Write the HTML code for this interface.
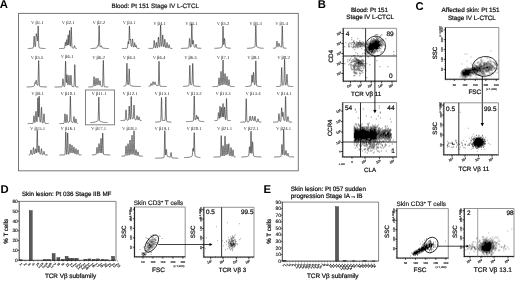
<!DOCTYPE html><html><head><meta charset="utf-8"><style>
html,body{margin:0;padding:0;background:#fff;width:520px;height:282px;overflow:hidden}
svg{display:block;filter:grayscale(1)}
text{text-rendering:geometricPrecision}
</style></head><body><svg xmlns="http://www.w3.org/2000/svg" width="520" height="282" viewBox="0 0 520 282">
<rect width="520" height="282" fill="#fff"/>
<text x="-0.2" y="8.3" font-size="11.3" font-family='"Liberation Sans", sans-serif' font-weight="bold" text-anchor="start" fill="#000">A</text>
<text x="317.8" y="8.3" font-size="11.3" font-family='"Liberation Sans", sans-serif' font-weight="bold" text-anchor="start" fill="#000">B</text>
<text x="415.6" y="9.6" font-size="11.3" font-family='"Liberation Sans", sans-serif' font-weight="bold" text-anchor="start" fill="#000">C</text>
<text x="0.4" y="192.8" font-size="11.3" font-family='"Liberation Sans", sans-serif' font-weight="bold" text-anchor="start" fill="#000">D</text>
<text x="263.6" y="192.5" font-size="11.3" font-family='"Liberation Sans", sans-serif' font-weight="bold" text-anchor="start" fill="#000">E</text>
<text x="111.5" y="8.2" font-size="6.3" font-family='"Liberation Sans", sans-serif' font-weight="normal" text-anchor="start" fill="#222" stroke="#222" stroke-width="0.22">Blood: Pt 151 Stage IV L-CTCL</text>
<rect x="18.5" y="13.4" width="279.8" height="157.4" stroke="#777" stroke-width="1" fill="none"/>
<text x="37.3" y="24.2" font-size="4.7" font-family='"Liberation Serif", serif' font-weight="normal" text-anchor="middle" fill="#1a1a1a">V β1.1</text>
<polyline points="27.8,48.5 27.9,48.5 28.1,48.5 28.2,48.5 28.4,48.5 28.5,48.5 28.7,48.5 28.8,48.5 29.0,48.5 29.1,48.5 29.3,48.5 29.4,48.5 29.6,48.4 29.7,48.4 29.9,48.4 30.0,48.4 30.2,48.4 30.3,48.4 30.5,48.4 30.6,48.4 30.8,48.4 30.9,48.4 31.1,48.3 31.2,48.3 31.4,48.3 31.5,48.3 31.7,48.3 31.8,48.3 32.0,48.2 32.1,48.2 32.3,48.2 32.4,48.2 32.6,48.1 32.7,48.1 32.9,48.0 33.0,47.9 33.2,47.7 33.3,47.2 33.5,46.1 33.6,44.2 33.8,41.5 33.9,38.6 34.1,36.4 34.2,36.1 34.4,37.5 34.5,40.2 34.7,42.9 34.8,45.0 35.0,46.2 35.1,46.7 35.3,46.7 35.4,46.2 35.6,45.1 35.7,43.1 35.9,40.2 36.0,37.0 36.2,34.6 36.3,33.6 36.5,34.1 36.6,35.1 36.8,35.9 36.9,36.4 37.1,37.0 37.2,38.3 37.4,40.0 37.5,40.9 37.7,39.5 37.8,35.2 38.0,29.5 38.1,25.9 38.3,26.9 38.4,32.2 38.6,38.6 38.7,43.6 38.9,46.2 39.0,47.3 39.2,47.7 39.3,47.8 39.5,47.9 39.6,47.9 39.8,48.0 39.9,48.0 40.1,48.1 40.2,48.1 40.4,48.1 40.5,48.2 40.7,48.2 40.8,48.2 41.0,48.2 41.1,48.3 41.3,48.3 41.4,48.3 41.6,48.3 41.7,48.3 41.9,48.3 42.0,48.4 42.2,48.4 42.3,48.4 42.5,48.4 42.6,48.4 42.8,48.4 42.9,48.4 43.1,48.4 43.2,48.4 43.4,48.4 43.5,48.5 43.7,48.5 43.8,48.5 44.0,48.5 44.1,48.5 44.3,48.5 44.4,48.5 44.6,48.5 44.7,48.5 44.9,48.5 45.0,48.5 45.2,48.5 45.3,48.5 45.5,48.5" fill="none" stroke="#222" stroke-width="0.6" stroke-linejoin="round"/>
<text x="68.2" y="24.2" font-size="4.7" font-family='"Liberation Serif", serif' font-weight="normal" text-anchor="middle" fill="#1a1a1a">V β2.1</text>
<polyline points="59.0,48.6 59.1,48.6 59.3,48.6 59.4,48.6 59.6,48.6 59.7,48.5 59.9,48.5 60.0,48.5 60.2,48.5 60.3,48.5 60.5,48.5 60.6,48.5 60.8,48.5 60.9,48.5 61.1,48.5 61.2,48.5 61.4,48.5 61.5,48.5 61.7,48.5 61.8,48.5 62.0,48.5 62.1,48.5 62.3,48.5 62.4,48.4 62.6,48.4 62.7,48.4 62.9,48.4 63.0,48.4 63.2,48.4 63.3,48.4 63.5,48.4 63.6,48.4 63.8,48.4 63.9,48.3 64.1,48.3 64.2,48.3 64.4,48.2 64.5,47.9 64.7,47.4 64.8,46.4 65.0,45.0 65.1,43.5 65.3,42.5 65.4,42.3 65.6,43.0 65.7,44.3 65.9,45.4 66.0,45.9 66.2,45.4 66.3,44.0 66.5,42.0 66.6,40.3 66.8,39.6 66.9,40.2 67.1,41.8 67.2,43.7 67.4,45.0 67.5,45.2 67.7,43.8 67.8,40.9 68.0,37.2 68.1,34.9 68.3,35.4 68.4,38.2 68.6,41.8 68.7,44.3 68.9,44.9 69.0,43.5 69.2,39.9 69.3,35.1 69.5,31.1 69.6,30.5 69.8,33.6 69.9,38.5 70.1,42.8 70.2,45.3 70.4,46.3 70.5,46.1 70.7,44.4 70.8,40.7 71.0,35.1 71.1,29.6 71.3,27.3 71.4,29.8 71.6,35.4 71.7,41.1 71.9,45.0 72.0,46.9 72.2,47.6 72.3,47.8 72.5,47.9 72.6,48.0 72.8,48.0 72.9,48.1 73.1,48.1 73.2,48.1 73.4,48.2 73.5,48.2 73.7,48.1 73.8,47.9 74.0,47.6 74.1,47.0 74.3,46.4 74.4,45.8 74.6,45.6 74.7,45.9 74.9,46.4 75.0,47.1 75.2,47.7 75.3,48.1 75.5,48.3 75.6,48.4 75.8,48.4 75.9,48.4 76.1,48.4 76.2,48.4 76.4,48.5 76.5,48.5 76.7,48.5" fill="none" stroke="#222" stroke-width="0.6" stroke-linejoin="round"/>
<text x="98.8" y="24.2" font-size="4.7" font-family='"Liberation Serif", serif' font-weight="normal" text-anchor="middle" fill="#1a1a1a">V β2.2</text>
<polyline points="90.6,48.5 90.8,48.5 90.9,48.5 91.1,48.5 91.2,48.5 91.4,48.5 91.5,48.5 91.7,48.5 91.8,48.5 92.0,48.5 92.1,48.5 92.3,48.5 92.4,48.4 92.6,48.4 92.7,48.4 92.9,48.4 93.0,48.4 93.2,48.4 93.3,48.4 93.5,48.4 93.6,48.4 93.8,48.4 93.9,48.3 94.1,48.3 94.2,48.3 94.4,48.3 94.5,48.3 94.7,48.3 94.8,48.2 95.0,48.2 95.1,48.2 95.3,48.2 95.4,48.1 95.6,48.1 95.7,48.1 95.9,48.0 96.0,48.0 96.2,47.9 96.3,47.9 96.5,47.8 96.6,47.8 96.8,47.7 96.9,47.5 97.1,47.3 97.2,46.9 97.4,46.4 97.5,45.9 97.7,45.6 97.8,45.6 98.0,45.8 98.1,46.1 98.3,46.1 98.4,45.3 98.6,42.8 98.7,38.0 98.9,31.6 99.0,26.4 99.2,25.5 99.3,29.5 99.5,35.9 99.6,41.4 99.8,44.8 99.9,46.2 100.1,46.7 100.2,46.9 100.4,46.9 100.5,46.9 100.7,46.8 100.8,46.5 101.0,46.2 101.1,45.9 101.3,45.7 101.4,45.8 101.6,46.2 101.7,46.7 101.9,47.1 102.0,47.5 102.2,47.7 102.3,47.8 102.5,47.9 102.6,48.0 102.8,48.0 102.9,48.0 103.1,48.1 103.2,48.1 103.4,48.1 103.5,48.2 103.7,48.2 103.8,48.2 104.0,48.3 104.1,48.3 104.3,48.3 104.4,48.3 104.6,48.3 104.7,48.3 104.9,48.3 105.0,48.4 105.2,48.4 105.3,48.4 105.5,48.4 105.6,48.4 105.8,48.4 105.9,48.4 106.1,48.4 106.2,48.4 106.4,48.4 106.5,48.5 106.7,48.5 106.8,48.5 107.0,48.5 107.1,48.5 107.3,48.5 107.4,48.5 107.6,48.5 107.7,48.5 107.9,48.5 108.0,48.5 108.2,48.5 108.3,48.5 108.5,48.5 108.6,48.5 108.8,48.5 108.9,48.5" fill="none" stroke="#222" stroke-width="0.6" stroke-linejoin="round"/>
<text x="129.2" y="24.2" font-size="4.7" font-family='"Liberation Serif", serif' font-weight="normal" text-anchor="middle" fill="#1a1a1a">V β3.1</text>
<polyline points="121.8,48.6 122.0,48.6 122.1,48.6 122.3,48.5 122.4,48.5 122.6,48.5 122.7,48.5 122.9,48.5 123.0,48.5 123.2,48.5 123.3,48.5 123.5,48.5 123.6,48.5 123.8,48.5 123.9,48.5 124.1,48.5 124.2,48.5 124.4,48.5 124.5,48.5 124.7,48.5 124.8,48.5 125.0,48.4 125.1,48.4 125.3,48.4 125.4,48.4 125.6,48.4 125.7,48.4 125.9,48.4 126.0,48.4 126.2,48.4 126.3,48.4 126.5,48.3 126.6,48.3 126.8,48.3 126.9,48.3 127.1,48.2 127.2,48.1 127.4,47.8 127.5,47.2 127.7,46.1 127.8,44.6 128.0,42.9 128.1,41.7 128.3,41.5 128.4,42.3 128.6,43.5 128.7,44.0 128.9,42.6 129.0,38.4 129.2,32.3 129.3,27.1 129.5,26.1 129.6,29.6 129.8,35.0 129.9,38.9 130.1,40.2 130.2,39.7 130.4,39.0 130.5,39.3 130.7,40.7 130.8,42.6 131.0,44.4 131.1,45.7 131.3,46.4 131.4,46.6 131.6,46.5 131.7,46.1 131.9,45.2 132.0,43.7 132.2,41.8 132.3,39.9 132.5,38.9 132.6,39.1 132.8,40.6 132.9,42.6 133.1,44.6 133.2,45.9 133.4,46.7 133.5,47.1 133.7,47.1 133.8,47.0 134.0,46.5 134.1,45.6 134.3,44.4 134.4,43.2 134.6,42.6 134.7,42.8 134.9,43.8 135.0,45.1 135.2,46.2 135.3,46.8 135.5,46.8 135.6,46.3 135.8,45.7 135.9,45.2 136.1,45.1 136.2,45.6 136.4,46.3 136.5,47.1 136.7,47.7 136.8,48.0 137.0,48.2 137.1,48.3 137.3,48.3 137.4,48.4 137.6,48.4 137.7,48.4 137.9,48.4 138.0,48.4 138.2,48.4 138.3,48.4 138.5,48.4 138.6,48.4 138.8,48.4 138.9,48.5 139.1,48.5 139.2,48.5 139.4,48.5 139.5,48.5" fill="none" stroke="#222" stroke-width="0.6" stroke-linejoin="round"/>
<text x="159.5" y="24.5" font-size="4.7" font-family='"Liberation Serif", serif' font-weight="normal" text-anchor="middle" fill="#1a1a1a">V β4.1</text>
<polyline points="148.5,48.4 148.7,48.4 148.8,48.4 149.0,48.4 149.1,48.4 149.3,48.4 149.4,48.4 149.6,48.4 149.7,48.4 149.9,48.4 150.0,48.4 150.2,48.4 150.3,48.4 150.5,48.4 150.6,48.4 150.8,48.4 150.9,48.4 151.1,48.4 151.2,48.4 151.4,48.4 151.5,48.4 151.7,48.4 151.8,48.4 152.0,48.4 152.1,48.3 152.3,48.3 152.4,48.3 152.6,48.3 152.7,48.3 152.9,48.3 153.0,48.3 153.2,48.2 153.3,48.0 153.5,47.4 153.6,46.3 153.8,44.7 153.9,42.7 154.1,41.0 154.2,40.4 154.4,41.0 154.5,42.7 154.7,44.6 154.8,46.3 155.0,47.3 155.1,47.9 155.3,48.0 155.4,47.9 155.6,47.5 155.7,46.8 155.9,45.6 156.0,44.1 156.2,42.9 156.3,42.4 156.5,42.9 156.6,44.1 156.8,45.5 156.9,46.6 157.1,47.4 157.2,47.7 157.4,47.8 157.5,47.5 157.7,46.7 157.8,45.2 158.0,43.0 158.1,40.3 158.3,38.0 158.4,37.1 158.6,37.9 158.7,40.1 158.9,42.7 159.0,44.9 159.2,46.2 159.3,46.9 159.5,47.2 159.6,47.1 159.8,46.8 159.9,45.7 160.1,42.9 160.2,37.9 160.4,31.3 160.5,25.9 160.7,25.0 160.8,29.0 161.0,35.5 161.1,41.1 161.3,44.5 161.4,46.0 161.6,46.4 161.7,46.3 161.9,45.9 162.0,44.8 162.2,42.9 162.3,40.2 162.5,37.2 162.6,35.1 162.8,34.9 162.9,36.5 163.1,39.4 163.2,42.4 163.4,44.7 163.5,46.1 163.7,46.8 163.8,47.0 164.0,46.8 164.1,46.2 164.3,44.8 164.4,42.9 164.6,40.9 164.7,39.4 164.9,39.2 165.0,40.4 165.2,42.5 165.3,44.6 165.5,46.2 165.6,47.2 165.8,47.7 165.9,47.9 166.1,47.8 166.2,47.6 166.4,47.0 166.5,45.9 166.7,44.6 166.8,43.2 167.0,42.5 167.1,42.7 167.3,43.7 167.4,45.1 167.6,46.4 167.7,47.3 167.9,47.8 168.0,48.1 168.2,48.1 168.3,47.9 168.5,47.5 168.6,46.9 168.8,46.0 168.9,45.2 169.1,44.7 169.2,44.8 169.4,45.5 169.5,46.3 169.7,47.2 169.8,47.8 170.0,48.1 170.1,48.2 170.3,48.3 170.4,48.3 170.6,48.3 170.7,48.3 170.9,48.3 171.0,48.3 171.2,48.3 171.3,48.4 171.5,48.4 171.6,48.4 171.8,48.4 171.9,48.4 172.1,48.4 172.2,48.4 172.4,48.4 172.5,48.4" fill="none" stroke="#222" stroke-width="0.6" stroke-linejoin="round"/>
<text x="191.5" y="24.5" font-size="4.7" font-family='"Liberation Serif", serif' font-weight="normal" text-anchor="middle" fill="#1a1a1a">V β5.1</text>
<polyline points="181.0,48.4 181.2,48.4 181.3,48.4 181.5,48.4 181.6,48.4 181.8,48.4 181.9,48.4 182.1,48.4 182.2,48.4 182.4,48.4 182.5,48.4 182.7,48.4 182.8,48.4 183.0,48.4 183.1,48.3 183.3,48.3 183.4,48.3 183.6,48.3 183.7,48.3 183.9,48.3 184.0,48.3 184.2,48.3 184.3,48.3 184.5,48.3 184.6,48.3 184.8,48.3 184.9,48.3 185.1,48.3 185.2,48.3 185.4,48.3 185.5,48.3 185.7,48.3 185.8,48.2 186.0,48.2 186.1,48.2 186.3,48.2 186.4,48.2 186.6,48.2 186.7,48.2 186.9,48.2 187.0,48.2 187.2,48.2 187.3,48.1 187.5,48.1 187.6,48.1 187.8,48.1 187.9,48.1 188.1,48.1 188.2,48.0 188.4,48.0 188.5,47.9 188.7,47.7 188.8,47.1 189.0,46.0 189.1,44.3 189.3,41.9 189.4,39.7 189.6,38.4 189.7,38.6 189.9,40.2 190.0,42.5 190.2,44.5 190.3,46.0 190.5,46.8 190.6,47.1 190.8,47.1 190.9,46.9 191.1,46.1 191.2,43.9 191.4,39.5 191.5,33.0 191.7,26.7 191.8,23.9 192.0,26.6 192.1,32.8 192.3,39.0 192.4,43.0 192.6,44.3 192.7,43.9 192.9,42.6 193.0,41.1 193.2,40.3 193.3,40.5 193.5,41.7 193.6,43.3 193.8,44.8 193.9,45.9 194.1,46.6 194.2,46.9 194.4,47.1 194.5,47.2 194.7,47.2 194.8,47.3 195.0,47.3 195.1,47.3 195.3,47.1 195.4,46.7 195.6,46.0 195.7,45.1 195.9,44.4 196.0,44.2 196.2,44.5 196.3,45.3 196.5,46.3 196.6,47.0 196.8,47.6 196.9,47.8 197.1,48.0 197.2,48.0 197.4,48.1 197.5,48.1 197.7,48.1 197.8,48.1 198.0,48.1 198.1,48.1 198.3,48.2 198.4,48.2 198.6,48.2 198.7,48.2 198.9,48.2 199.0,48.2 199.2,48.2 199.3,48.2 199.5,48.2 199.6,48.2 199.8,48.3 199.9,48.3 200.1,48.3 200.2,48.3 200.4,48.3 200.5,48.3 200.7,48.3 200.8,48.3 201.0,48.3 201.1,48.3 201.3,48.3" fill="none" stroke="#222" stroke-width="0.6" stroke-linejoin="round"/>
<text x="223" y="24.5" font-size="4.7" font-family='"Liberation Serif", serif' font-weight="normal" text-anchor="middle" fill="#1a1a1a">V β5.2</text>
<polyline points="214.4,48.3 214.6,48.3 214.7,48.3 214.9,48.3 215.0,48.3 215.2,48.3 215.3,48.3 215.5,48.3 215.6,48.3 215.8,48.3 215.9,48.3 216.1,48.3 216.2,48.3 216.4,48.3 216.5,48.3 216.7,48.3 216.8,48.2 217.0,48.2 217.1,48.2 217.3,48.2 217.4,48.2 217.6,48.2 217.7,48.2 217.9,48.2 218.0,48.2 218.2,48.2 218.3,48.1 218.5,48.1 218.6,48.1 218.8,48.1 218.9,48.1 219.1,48.1 219.2,48.0 219.4,48.0 219.5,48.0 219.7,48.0 219.8,47.9 220.0,47.9 220.1,47.9 220.3,47.8 220.4,47.8 220.6,47.7 220.7,47.7 220.9,47.6 221.0,47.6 221.2,47.5 221.3,47.5 221.5,47.4 221.6,47.3 221.8,47.2 221.9,47.1 222.1,47.0 222.2,46.4 222.4,45.0 222.5,41.7 222.7,36.3 222.8,30.1 223.0,26.2 223.1,27.0 223.3,31.9 223.4,38.0 223.6,42.5 223.7,44.5 223.9,44.6 224.0,43.3 224.2,41.4 224.3,39.5 224.5,38.4 224.6,38.7 224.8,40.2 224.9,42.3 225.1,44.3 225.2,45.7 225.4,46.5 225.5,46.9 225.7,47.1 225.8,47.3 226.0,47.3 226.1,47.4 226.3,47.5 226.4,47.5 226.6,47.6 226.7,47.7 226.9,47.7 227.0,47.8 227.2,47.8 227.3,47.8 227.5,47.9 227.6,47.9 227.8,48.0 227.9,48.0 228.1,48.0 228.2,48.0 228.4,48.1 228.5,48.1 228.7,48.1 228.8,48.1 229.0,48.1 229.1,48.1 229.3,48.2 229.4,48.2 229.6,48.2 229.7,48.2 229.9,48.2 230.0,48.2 230.2,48.2 230.3,48.2 230.5,48.2 230.6,48.2 230.8,48.3" fill="none" stroke="#222" stroke-width="0.6" stroke-linejoin="round"/>
<text x="255.5" y="24.5" font-size="4.7" font-family='"Liberation Serif", serif' font-weight="normal" text-anchor="middle" fill="#1a1a1a">V β5.3</text>
<polyline points="247.0,48.3 247.2,48.3 247.3,48.3 247.5,48.3 247.6,48.3 247.8,48.3 247.9,48.3 248.1,48.3 248.2,48.3 248.4,48.3 248.5,48.3 248.7,48.3 248.8,48.3 249.0,48.2 249.1,48.2 249.3,48.2 249.4,48.2 249.6,48.2 249.7,48.2 249.9,48.2 250.0,48.2 250.2,48.2 250.3,48.2 250.5,48.1 250.6,48.1 250.8,48.1 250.9,48.1 251.1,48.1 251.2,48.1 251.4,48.0 251.5,48.0 251.7,48.0 251.8,48.0 252.0,47.9 252.1,47.9 252.3,47.8 252.4,47.8 252.6,47.8 252.7,47.7 252.9,47.7 253.0,47.6 253.2,47.5 253.3,47.5 253.5,47.4 253.6,47.3 253.8,47.3 253.9,47.2 254.1,47.1 254.2,47.1 254.4,47.0 254.5,46.9 254.7,46.8 254.8,46.7 255.0,46.4 255.1,45.3 255.3,42.6 255.4,37.7 255.6,31.3 255.7,26.1 255.9,25.2 256.0,29.2 256.2,35.6 256.3,41.2 256.5,44.6 256.6,46.1 256.8,46.6 256.9,46.8 257.1,46.9 257.2,47.0 257.4,47.0 257.5,47.1 257.7,47.2 257.8,47.2 258.0,47.3 258.1,47.4 258.3,47.5 258.4,47.5 258.6,47.6 258.7,47.6 258.9,47.7 259.0,47.7 259.2,47.8 259.3,47.8 259.5,47.9 259.6,47.9 259.8,47.9 259.9,48.0 260.1,48.0 260.2,48.0 260.4,48.0 260.5,48.1 260.7,48.1 260.8,48.1 261.0,48.1 261.1,48.1 261.3,48.1 261.4,48.2 261.6,48.2 261.7,48.2 261.9,48.2 262.0,48.2 262.2,48.2 262.3,48.2 262.5,48.2 262.6,48.2 262.8,48.2 262.9,48.3 263.1,48.3 263.2,48.3 263.4,48.3 263.5,48.3" fill="none" stroke="#222" stroke-width="0.6" stroke-linejoin="round"/>
<text x="281.5" y="24.5" font-size="4.7" font-family='"Liberation Serif", serif' font-weight="normal" text-anchor="middle" fill="#1a1a1a">V β5.4</text>
<polyline points="273.0,48.2 273.1,48.2 273.3,48.2 273.4,48.2 273.6,48.2 273.7,48.2 273.9,48.2 274.0,48.1 274.2,48.1 274.3,48.1 274.5,48.1 274.6,48.1 274.8,48.1 274.9,48.0 275.1,48.0 275.2,48.0 275.4,48.0 275.5,47.9 275.7,47.9 275.8,47.8 276.0,47.7 276.1,47.4 276.3,46.8 276.4,45.7 276.6,44.2 276.7,42.5 276.9,41.3 277.0,41.1 277.2,41.9 277.3,43.3 277.5,44.8 277.6,45.9 277.8,46.5 277.9,46.8 278.1,46.7 278.2,46.5 278.4,46.0 278.5,45.2 278.7,44.3 278.8,43.6 279.0,43.2 279.1,43.5 279.3,44.2 279.4,45.0 279.6,45.8 279.7,46.2 279.9,46.5 280.0,46.6 280.2,46.7 280.3,46.8 280.5,46.8 280.6,46.9 280.8,46.9 280.9,47.0 281.1,47.1 281.2,47.1 281.4,47.0 281.5,46.3 281.7,44.4 281.8,40.4 282.0,34.3 282.1,28.4 282.3,25.9 282.4,28.5 282.6,34.6 282.7,40.7 282.9,44.9 283.0,46.9 283.2,47.7 283.3,47.9 283.5,48.0 283.6,48.0 283.8,48.0 283.9,48.0 284.1,48.1 284.2,48.1 284.4,48.1 284.5,48.1 284.7,48.1 284.8,48.1 285.0,48.2 285.1,48.2 285.3,48.2 285.4,48.2 285.6,48.2 285.7,48.2 285.9,48.2 286.0,48.2 286.2,48.2 286.3,48.2 286.5,48.3" fill="none" stroke="#222" stroke-width="0.6" stroke-linejoin="round"/>
<text x="37" y="59.2" font-size="4.7" font-family='"Liberation Serif", serif' font-weight="normal" text-anchor="middle" fill="#1a1a1a">V β5.5</text>
<polyline points="26.7,87.0 26.8,87.0 27.0,86.9 27.1,86.9 27.3,86.9 27.4,86.9 27.6,86.9 27.7,86.9 27.9,86.9 28.0,86.9 28.2,86.9 28.3,86.9 28.5,86.9 28.6,86.9 28.8,86.9 28.9,86.9 29.1,86.9 29.2,86.9 29.4,86.9 29.5,86.9 29.7,86.8 29.8,86.8 30.0,86.8 30.1,86.8 30.3,86.8 30.4,86.8 30.6,86.8 30.7,86.8 30.9,86.8 31.0,86.8 31.2,86.7 31.3,86.7 31.5,86.7 31.6,86.7 31.8,86.7 31.9,86.7 32.1,86.6 32.2,86.6 32.4,86.6 32.5,86.6 32.7,86.5 32.8,86.5 33.0,86.5 33.1,86.4 33.3,86.4 33.4,86.3 33.6,86.3 33.7,86.2 33.9,86.1 34.0,86.0 34.2,85.8 34.3,85.4 34.5,84.8 34.6,84.0 34.8,83.2 34.9,82.7 35.1,82.7 35.2,83.0 35.4,83.4 35.5,83.5 35.7,83.0 35.8,82.0 36.0,80.9 36.1,80.3 36.3,80.4 36.4,81.3 36.6,82.5 36.7,83.6 36.9,84.5 37.0,84.9 37.2,85.2 37.3,85.3 37.5,85.3 37.6,85.3 37.8,85.2 37.9,84.4 38.1,82.2 38.2,77.4 38.4,70.3 38.5,63.4 38.7,60.5 38.8,63.5 39.0,70.6 39.1,77.8 39.3,82.7 39.4,85.1 39.6,86.0 39.7,86.3 39.9,86.4 40.0,86.4 40.2,86.5 40.3,86.5 40.5,86.5 40.6,86.6 40.8,86.6 40.9,86.6 41.1,86.6 41.2,86.7 41.4,86.7 41.5,86.7 41.7,86.7 41.8,86.7 42.0,86.7 42.1,86.8 42.3,86.8 42.4,86.8 42.6,86.8 42.7,86.8 42.9,86.8 43.0,86.8 43.2,86.8 43.3,86.8 43.5,86.8 43.6,86.9 43.8,86.9 43.9,86.9 44.1,86.9 44.2,86.9 44.4,86.9 44.5,86.9 44.7,86.9 44.8,86.9 45.0,86.9 45.1,86.9 45.3,86.9 45.4,86.9 45.6,86.9 45.7,86.9 45.9,86.9 46.0,86.9 46.2,86.9 46.3,87.0 46.5,87.0 46.6,87.0 46.8,87.0 46.9,87.0" fill="none" stroke="#222" stroke-width="0.6" stroke-linejoin="round"/>
<text x="67" y="58.3" font-size="4.7" font-family='"Liberation Serif", serif' font-weight="normal" text-anchor="middle" fill="#1a1a1a">V β6.1</text>
<polyline points="54.6,87.0 54.8,87.0 54.9,87.0 55.0,87.0 55.2,87.0 55.3,87.0 55.5,87.0 55.6,87.0 55.8,87.0 55.9,87.0 56.1,87.0 56.2,87.0 56.4,87.0 56.5,87.0 56.7,87.0 56.8,87.0 57.0,87.0 57.1,87.0 57.3,87.0 57.4,87.0 57.6,87.0 57.7,87.0 57.9,87.0 58.0,87.0 58.2,87.0 58.3,87.0 58.5,87.0 58.6,87.0 58.8,86.9 58.9,86.9 59.1,86.9 59.2,86.9 59.4,86.9 59.5,86.9 59.7,86.9 59.8,86.9 60.0,86.9 60.1,86.9 60.3,86.9 60.4,86.9 60.6,86.9 60.7,86.9 60.9,86.9 61.0,86.9 61.2,86.9 61.3,86.9 61.5,86.8 61.6,86.8 61.8,86.8 61.9,86.7 62.1,86.5 62.2,85.9 62.4,84.8 62.5,83.1 62.7,81.1 62.8,79.4 63.0,78.7 63.1,79.4 63.3,81.1 63.4,83.0 63.6,84.7 63.7,85.7 63.9,86.3 64.0,86.5 64.2,86.6 64.3,86.6 64.5,86.5 64.6,86.3 64.8,85.7 64.9,84.0 65.1,80.0 65.2,73.5 65.4,65.9 65.5,61.2 65.7,62.1 65.8,68.1 66.0,75.4 66.1,80.6 66.3,82.6 66.4,81.9 66.6,79.7 66.7,77.0 66.9,75.0 67.0,74.6 67.2,76.0 67.3,78.6 67.5,81.2 67.6,83.2 67.8,84.3 67.9,84.8 68.1,84.7 68.2,84.0 68.4,82.7 68.5,80.6 68.7,78.2 68.8,76.1 69.0,75.3 69.1,76.1 69.3,78.3 69.4,80.8 69.6,83.0 69.7,84.4 69.9,85.1 70.0,85.2 70.2,84.8 70.3,83.7 70.5,81.7 70.6,79.1 70.8,76.6 70.9,75.2 71.1,75.6 71.2,77.6 71.4,80.3 71.5,82.9 71.7,84.7 71.8,85.7 72.0,86.2 72.1,86.4 72.3,86.5 72.4,86.6 72.6,86.6 72.7,86.6 72.9,86.6 73.0,86.7 73.2,86.7 73.3,86.7 73.5,86.7 73.6,86.7 73.8,86.7 73.9,86.3 74.1,85.3 74.2,82.6 74.4,77.5 74.5,70.9 74.7,65.5 74.8,64.6 75.0,68.8 75.1,75.4 75.3,81.2 75.4,84.7 75.6,86.2 75.7,86.7 75.9,86.8 76.0,86.9 76.2,86.9 76.3,86.9 76.5,86.9 76.6,86.9 76.8,86.9 76.9,86.9 77.1,86.9 77.2,86.9 77.4,86.9 77.5,86.9 77.7,86.9 77.8,86.9 78.0,86.9 78.1,87.0 78.3,87.0 78.4,87.0 78.6,87.0" fill="none" stroke="#222" stroke-width="0.6" stroke-linejoin="round"/>
<text x="98.5" y="59.2" font-size="4.7" font-family='"Liberation Serif", serif' font-weight="normal" text-anchor="middle" fill="#1a1a1a">V β6.2</text>
<polyline points="88.3,87.0 88.5,87.0 88.6,87.0 88.8,86.9 88.9,86.9 89.1,86.9 89.2,86.9 89.4,86.9 89.5,86.9 89.7,86.9 89.8,86.9 90.0,86.9 90.1,86.9 90.3,86.9 90.4,86.9 90.6,86.9 90.7,86.9 90.9,86.9 91.0,86.9 91.2,86.9 91.3,86.8 91.5,86.8 91.6,86.8 91.8,86.8 91.9,86.8 92.1,86.8 92.2,86.8 92.4,86.8 92.5,86.8 92.7,86.8 92.8,86.7 93.0,86.6 93.1,86.3 93.3,85.6 93.4,84.2 93.6,82.1 93.7,79.6 93.9,77.5 94.0,76.6 94.2,77.4 94.3,79.5 94.5,81.9 94.6,84.0 94.8,85.3 94.9,85.9 95.1,86.0 95.2,85.6 95.4,84.7 95.5,83.1 95.7,81.1 95.8,79.2 96.0,78.1 96.1,78.2 96.3,79.6 96.4,81.5 96.6,83.2 96.7,84.4 96.9,85.0 97.0,85.2 97.2,85.0 97.3,84.3 97.5,83.2 97.6,81.5 97.8,79.8 97.9,78.5 98.1,78.3 98.2,79.2 98.4,80.8 98.5,82.5 98.7,83.9 98.8,84.6 99.0,85.0 99.1,85.1 99.3,84.8 99.4,84.2 99.6,83.2 99.7,82.0 99.9,81.1 100.0,80.7 100.2,81.2 100.3,82.3 100.5,83.6 100.6,84.8 100.8,85.5 100.9,85.9 101.1,86.1 101.2,86.2 101.4,86.3 101.5,86.4 101.7,86.4 101.8,86.4 102.0,86.5 102.1,86.5 102.3,86.5 102.4,86.3 102.6,85.5 102.7,83.1 102.9,78.1 103.0,70.7 103.2,63.5 103.3,60.4 103.5,63.5 103.6,70.8 103.8,78.2 103.9,83.2 104.1,85.6 104.2,86.5 104.4,86.7 104.5,86.8 104.7,86.8 104.8,86.8 105.0,86.8 105.1,86.8 105.3,86.8 105.4,86.9 105.6,86.9 105.7,86.9 105.9,86.9 106.0,86.9 106.2,86.9 106.3,86.9 106.5,86.9 106.6,86.9 106.8,86.9 106.9,86.9 107.1,86.9 107.2,86.9 107.4,86.9 107.5,86.9 107.7,86.9 107.8,86.9 108.0,87.0 108.1,87.0 108.3,87.0 108.4,87.0" fill="none" stroke="#222" stroke-width="0.6" stroke-linejoin="round"/>
<text x="129" y="59.2" font-size="4.7" font-family='"Liberation Serif", serif' font-weight="normal" text-anchor="middle" fill="#1a1a1a">V β6.3</text>
<polyline points="123.5,86.1 123.7,86.1 123.8,86.1 124.0,86.1 124.1,86.0 124.3,86.0 124.4,86.0 124.6,85.9 124.7,85.9 124.9,85.8 125.0,85.8 125.2,85.7 125.3,85.7 125.5,85.6 125.6,85.6 125.8,85.5 125.9,85.3 126.1,84.9 126.2,83.8 126.4,81.1 126.5,76.1 126.7,69.5 126.8,64.2 127.0,63.2 127.1,67.3 127.3,73.7 127.4,79.3 127.6,82.6 127.7,84.1 127.9,84.6 128.0,84.7 128.2,84.7 128.3,84.5 128.5,84.0 128.6,82.6 128.8,79.5 128.9,75.0 129.1,70.6 129.2,68.8 129.4,70.7 129.5,75.3 129.7,79.9 129.8,83.0 130.0,84.6 130.1,85.2 130.3,85.4 130.4,85.5 130.6,85.6 130.7,85.6 130.9,85.7 131.0,85.8 131.2,85.8 131.3,85.9 131.5,85.9 131.6,85.9 131.8,86.0 131.9,86.0 132.1,86.1 132.2,86.1 132.4,86.1 132.5,86.1 132.7,86.2 132.8,86.2 133.0,86.2 133.1,86.2 133.3,86.2 133.4,86.2 133.6,86.3 133.7,86.3 133.9,86.3 134.0,86.3 134.2,86.3 134.3,86.3 134.5,86.3 134.6,86.3 134.8,86.3 134.9,86.3 135.1,86.4 135.2,86.4 135.4,86.4 135.5,86.4 135.7,86.4 135.8,86.4 136.0,86.4 136.1,86.4 136.3,86.4 136.4,86.4 136.6,86.4 136.7,86.4 136.9,86.4 137.0,86.4 137.2,86.4 137.3,86.4 137.5,86.4 137.6,86.4 137.8,86.5 137.9,86.5 138.1,86.5 138.2,86.5 138.4,86.5 138.5,86.5 138.7,86.5 138.8,86.5 139.0,86.5 139.1,86.5 139.3,86.5 139.4,86.5 139.6,86.5 139.7,86.5 139.9,86.5 140.0,86.5 140.2,86.5 140.3,86.5 140.5,86.5 140.6,86.5 140.8,86.5" fill="none" stroke="#222" stroke-width="0.6" stroke-linejoin="round"/>
<text x="159" y="59.2" font-size="4.7" font-family='"Liberation Serif", serif' font-weight="normal" text-anchor="middle" fill="#1a1a1a">V β6.4</text>
<polyline points="148.5,86.3 148.7,86.3 148.8,86.3 149.0,86.3 149.1,86.2 149.3,86.2 149.4,86.2 149.6,86.2 149.7,86.2 149.9,86.1 150.0,86.1 150.2,86.0 150.3,85.7 150.5,85.3 150.6,84.7 150.8,84.0 150.9,83.6 151.1,83.4 151.2,83.7 151.4,84.3 151.5,84.8 151.7,85.2 151.8,85.4 152.0,85.5 152.1,85.4 152.3,85.1 152.4,84.5 152.6,83.7 152.7,82.8 152.9,82.0 153.0,81.6 153.2,81.8 153.3,82.5 153.5,83.3 153.6,84.0 153.8,84.4 153.9,84.6 154.1,84.6 154.2,84.5 154.4,84.1 154.5,83.6 154.7,82.8 154.8,82.1 155.0,81.8 155.1,81.9 155.3,82.5 155.4,83.2 155.6,84.0 155.7,84.5 155.9,84.9 156.0,85.0 156.2,85.2 156.3,85.2 156.5,85.3 156.6,85.4 156.8,85.5 156.9,85.5 157.1,85.6 157.2,85.7 157.4,85.7 157.5,85.8 157.7,85.8 157.8,85.9 158.0,85.9 158.1,85.7 158.3,84.9 158.4,82.7 158.6,78.0 158.7,71.0 158.9,64.1 159.0,61.2 159.2,64.2 159.3,71.1 159.5,78.1 159.6,82.8 159.8,85.1 159.9,86.0 160.1,86.2 160.2,86.3 160.4,86.3 160.5,86.3 160.7,86.3 160.8,86.3 161.0,86.3 161.1,86.3 161.3,86.3 161.4,86.3 161.6,86.4 161.7,86.4 161.9,86.4 162.0,86.4 162.2,86.4 162.3,86.4 162.5,86.4 162.6,86.4 162.8,86.4 162.9,86.4 163.1,86.4 163.2,86.4 163.4,86.4 163.5,86.4 163.7,86.4 163.8,86.4 164.0,86.4 164.1,86.4 164.3,86.5 164.4,86.5 164.6,86.5 164.7,86.5 164.9,86.5 165.0,86.5 165.2,86.5 165.3,86.5 165.5,86.5 165.6,86.5 165.8,86.5 165.9,86.5 166.1,86.5 166.2,86.5 166.4,86.5 166.5,86.5 166.7,86.5" fill="none" stroke="#222" stroke-width="0.6" stroke-linejoin="round"/>
<text x="190.5" y="59.2" font-size="4.7" font-family='"Liberation Serif", serif' font-weight="normal" text-anchor="middle" fill="#1a1a1a">V β6.5</text>
<polyline points="183.0,86.4 183.2,86.4 183.3,86.4 183.5,86.4 183.6,86.4 183.8,86.4 183.9,86.4 184.1,86.4 184.2,86.4 184.4,86.3 184.5,86.3 184.7,86.3 184.8,86.3 185.0,86.3 185.1,86.3 185.3,86.3 185.4,86.3 185.6,86.3 185.7,86.3 185.9,86.2 186.0,86.2 186.2,86.2 186.3,86.2 186.5,86.2 186.6,86.2 186.8,86.1 186.9,86.1 187.1,86.1 187.2,86.1 187.4,86.0 187.5,86.0 187.7,86.0 187.8,85.9 188.0,85.9 188.1,85.8 188.3,85.8 188.4,85.7 188.6,85.7 188.7,85.6 188.9,85.4 189.0,84.9 189.2,83.5 189.3,80.3 189.5,75.1 189.6,69.1 189.8,65.3 189.9,66.0 190.1,70.8 190.2,76.7 190.4,81.1 190.5,83.5 190.7,84.4 190.8,84.7 191.0,84.7 191.1,84.7 191.3,84.7 191.4,84.7 191.6,84.7 191.7,84.7 191.9,84.4 192.0,83.4 192.2,80.8 192.3,75.9 192.5,69.4 192.6,64.2 192.8,63.4 192.9,67.6 193.1,74.1 193.2,79.8 193.4,83.3 193.5,84.8 193.7,85.4 193.8,85.6 194.0,85.7 194.1,85.7 194.3,85.8 194.4,85.8 194.6,85.9 194.7,85.9 194.9,86.0 195.0,86.0 195.2,86.0 195.3,86.1 195.5,86.1 195.6,86.1 195.8,86.1 195.9,86.2 196.1,86.2 196.2,86.2 196.4,86.2 196.5,86.2 196.7,86.2 196.8,86.3 197.0,86.3 197.1,86.3 197.3,86.3 197.4,86.3 197.6,86.3 197.7,86.3 197.9,86.3 198.0,86.3 198.2,86.3 198.3,86.4 198.5,86.4 198.6,86.4 198.8,86.4 198.9,86.4 199.1,86.4 199.2,86.4 199.4,86.4 199.5,86.4 199.7,86.4 199.8,86.4 200.0,86.4 200.1,86.4 200.3,86.4 200.4,86.4" fill="none" stroke="#222" stroke-width="0.6" stroke-linejoin="round"/>
<text x="223" y="59.2" font-size="4.7" font-family='"Liberation Serif", serif' font-weight="normal" text-anchor="middle" fill="#1a1a1a">V β7.1</text>
<polyline points="212.5,86.6 212.7,86.6 212.8,86.6 213.0,86.6 213.1,86.6 213.3,86.6 213.4,86.6 213.6,86.6 213.7,86.6 213.9,86.6 214.0,86.6 214.2,86.6 214.3,86.6 214.5,86.5 214.6,86.5 214.8,86.5 214.9,86.5 215.1,86.5 215.2,86.5 215.4,86.5 215.5,86.5 215.7,86.5 215.8,86.5 216.0,86.5 216.1,86.5 216.3,86.5 216.4,86.5 216.6,86.5 216.7,86.5 216.9,86.5 217.0,86.5 217.2,86.4 217.3,86.4 217.5,86.4 217.6,86.4 217.8,86.4 217.9,86.3 218.1,86.1 218.2,85.6 218.4,84.7 218.5,83.1 218.7,81.0 218.8,79.0 219.0,77.8 219.1,78.0 219.3,79.5 219.4,81.6 219.6,83.6 219.7,84.9 219.9,85.6 220.0,85.7 220.2,85.2 220.3,83.9 220.5,81.5 220.6,78.1 220.8,74.5 220.9,71.9 221.1,71.4 221.2,73.3 221.4,76.6 221.5,80.1 221.7,82.7 221.8,84.3 222.0,85.0 222.1,85.0 222.3,84.2 222.4,81.9 222.6,77.1 222.7,70.0 222.9,63.0 223.0,60.0 223.2,62.9 223.3,69.7 223.5,76.7 223.6,81.4 223.8,83.7 223.9,84.4 224.1,84.4 224.2,83.8 224.4,82.6 224.5,80.4 224.7,77.7 224.8,75.0 225.0,73.5 225.1,73.9 225.3,76.0 225.4,78.9 225.6,81.6 225.7,83.5 225.9,84.6 226.0,85.0 226.2,84.9 226.3,84.1 226.5,82.7 226.6,80.5 226.8,78.2 226.9,76.6 227.1,76.4 227.2,77.7 227.4,80.0 227.5,82.4 227.7,84.2 227.8,85.3 228.0,85.8 228.1,85.8 228.3,85.4 228.4,84.6 228.6,83.2 228.7,81.6 228.9,80.2 229.0,79.7 229.2,80.3 229.3,81.7 229.5,83.3 229.6,84.7 229.8,85.6 229.9,86.1 230.1,86.3 230.2,86.4 230.4,86.4 230.5,86.4 230.7,86.4 230.8,86.4 231.0,86.4 231.1,86.5 231.3,86.5 231.4,86.5 231.6,86.5 231.7,86.5 231.9,86.5 232.0,86.5 232.2,86.5 232.3,86.5 232.5,86.5 232.6,86.5 232.8,86.5 232.9,86.5 233.1,86.5 233.2,86.5 233.4,86.5 233.5,86.5 233.7,86.5 233.8,86.6 234.0,86.6 234.1,86.6 234.3,86.6 234.4,86.6 234.6,86.6" fill="none" stroke="#222" stroke-width="0.6" stroke-linejoin="round"/>
<text x="253.5" y="59.2" font-size="4.7" font-family='"Liberation Serif", serif' font-weight="normal" text-anchor="middle" fill="#1a1a1a">V β8.1</text>
<polyline points="245.2,86.5 245.3,86.5 245.5,86.5 245.7,86.5 245.8,86.5 246.0,86.5 246.1,86.5 246.3,86.5 246.4,86.5 246.6,86.5 246.7,86.5 246.9,86.4 247.0,86.4 247.2,86.4 247.3,86.4 247.5,86.4 247.6,86.4 247.8,86.4 247.9,86.4 248.1,86.4 248.2,86.4 248.4,86.3 248.5,86.3 248.7,86.3 248.8,86.3 249.0,86.3 249.1,86.3 249.3,86.2 249.4,86.2 249.6,86.2 249.7,86.2 249.9,86.1 250.0,86.1 250.2,86.1 250.3,86.0 250.5,86.0 250.6,85.9 250.8,85.9 250.9,85.7 251.1,85.4 251.2,84.8 251.4,83.6 251.5,81.5 251.7,78.9 251.8,76.3 252.0,74.9 252.1,75.1 252.3,76.9 252.4,79.3 252.6,81.4 252.7,82.4 252.9,81.8 253.0,79.9 253.2,77.0 253.3,74.0 253.5,72.3 253.6,72.7 253.8,74.9 253.9,78.0 254.1,80.9 254.2,82.9 254.4,84.1 254.5,84.6 254.7,84.9 254.8,84.9 255.0,84.6 255.1,83.5 255.3,80.5 255.4,75.0 255.6,67.7 255.7,61.8 255.9,60.8 256.0,65.5 256.2,73.0 256.3,79.5 256.5,83.4 256.6,85.1 256.8,85.7 256.9,85.9 257.1,86.0 257.2,86.0 257.4,86.1 257.5,86.1 257.7,86.1 257.8,86.2 258.0,86.2 258.1,86.2 258.3,86.2 258.4,86.3 258.6,86.3 258.7,86.3 258.9,86.3 259.0,86.3 259.2,86.3 259.3,86.4 259.5,86.4 259.6,86.4 259.8,86.4 259.9,86.4 260.1,86.4 260.2,86.4 260.4,86.4 260.5,86.4 260.7,86.4 260.8,86.5 261.0,86.5 261.1,86.5 261.3,86.5 261.4,86.5" fill="none" stroke="#222" stroke-width="0.6" stroke-linejoin="round"/>
<text x="283.5" y="59.2" font-size="4.7" font-family='"Liberation Serif", serif' font-weight="normal" text-anchor="middle" fill="#1a1a1a">V β8.2</text>
<polyline points="276.0,86.5 276.1,86.5 276.3,86.5 276.4,86.5 276.6,86.5 276.7,86.5 276.9,86.5 277.0,86.5 277.2,86.5 277.3,86.5 277.5,86.4 277.6,86.4 277.8,86.4 277.9,86.4 278.1,86.4 278.2,86.4 278.4,86.4 278.5,86.4 278.7,86.4 278.8,86.4 279.0,86.3 279.1,86.3 279.3,86.3 279.4,86.3 279.6,86.3 279.7,86.3 279.9,86.2 280.0,86.2 280.2,86.2 280.3,86.2 280.5,86.1 280.6,86.1 280.8,85.9 280.9,85.2 281.1,83.5 281.2,80.0 281.4,74.8 281.5,69.7 281.7,67.5 281.8,69.6 282.0,74.5 282.1,79.6 282.3,83.0 282.4,84.6 282.6,85.2 282.7,85.3 282.9,85.2 283.0,85.2 283.2,85.1 283.3,85.0 283.5,84.9 283.6,84.8 283.8,84.1 283.9,82.4 284.1,78.4 284.2,71.7 284.4,64.1 284.5,59.3 284.7,60.3 284.8,66.5 285.0,74.2 285.1,80.1 285.3,83.2 285.4,84.5 285.6,85.0 285.7,85.1 285.9,85.1 286.0,84.9 286.2,84.4 286.3,83.1 286.5,81.1 286.6,78.3 286.8,75.7 286.9,74.2 287.1,74.6 287.2,76.7 287.4,79.6 287.5,82.3 287.7,84.2 287.8,85.3 288.0,85.8 288.1,86.0 288.3,86.1 288.4,86.2 288.6,86.2 288.7,86.2 288.9,86.2 289.0,86.3 289.2,86.3 289.3,86.3 289.5,86.3 289.6,86.3 289.8,86.3 289.9,86.4 290.1,86.4 290.2,86.4 290.4,86.4 290.5,86.4 290.7,86.4 290.8,86.4 291.0,86.4 291.1,86.4 291.3,86.4 291.4,86.5 291.6,86.5 291.7,86.5 291.9,86.5 292.0,86.5 292.2,86.5 292.3,86.5 292.5,86.5 292.6,86.5 292.8,86.5 292.9,86.5 293.1,86.5 293.2,86.5" fill="none" stroke="#222" stroke-width="0.6" stroke-linejoin="round"/>
<text x="37.5" y="94.7" font-size="4.7" font-family='"Liberation Serif", serif' font-weight="normal" text-anchor="middle" fill="#1a1a1a">V β9.1</text>
<polyline points="27.7,123.6 27.8,123.6 28.0,123.6 28.1,123.6 28.3,123.6 28.4,123.6 28.6,123.6 28.7,123.6 28.9,123.6 29.0,123.6 29.2,123.5 29.3,123.5 29.5,123.5 29.6,123.5 29.8,123.5 29.9,123.5 30.1,123.5 30.2,123.5 30.4,123.5 30.5,123.5 30.7,123.5 30.8,123.5 31.0,123.5 31.1,123.5 31.3,123.5 31.4,123.5 31.6,123.5 31.7,123.5 31.9,123.4 32.0,123.4 32.2,123.4 32.3,123.4 32.5,123.4 32.6,123.4 32.8,123.4 32.9,123.3 33.1,123.0 33.2,122.5 33.4,121.4 33.5,119.8 33.7,117.9 33.8,116.3 34.0,115.7 34.1,116.3 34.3,117.9 34.4,119.7 34.6,121.3 34.7,122.3 34.9,122.7 35.0,122.6 35.2,122.0 35.3,120.7 35.5,118.5 35.6,115.7 35.8,112.9 35.9,111.3 36.1,111.6 36.2,113.6 36.4,116.4 36.5,118.9 36.7,120.7 36.8,121.6 37.0,121.8 37.1,121.1 37.3,118.9 37.4,114.3 37.6,107.4 37.7,100.7 37.9,97.8 38.0,100.6 38.2,107.1 38.3,113.5 38.5,116.8 38.6,115.9 38.8,110.8 38.9,103.4 39.1,97.2 39.2,96.2 39.4,101.1 39.5,108.8 39.7,115.5 39.8,119.5 40.0,121.3 40.1,122.0 40.3,122.1 40.4,122.1 40.6,121.7 40.7,120.7 40.9,118.6 41.0,115.4 41.2,111.6 41.3,108.4 41.5,107.2 41.6,108.5 41.8,111.9 41.9,115.8 42.1,119.1 42.2,121.2 42.4,122.4 42.5,122.9 42.7,123.1 42.8,123.1 43.0,123.0 43.1,122.6 43.3,121.8 43.4,120.3 43.6,118.1 43.7,115.8 43.9,114.1 44.0,113.8 44.2,115.1 44.3,117.4 44.5,119.7 44.6,121.5 44.8,122.6 44.9,123.1 45.1,123.3 45.2,123.4 45.4,123.4 45.5,123.4 45.7,123.4 45.8,123.5 46.0,123.5 46.1,123.5 46.3,123.5 46.4,123.5 46.6,123.5 46.7,123.5 46.9,123.5 47.0,123.5 47.2,123.5 47.3,123.5 47.5,123.5 47.6,123.5 47.8,123.5 47.9,123.5 48.1,123.5 48.2,123.5 48.4,123.5 48.5,123.6 48.7,123.6" fill="none" stroke="#222" stroke-width="0.6" stroke-linejoin="round"/>
<text x="68" y="94.7" font-size="4.7" font-family='"Liberation Serif", serif' font-weight="normal" text-anchor="middle" fill="#1a1a1a">V β10.1</text>
<polyline points="59.4,123.6 59.5,123.6 59.7,123.6 59.8,123.6 60.0,123.6 60.1,123.6 60.3,123.6 60.4,123.6 60.6,123.6 60.7,123.6 60.9,123.5 61.0,123.5 61.2,123.5 61.3,123.5 61.5,123.5 61.6,123.5 61.8,123.5 61.9,123.5 62.1,123.5 62.2,123.5 62.4,123.5 62.5,123.5 62.7,123.5 62.8,123.5 63.0,123.5 63.1,123.5 63.3,123.5 63.4,123.5 63.6,123.4 63.7,123.4 63.9,123.3 64.0,123.1 64.2,122.6 64.3,121.5 64.5,119.7 64.6,117.4 64.8,115.1 64.9,113.8 65.1,114.1 65.2,115.8 65.4,118.1 65.5,120.3 65.7,121.8 65.8,122.6 66.0,122.9 66.1,122.6 66.3,121.9 66.4,120.5 66.6,118.5 66.7,116.3 66.9,114.8 67.0,114.5 67.2,115.6 67.3,117.6 67.5,119.6 67.6,121.1 67.8,122.0 67.9,122.4 68.1,122.5 68.2,122.5 68.4,122.5 68.5,122.4 68.7,122.3 68.8,122.3 69.0,122.2 69.1,122.1 69.3,122.0 69.4,121.8 69.6,121.2 69.7,119.4 69.9,115.4 70.0,108.7 70.2,101.0 70.3,96.2 70.5,97.2 70.6,103.4 70.8,111.1 70.9,117.0 71.1,120.2 71.2,121.5 71.4,121.9 71.5,122.0 71.7,122.1 71.8,122.1 72.0,122.2 72.1,122.3 72.3,122.4 72.4,122.4 72.6,122.5 72.7,122.6 72.9,122.6 73.0,122.5 73.2,122.2 73.3,121.5 73.5,120.4 73.6,118.8 73.8,117.3 73.9,116.5 74.1,116.7 74.2,117.9 74.4,119.6 74.5,121.1 74.7,122.2 74.8,122.8 75.0,123.0 75.1,122.9 75.3,122.6 75.4,121.9 75.6,120.8 75.7,119.7 75.9,118.9 76.0,118.8 76.2,119.4 76.3,120.5 76.5,121.6 76.6,122.5 76.8,123.0 76.9,123.3 77.1,123.4 77.2,123.4 77.4,123.4 77.5,123.5 77.7,123.5" fill="none" stroke="#222" stroke-width="0.6" stroke-linejoin="round"/>
<text x="99" y="94.7" font-size="4.7" font-family='"Liberation Serif", serif' font-weight="normal" text-anchor="middle" fill="#1a1a1a">V β11.1</text>
<polyline points="90.2,122.5 90.4,122.5 90.5,122.5 90.7,122.5 90.8,122.5 91.0,122.5 91.1,122.5 91.3,122.5 91.4,122.5 91.6,122.5 91.7,122.5 91.9,122.4 92.0,122.4 92.2,122.4 92.3,122.4 92.5,122.4 92.6,122.4 92.8,122.4 92.9,122.4 93.1,122.4 93.2,122.4 93.4,122.3 93.5,122.3 93.7,122.3 93.8,122.3 94.0,122.3 94.1,122.3 94.3,122.2 94.4,122.2 94.6,122.2 94.7,122.2 94.9,122.1 95.0,122.1 95.2,122.1 95.3,122.0 95.5,122.0 95.6,121.9 95.8,121.9 95.9,121.8 96.1,121.8 96.2,121.7 96.4,121.7 96.5,121.6 96.7,121.5 96.8,121.4 97.0,121.4 97.1,121.3 97.3,121.2 97.4,121.2 97.6,121.1 97.7,121.0 97.9,120.8 98.0,120.2 98.2,118.6 98.3,114.9 98.5,108.7 98.6,101.6 98.8,97.1 98.9,98.1 99.1,103.9 99.2,111.0 99.4,116.4 99.5,119.3 99.7,120.5 99.8,120.9 100.0,121.0 100.1,121.1 100.3,121.2 100.4,121.3 100.6,121.3 100.7,121.4 100.9,121.5 101.0,121.5 101.2,121.6 101.3,121.7 101.5,121.7 101.6,121.8 101.8,121.9 101.9,121.9 102.1,122.0 102.2,122.0 102.4,122.0 102.5,122.1 102.7,122.1 102.8,122.2 103.0,122.2 103.1,122.2 103.3,122.2 103.4,122.3 103.6,122.3 103.7,122.3 103.9,122.3 104.0,122.3 104.2,122.3 104.3,122.4 104.5,122.4 104.6,122.4 104.8,122.4 104.9,122.4 105.1,122.4 105.2,122.4 105.4,122.4 105.5,122.4 105.7,122.4 105.8,122.5 106.0,122.5 106.1,122.5 106.3,122.5 106.4,122.5 106.6,122.5 106.7,122.5 106.9,122.5 107.0,122.5 107.2,122.5 107.3,122.5 107.5,122.5" fill="none" stroke="#222" stroke-width="0.6" stroke-linejoin="round"/>
<text x="130" y="94.7" font-size="4.7" font-family='"Liberation Serif", serif' font-weight="normal" text-anchor="middle" fill="#1a1a1a">V β12.1</text>
<polyline points="120.6,120.5 120.8,120.5 120.9,120.5 121.1,120.5 121.2,120.5 121.4,120.5 121.5,120.5 121.7,120.5 121.8,120.5 122.0,120.5 122.1,120.5 122.3,120.5 122.4,120.5 122.6,120.5 122.7,120.5 122.9,120.5 123.0,120.5 123.2,120.4 123.3,120.4 123.5,120.4 123.6,120.4 123.8,120.4 123.9,120.4 124.1,120.4 124.2,120.4 124.4,120.4 124.5,120.4 124.7,120.4 124.8,120.4 125.0,120.2 125.1,119.9 125.3,119.2 125.4,117.7 125.6,115.6 125.7,112.9 125.9,110.7 126.0,109.8 126.2,110.7 126.3,112.9 126.5,115.5 126.6,117.7 126.8,119.1 126.9,119.8 127.1,120.1 127.2,120.2 127.4,120.2 127.5,120.2 127.7,120.2 127.8,120.2 128.0,120.2 128.1,120.1 128.3,120.0 128.4,119.7 128.6,118.7 128.7,116.5 128.9,112.8 129.0,108.6 129.2,106.0 129.3,106.5 129.5,109.8 129.6,114.0 129.8,117.1 129.9,118.8 130.1,119.4 130.2,119.4 130.4,119.1 130.5,117.9 130.7,115.1 130.8,109.9 131.0,103.1 131.1,97.5 131.3,96.5 131.4,100.7 131.6,107.4 131.7,113.2 131.9,116.7 132.0,118.2 132.2,118.6 132.3,118.7 132.5,118.7 132.6,118.7 132.8,118.7 132.9,118.7 133.1,118.6 133.2,118.3 133.4,117.4 133.5,115.3 133.7,111.7 133.8,107.6 134.0,105.0 134.1,105.6 134.3,109.1 134.4,113.3 134.6,116.6 134.7,118.4 134.9,119.1 135.0,119.4 135.2,119.5 135.3,119.6 135.5,119.7 135.6,119.7 135.8,119.8 135.9,119.8 136.1,119.7 136.2,119.5 136.4,119.1 136.5,118.3 136.7,117.2 136.8,116.2 137.0,115.6 137.1,115.8 137.3,116.6 137.4,117.7 137.6,118.8 137.7,119.5 137.9,119.9 138.0,120.1 138.2,120.0 138.3,119.7 138.5,119.2 138.6,118.4 138.8,117.5 138.9,116.9 139.1,116.8 139.2,117.3 139.4,118.1 139.5,119.0 139.7,119.7 139.8,120.1 140.0,120.3 140.1,120.3 140.3,120.4 140.4,120.4 140.6,120.4 140.7,120.4 140.9,120.4 141.0,120.4 141.2,120.4 141.3,120.4 141.5,120.4 141.6,120.4" fill="none" stroke="#222" stroke-width="0.6" stroke-linejoin="round"/>
<text x="162" y="94.7" font-size="4.7" font-family='"Liberation Serif", serif' font-weight="normal" text-anchor="middle" fill="#1a1a1a">V β13.1</text>
<polyline points="155.2,122.1 155.3,122.1 155.5,122.1 155.7,122.1 155.8,122.1 156.0,122.1 156.1,122.1 156.3,122.1 156.4,122.1 156.6,122.1 156.7,122.0 156.9,122.0 157.0,122.0 157.2,122.0 157.3,122.0 157.5,122.0 157.6,122.0 157.8,122.0 157.9,122.0 158.1,122.0 158.2,121.9 158.4,121.9 158.5,121.9 158.7,121.9 158.8,121.9 159.0,121.9 159.1,121.8 159.3,121.8 159.4,121.8 159.6,121.8 159.7,121.7 159.9,121.7 160.0,121.7 160.2,121.6 160.3,121.6 160.5,121.5 160.6,121.2 160.8,120.4 160.9,118.2 161.1,113.7 161.2,106.9 161.4,100.4 161.5,97.5 161.7,100.2 161.8,106.7 162.0,113.2 162.1,117.6 162.3,119.7 162.4,120.4 162.6,120.6 162.7,120.6 162.9,120.5 163.0,120.5 163.2,120.5 163.3,120.4 163.5,120.4 163.6,120.4 163.8,120.4 163.9,120.4 164.1,120.4 164.2,120.5 164.4,120.5 164.5,120.5 164.7,120.6 164.8,120.6 165.0,120.3 165.1,119.2 165.3,116.3 165.4,110.8 165.6,103.6 165.7,97.8 165.9,96.9 166.0,101.5 166.2,108.8 166.3,115.2 166.5,119.0 166.6,120.8 166.8,121.3 166.9,121.5 167.1,121.6 167.2,121.6 167.4,121.7 167.5,121.7 167.7,121.8 167.8,121.8 168.0,121.8 168.1,121.8 168.3,121.9 168.4,121.9 168.6,121.9 168.7,121.9 168.9,121.9 169.0,121.9 169.2,122.0 169.3,122.0 169.5,122.0 169.6,122.0 169.8,122.0 169.9,122.0 170.1,122.0 170.2,122.0 170.4,122.0 170.5,122.0 170.7,122.1 170.8,122.1 171.0,122.1 171.1,122.1 171.3,122.1 171.4,122.1" fill="none" stroke="#222" stroke-width="0.6" stroke-linejoin="round"/>
<text x="194" y="94.7" font-size="4.7" font-family='"Liberation Serif", serif' font-weight="normal" text-anchor="middle" fill="#1a1a1a">V β13.2</text>
<polyline points="186.0,121.7 186.2,121.7 186.3,121.7 186.5,121.7 186.6,121.6 186.8,121.6 186.9,121.6 187.1,121.6 187.2,121.6 187.4,121.6 187.5,121.6 187.7,121.6 187.8,121.6 188.0,121.6 188.1,121.6 188.3,121.6 188.4,121.6 188.6,121.6 188.7,121.6 188.9,121.6 189.0,121.6 189.2,121.6 189.3,121.5 189.5,121.5 189.6,121.5 189.8,121.5 189.9,121.5 190.1,121.5 190.2,121.5 190.4,121.5 190.5,121.5 190.7,121.5 190.8,121.4 191.0,121.4 191.1,121.4 191.3,121.4 191.4,121.4 191.6,121.4 191.7,121.3 191.9,121.3 192.0,121.3 192.2,121.3 192.3,121.2 192.5,121.2 192.6,121.2 192.8,121.1 192.9,121.1 193.1,121.0 193.2,120.9 193.4,120.5 193.5,119.2 193.7,116.2 193.8,110.5 194.0,103.0 194.1,97.0 194.3,95.9 194.4,100.4 194.6,107.7 194.7,114.1 194.9,117.9 195.0,119.5 195.2,120.0 195.3,120.0 195.5,120.0 195.6,119.8 195.8,119.4 195.9,118.8 196.1,117.8 196.2,116.6 196.4,115.6 196.5,115.2 196.7,115.6 196.8,116.6 197.0,117.8 197.1,118.7 197.3,119.1 197.4,119.0 197.6,118.5 197.7,117.7 197.9,117.0 198.0,116.7 198.2,117.1 198.3,118.0 198.5,119.0 198.6,119.8 198.8,120.4 198.9,120.7 199.1,120.9 199.2,120.9 199.4,121.0 199.5,121.1 199.7,121.1 199.8,121.2 200.0,121.2 200.1,121.2 200.3,121.3 200.4,121.3 200.6,121.3 200.7,121.3 200.9,121.4 201.0,121.4 201.2,121.4 201.3,121.4 201.5,121.4 201.6,121.4 201.8,121.5 201.9,121.5 202.1,121.5 202.2,121.5 202.4,121.5 202.5,121.5 202.7,121.5 202.8,121.5 203.0,121.5 203.1,121.5 203.3,121.6 203.4,121.6 203.6,121.6 203.7,121.6 203.9,121.6 204.0,121.6 204.2,121.6" fill="none" stroke="#222" stroke-width="0.6" stroke-linejoin="round"/>
<text x="223" y="94.7" font-size="4.7" font-family='"Liberation Serif", serif' font-weight="normal" text-anchor="middle" fill="#1a1a1a">V β13.3</text>
<polyline points="214.4,120.6 214.6,120.6 214.7,120.6 214.9,120.6 215.0,120.6 215.2,120.6 215.3,120.6 215.5,120.5 215.6,120.5 215.8,120.5 215.9,120.5 216.1,120.5 216.2,120.5 216.4,120.5 216.5,120.5 216.7,120.5 216.8,120.5 217.0,120.4 217.1,120.4 217.3,120.4 217.4,120.3 217.6,120.1 217.7,119.7 217.9,118.8 218.0,117.4 218.2,115.5 218.3,113.7 218.5,112.6 218.6,112.8 218.8,114.1 218.9,115.9 219.1,117.6 219.2,118.5 219.4,118.2 219.5,116.3 219.7,112.9 219.8,108.8 220.0,106.2 220.1,106.7 220.3,109.9 220.4,113.8 220.6,116.5 220.7,117.5 220.9,116.8 221.0,114.7 221.2,111.9 221.3,109.1 221.5,107.5 221.6,107.8 221.8,109.8 221.9,112.6 222.1,115.2 222.2,116.7 222.4,116.7 222.5,114.7 222.7,110.9 222.8,106.4 223.0,103.5 223.1,104.2 223.3,107.9 223.4,112.5 223.6,115.9 223.7,117.1 223.9,116.5 224.0,114.5 224.2,111.5 224.3,108.6 224.5,107.0 224.6,107.5 224.8,109.8 224.9,113.0 225.1,115.9 225.2,118.0 225.4,119.2 225.5,119.7 225.7,119.6 225.8,118.7 226.0,116.0 226.1,111.1 226.3,104.6 226.4,99.4 226.6,98.5 226.7,102.6 226.9,109.2 227.0,114.9 227.2,118.3 227.3,119.8 227.5,120.3 227.6,120.4 227.8,120.4 227.9,120.5 228.1,120.5 228.2,120.5 228.4,120.5 228.5,120.5 228.7,120.5 228.8,120.5 229.0,120.5 229.1,120.5 229.3,120.5 229.4,120.6 229.6,120.6 229.7,120.6 229.9,120.6 230.0,120.6 230.2,120.6 230.3,120.6 230.5,120.6 230.6,120.6 230.8,120.6" fill="none" stroke="#222" stroke-width="0.6" stroke-linejoin="round"/>
<text x="253" y="94.7" font-size="4.7" font-family='"Liberation Serif", serif' font-weight="normal" text-anchor="middle" fill="#1a1a1a">V β13.4</text>
<polyline points="240.4,122.2 240.6,122.2 240.7,122.2 240.9,122.2 241.0,122.2 241.2,122.2 241.3,122.2 241.5,122.2 241.6,122.2 241.8,122.2 241.9,122.2 242.1,122.2 242.2,122.2 242.4,122.2 242.5,122.2 242.7,122.2 242.8,122.1 243.0,122.1 243.1,122.1 243.3,122.1 243.4,122.1 243.6,122.1 243.7,122.1 243.9,122.1 244.0,122.1 244.2,122.1 244.3,122.1 244.5,122.1 244.6,122.1 244.8,122.1 244.9,122.1 245.1,122.0 245.2,122.0 245.4,121.6 245.5,120.5 245.7,117.6 245.8,112.3 246.0,105.3 246.1,99.7 246.3,98.7 246.4,103.1 246.6,110.0 246.7,116.1 246.9,119.7 247.0,121.3 247.2,121.8 247.3,121.9 247.5,121.9 247.6,121.9 247.8,121.9 247.9,121.8 248.1,121.8 248.2,121.8 248.4,121.8 248.5,121.7 248.7,121.7 248.8,121.6 249.0,121.5 249.1,121.3 249.3,120.9 249.4,120.2 249.6,119.0 249.7,117.7 249.9,116.5 250.0,116.0 250.2,116.4 250.3,117.4 250.5,118.6 250.6,119.6 250.8,120.3 250.9,120.6 251.1,120.6 251.2,120.6 251.4,120.6 251.5,120.5 251.7,120.2 251.8,119.8 252.0,119.1 252.1,118.1 252.3,117.1 252.4,116.4 252.6,116.2 252.7,116.8 252.9,117.8 253.0,118.9 253.2,119.7 253.3,120.2 253.5,120.5 253.6,120.7 253.8,120.7 253.9,120.8 254.1,120.7 254.2,120.5 254.4,120.0 254.5,119.1 254.7,117.9 254.8,116.8 255.0,116.2 255.1,116.4 255.3,117.4 255.4,118.7 255.6,119.9 255.7,120.8 255.9,121.3 256.0,121.6 256.2,121.7 256.3,121.7 256.5,121.8 256.6,121.8 256.8,121.8 256.9,121.8 257.1,121.8 257.2,121.6 257.4,121.3 257.5,120.7 257.7,119.9 257.8,119.2 258.0,118.8 258.1,118.9 258.3,119.5 258.4,120.3 258.6,121.0 258.7,121.5 258.9,121.8 259.0,122.0 259.2,122.0 259.3,122.0 259.5,122.1 259.6,122.1 259.8,122.1 259.9,122.1 260.1,122.1 260.2,122.1 260.4,122.1 260.5,122.1 260.7,122.1 260.8,122.1 261.0,122.1 261.1,122.1 261.3,122.1 261.4,122.1" fill="none" stroke="#222" stroke-width="0.6" stroke-linejoin="round"/>
<text x="284" y="94.7" font-size="4.7" font-family='"Liberation Serif", serif' font-weight="normal" text-anchor="middle" fill="#1a1a1a">V β14.1</text>
<polyline points="273.0,122.2 273.1,122.2 273.3,122.2 273.4,122.2 273.6,122.2 273.7,122.2 273.9,122.1 274.0,122.1 274.2,122.1 274.3,122.1 274.5,122.1 274.6,122.1 274.8,122.1 274.9,122.1 275.1,122.1 275.2,122.1 275.4,122.1 275.5,122.1 275.7,122.1 275.8,122.1 276.0,122.1 276.1,122.1 276.3,122.1 276.4,122.1 276.6,122.0 276.7,122.0 276.9,122.0 277.0,122.0 277.2,122.0 277.3,122.0 277.5,122.0 277.6,122.0 277.8,121.9 277.9,121.8 278.1,121.6 278.2,121.0 278.4,119.9 278.5,118.1 278.7,116.1 278.8,114.3 279.0,113.6 279.1,114.3 279.3,116.0 279.4,118.0 279.6,119.7 279.7,120.8 279.9,121.3 280.0,121.5 280.2,121.5 280.3,121.5 280.5,121.4 280.6,121.2 280.8,120.8 280.9,119.8 281.1,117.9 281.2,115.1 281.4,111.7 281.5,108.9 281.7,107.7 281.8,108.7 282.0,111.3 282.1,114.2 282.3,116.1 282.4,116.5 282.6,115.5 282.7,113.9 282.9,112.5 283.0,112.3 283.2,113.4 283.3,115.3 283.5,117.3 283.6,118.8 283.8,119.7 283.9,120.2 284.1,120.4 284.2,120.5 284.4,120.6 284.5,120.6 284.7,120.4 284.8,119.7 285.0,117.5 285.1,112.9 285.3,106.0 285.4,99.3 285.6,96.5 285.7,99.5 285.9,106.3 286.0,113.3 286.2,118.0 286.3,120.4 286.5,121.2 286.6,121.5 286.8,121.6 286.9,121.6 287.1,121.4 287.2,121.1 287.4,120.4 287.5,119.4 287.7,118.1 287.8,117.1 288.0,116.6 288.1,117.1 288.3,118.2 288.4,119.5 288.6,120.6 288.7,121.3 288.9,121.7 289.0,121.9 289.2,122.0 289.3,122.0 289.5,122.0 289.6,122.0 289.8,122.0 289.9,122.0 290.1,122.0 290.2,122.0 290.4,122.0 290.5,122.1 290.7,122.1 290.8,122.1 291.0,122.1 291.1,122.1 291.3,122.1 291.4,122.1 291.6,122.1 291.7,122.1 291.9,122.1 292.0,122.1 292.2,122.1" fill="none" stroke="#222" stroke-width="0.6" stroke-linejoin="round"/>
<text x="37.5" y="129.7" font-size="4.7" font-family='"Liberation Serif", serif' font-weight="normal" text-anchor="middle" fill="#1a1a1a">V β15.1</text>
<polyline points="28.7,154.9 28.8,154.9 29.0,154.9 29.1,154.9 29.3,154.9 29.4,154.9 29.6,154.9 29.7,154.9 29.9,154.8 30.0,154.7 30.2,154.4 30.3,153.9 30.5,152.9 30.6,151.7 30.8,150.5 30.9,149.9 31.1,150.0 31.2,150.9 31.4,152.1 31.5,153.2 31.7,154.0 31.8,154.4 32.0,154.6 32.1,154.7 32.3,154.7 32.4,154.6 32.6,154.4 32.7,153.9 32.9,152.9 33.0,151.4 33.2,149.6 33.3,148.1 33.5,147.5 33.6,148.1 33.8,149.5 33.9,151.2 34.1,152.6 34.2,153.5 34.4,153.9 34.5,154.0 34.7,153.7 34.8,153.1 35.0,152.1 35.1,150.8 35.3,149.6 35.4,148.9 35.6,148.9 35.7,149.7 35.9,150.9 36.0,152.0 36.2,152.7 36.3,153.0 36.5,152.6 36.6,151.0 36.8,147.4 36.9,141.4 37.1,134.5 37.2,130.1 37.4,131.1 37.5,136.7 37.7,143.6 37.8,148.8 38.0,151.6 38.1,152.4 38.3,152.1 38.4,150.9 38.6,149.2 38.7,147.3 38.9,145.9 39.0,145.8 39.2,146.9 39.3,148.8 39.5,150.8 39.6,152.4 39.8,153.4 39.9,153.9 40.1,154.1 40.2,154.2 40.4,154.2 40.5,154.1 40.7,153.9 40.8,153.2 41.0,152.2 41.1,150.8 41.3,149.4 41.4,148.6 41.6,148.8 41.7,149.9 41.9,151.4 42.0,152.8 42.2,153.8 42.3,154.3 42.5,154.6 42.6,154.7 42.8,154.7 42.9,154.7 43.1,154.6 43.2,154.4 43.4,153.9 43.5,153.2 43.7,152.3 43.8,151.6 44.0,151.3 44.1,151.6 44.3,152.4 44.4,153.3 44.6,154.0 44.7,154.5 44.9,154.7 45.0,154.8 45.2,154.9 45.3,154.9 45.5,154.9 45.6,154.9 45.8,154.9 45.9,154.9 46.1,154.9 46.2,154.9 46.4,154.9 46.5,154.9 46.7,154.9 46.8,154.9 47.0,154.9 47.1,155.0 47.3,155.0 47.4,155.0 47.6,155.0 47.7,155.0 47.9,155.0" fill="none" stroke="#222" stroke-width="0.6" stroke-linejoin="round"/>
<text x="68" y="129.7" font-size="4.7" font-family='"Liberation Serif", serif' font-weight="normal" text-anchor="middle" fill="#1a1a1a">V β16.1</text>
<polyline points="59.4,155.0 59.5,155.0 59.7,155.0 59.8,155.0 60.0,155.0 60.1,155.0 60.3,155.0 60.4,155.0 60.6,155.0 60.7,155.0 60.9,155.0 61.0,155.0 61.2,155.0 61.3,155.0 61.5,155.0 61.6,155.0 61.8,155.0 61.9,155.0 62.1,155.0 62.2,155.0 62.4,154.9 62.5,154.9 62.7,154.9 62.8,154.9 63.0,154.9 63.1,154.9 63.3,154.9 63.4,154.9 63.6,154.9 63.7,154.9 63.9,154.9 64.0,154.9 64.2,154.9 64.3,154.9 64.5,154.9 64.6,154.8 64.8,154.8 64.9,154.4 65.1,153.3 65.2,150.5 65.4,145.2 65.5,138.3 65.7,132.7 65.8,131.7 66.0,136.0 66.1,142.9 66.3,148.9 66.4,152.5 66.6,154.0 66.7,154.4 66.9,154.0 67.0,152.6 67.2,149.2 67.3,143.5 67.5,137.0 67.6,132.9 67.8,133.8 67.9,139.0 68.1,145.5 68.2,150.4 68.4,153.0 68.5,154.0 68.7,154.3 68.8,154.2 69.0,154.0 69.1,153.6 69.3,152.6 69.4,151.0 69.6,148.6 69.7,146.1 69.9,144.2 70.0,143.9 70.2,145.1 70.3,147.4 70.5,149.8 70.6,151.5 70.8,152.6 70.9,153.0 71.1,152.9 71.2,152.4 71.4,151.3 71.5,149.6 71.7,147.6 71.8,145.9 72.0,145.2 72.1,145.9 72.3,147.6 72.4,149.6 72.6,151.3 72.7,152.4 72.9,153.0 73.0,153.1 73.2,152.9 73.3,152.2 73.5,151.0 73.6,149.3 73.8,147.8 73.9,146.9 74.1,147.2 74.2,148.5 74.4,150.3 74.5,151.9 74.7,153.1 74.8,153.8 75.0,154.0 75.1,153.9 75.3,153.5 75.4,152.6 75.6,151.2 75.7,149.8 75.9,148.8 76.0,148.6 76.2,149.5 76.3,150.9 76.5,152.4 76.6,153.5 76.8,154.2 76.9,154.4 77.1,154.4 77.2,154.1 77.4,153.5 77.5,152.5 77.7,151.2 77.8,150.2 78.0,149.8 78.1,150.2 78.3,151.3 78.4,152.5 78.6,153.6 78.7,154.3 78.9,154.6 79.0,154.8 79.2,154.8 79.3,154.9 79.5,154.9 79.6,154.9 79.8,154.9 79.9,154.9 80.1,154.9 80.2,154.9 80.4,154.9 80.5,154.9 80.7,154.9 80.8,154.9 81.0,154.9 81.1,154.9 81.3,154.9 81.4,154.9" fill="none" stroke="#222" stroke-width="0.6" stroke-linejoin="round"/>
<text x="98.5" y="129.7" font-size="4.7" font-family='"Liberation Serif", serif' font-weight="normal" text-anchor="middle" fill="#1a1a1a">V β17.1</text>
<polyline points="92.0,154.9 92.2,154.9 92.3,154.9 92.5,154.9 92.6,154.9 92.8,154.9 92.9,154.9 93.1,154.8 93.2,154.8 93.4,154.8 93.5,154.8 93.7,154.8 93.8,154.8 94.0,154.8 94.1,154.8 94.3,154.8 94.4,154.8 94.6,154.7 94.7,154.7 94.9,154.7 95.0,154.7 95.2,154.7 95.3,154.7 95.5,154.6 95.6,154.6 95.8,154.6 95.9,154.5 96.1,154.3 96.2,153.9 96.4,153.1 96.5,151.7 96.7,150.0 96.8,148.3 97.0,147.3 97.1,147.5 97.3,148.6 97.4,150.3 97.6,151.8 97.7,152.9 97.9,153.4 98.0,153.5 98.2,153.1 98.3,152.1 98.5,150.5 98.6,148.1 98.8,145.6 98.9,143.8 99.1,143.5 99.2,144.7 99.4,147.0 99.5,149.4 99.7,151.3 99.8,152.4 100.0,152.9 100.1,152.9 100.3,152.5 100.4,151.2 100.6,148.4 100.7,144.2 100.9,140.1 101.0,138.4 101.2,140.2 101.3,144.5 101.5,148.7 101.6,151.6 101.8,153.0 101.9,153.1 102.1,151.8 102.2,148.6 102.4,143.2 102.5,136.9 102.7,133.0 102.8,133.9 103.0,139.1 103.1,145.5 103.3,150.4 103.4,153.0 103.6,154.1 103.7,154.4 103.9,154.5 104.0,154.6 104.2,154.6 104.3,154.6 104.5,154.6 104.6,154.7 104.8,154.7 104.9,154.7 105.1,154.7 105.2,154.7 105.4,154.7 105.5,154.8 105.7,154.8 105.8,154.8 106.0,154.8 106.1,154.8 106.3,154.8 106.4,154.8 106.6,154.8 106.7,154.8 106.9,154.8 107.0,154.9 107.2,154.9 107.3,154.9 107.5,154.9 107.6,154.9 107.8,154.9 107.9,154.9 108.1,154.9 108.2,154.9 108.4,154.9 108.5,154.9 108.7,154.9 108.8,154.9 109.0,154.9 109.1,154.9 109.3,154.9 109.4,154.9 109.6,154.9 109.7,155.0 109.9,155.0 110.0,155.0 110.2,155.0 110.3,155.0" fill="none" stroke="#222" stroke-width="0.6" stroke-linejoin="round"/>
<text x="129.5" y="129.7" font-size="4.7" font-family='"Liberation Serif", serif' font-weight="normal" text-anchor="middle" fill="#1a1a1a">V β18.1</text>
<polyline points="121.5,156.2 121.7,156.2 121.8,156.2 122.0,156.2 122.1,156.2 122.3,156.2 122.4,156.1 122.6,156.1 122.7,156.1 122.9,156.1 123.0,156.1 123.2,156.1 123.3,156.1 123.5,156.1 123.6,156.1 123.8,156.1 123.9,156.1 124.1,156.1 124.2,156.1 124.4,156.1 124.5,156.1 124.7,156.1 124.8,156.0 125.0,155.9 125.1,155.6 125.3,154.9 125.4,153.5 125.6,151.3 125.7,148.8 125.9,146.6 126.0,145.8 126.2,146.6 126.3,148.8 126.5,151.3 126.6,153.4 126.8,154.7 126.9,155.4 127.1,155.4 127.2,154.8 127.4,153.5 127.5,151.2 127.7,148.2 127.8,145.3 128.0,143.7 128.1,144.0 128.3,146.1 128.4,149.1 128.6,151.8 128.7,153.7 128.9,154.8 129.0,155.2 129.2,155.1 129.3,154.3 129.5,152.5 129.6,149.0 129.8,144.4 129.9,140.7 130.1,140.0 130.2,142.8 130.4,147.2 130.5,151.0 130.7,153.3 130.8,154.2 131.0,154.5 131.1,154.3 131.3,153.7 131.4,151.9 131.6,148.2 131.7,142.8 131.9,137.5 132.0,135.2 132.2,137.5 132.3,142.8 132.5,148.2 132.6,151.9 132.8,153.7 132.9,154.3 133.1,154.4 133.2,154.0 133.4,152.4 133.5,148.7 133.7,142.4 133.8,135.3 134.0,130.8 134.1,131.8 134.3,137.8 134.4,145.1 134.6,150.7 134.7,153.7 134.9,154.9 135.0,155.2 135.2,155.1 135.3,154.6 135.5,153.7 135.6,152.3 135.8,150.8 135.9,149.8 136.1,149.6 136.2,150.5 136.4,152.0 136.5,153.5 136.7,154.6 136.8,155.3 137.0,155.6 137.1,155.7 137.3,155.4 137.4,154.9 137.6,154.0 137.7,153.0 137.9,152.1 138.0,151.8 138.2,152.1 138.3,153.0 138.5,154.1 138.6,155.0 138.8,155.6 138.9,155.9 139.1,156.0 139.2,156.0 139.4,156.1 139.5,156.1 139.7,156.1 139.8,156.1 140.0,156.1 140.1,156.1 140.3,156.1 140.4,156.1 140.6,156.1 140.7,156.1 140.9,156.1 141.0,156.1 141.2,156.1 141.3,156.1 141.5,156.1 141.6,156.1 141.8,156.2 141.9,156.2 142.1,156.2 142.2,156.2 142.4,156.2 142.5,156.2 142.7,156.2" fill="none" stroke="#222" stroke-width="0.6" stroke-linejoin="round"/>
<text x="162" y="129.7" font-size="4.7" font-family='"Liberation Serif", serif' font-weight="normal" text-anchor="middle" fill="#1a1a1a">V β19.1</text>
<polyline points="155.2,158.2 155.3,158.2 155.5,158.2 155.7,158.2 155.8,158.2 156.0,158.2 156.1,158.2 156.3,158.2 156.4,158.2 156.6,158.2 156.7,158.2 156.9,158.2 157.0,158.2 157.2,158.2 157.3,158.2 157.5,158.2 157.6,158.2 157.8,158.1 157.9,158.1 158.1,158.1 158.2,158.1 158.4,158.1 158.5,158.1 158.7,158.1 158.8,158.1 159.0,158.1 159.1,158.1 159.3,158.1 159.4,158.1 159.6,158.1 159.7,158.1 159.9,158.1 160.0,158.1 160.2,158.1 160.3,158.1 160.5,158.0 160.6,158.0 160.8,158.0 160.9,158.0 161.1,158.0 161.2,158.0 161.4,158.0 161.5,158.0 161.7,158.0 161.8,158.0 162.0,157.9 162.1,157.9 162.3,157.9 162.4,157.9 162.6,157.9 162.7,157.9 162.9,157.8 163.0,157.8 163.2,157.8 163.3,157.8 163.5,157.7 163.6,157.7 163.8,157.6 163.9,157.3 164.1,156.4 164.2,153.9 164.4,148.8 164.5,141.3 164.7,133.9 164.8,130.7 165.0,133.8 165.1,141.0 165.3,148.4 165.4,153.1 165.6,155.0 165.7,154.8 165.9,153.5 166.0,151.7 166.2,150.1 166.3,149.4 166.5,150.0 166.6,151.4 166.8,153.2 166.9,154.7 167.1,155.6 167.2,156.1 167.4,156.3 167.5,156.4 167.7,156.4 167.8,156.4 168.0,156.5 168.1,156.5 168.3,156.6 168.4,156.6 168.6,156.7 168.7,156.7 168.9,156.8 169.0,156.9 169.2,156.9 169.3,157.0 169.5,157.1 169.6,157.2 169.8,157.2 169.9,157.2 170.1,157.2 170.2,157.0 170.4,156.5 170.5,155.5 170.7,154.3 170.8,153.2 171.0,152.5 171.1,152.7 171.3,153.6 171.4,155.0 171.6,156.2 171.7,157.0 171.9,157.5 172.0,157.7 172.2,157.8 172.3,157.9 172.5,157.9 172.6,157.9 172.8,157.9 172.9,158.0 173.1,158.0 173.2,158.0 173.4,158.0 173.5,158.0 173.7,158.0 173.8,158.0 174.0,158.0 174.1,158.0 174.3,158.0 174.4,158.1 174.6,158.1 174.7,158.1 174.9,158.1 175.0,158.1 175.2,158.1 175.3,158.1 175.5,158.1 175.6,158.1 175.8,158.1 175.9,158.1 176.1,158.1 176.2,158.1 176.4,158.1 176.5,158.1 176.7,158.1 176.8,158.1 177.0,158.1 177.1,158.2 177.3,158.2 177.4,158.2 177.6,158.2 177.7,158.2 177.9,158.2 178.0,158.2 178.2,158.2 178.3,158.2" fill="none" stroke="#222" stroke-width="0.6" stroke-linejoin="round"/>
<text x="194" y="129.7" font-size="4.7" font-family='"Liberation Serif", serif' font-weight="normal" text-anchor="middle" fill="#1a1a1a">V β20.1</text>
<polyline points="184.0,157.5 184.2,157.5 184.3,157.5 184.5,157.5 184.6,157.5 184.8,157.5 184.9,157.5 185.1,157.5 185.2,157.5 185.4,157.5 185.5,157.5 185.7,157.5 185.8,157.5 186.0,157.5 186.1,157.5 186.3,157.5 186.4,157.5 186.6,157.5 186.7,157.4 186.9,157.4 187.0,157.4 187.2,157.4 187.3,157.4 187.5,157.4 187.6,157.4 187.8,157.4 187.9,157.4 188.1,157.4 188.2,157.3 188.4,157.3 188.5,157.3 188.7,157.3 188.8,157.3 189.0,157.3 189.1,157.2 189.3,157.2 189.4,157.2 189.6,157.2 189.7,157.1 189.9,157.1 190.0,157.1 190.2,157.0 190.3,157.0 190.5,156.9 190.6,156.9 190.8,156.8 190.9,156.8 191.1,156.7 191.2,156.6 191.4,156.6 191.5,156.5 191.7,156.4 191.8,156.3 192.0,156.2 192.1,155.9 192.3,155.3 192.4,154.2 192.6,152.5 192.7,150.6 192.9,148.9 193.0,148.3 193.2,148.8 193.3,150.2 193.5,151.3 193.6,150.8 193.8,147.4 193.9,141.5 194.1,135.3 194.2,132.7 194.4,135.5 194.5,142.0 194.7,148.5 194.8,153.0 195.0,155.1 195.1,156.0 195.3,156.2 195.4,156.3 195.6,156.4 195.7,156.5 195.9,156.6 196.0,156.6 196.2,156.7 196.3,156.8 196.5,156.8 196.6,156.9 196.8,156.9 196.9,157.0 197.1,157.0 197.2,157.1 197.4,157.1 197.5,157.1 197.7,157.2 197.8,157.2 198.0,157.2 198.1,157.2 198.3,157.3 198.4,157.3 198.6,157.3 198.7,157.3 198.9,157.3 199.0,157.3 199.2,157.4 199.3,157.4 199.5,157.4 199.6,157.4 199.8,157.4 199.9,157.4 200.1,157.4 200.2,157.4 200.4,157.4" fill="none" stroke="#222" stroke-width="0.6" stroke-linejoin="round"/>
<text x="224.5" y="129.7" font-size="4.7" font-family='"Liberation Serif", serif' font-weight="normal" text-anchor="middle" fill="#1a1a1a">V β21.1</text>
<polyline points="213.5,157.0 213.7,157.0 213.8,157.0 214.0,157.0 214.1,157.0 214.3,157.0 214.4,157.0 214.6,157.0 214.7,157.0 214.9,157.0 215.0,157.0 215.2,157.0 215.3,157.0 215.5,157.0 215.6,157.0 215.8,157.0 215.9,157.0 216.1,157.0 216.2,157.0 216.4,157.0 216.5,157.0 216.7,157.0 216.8,157.0 217.0,157.0 217.1,157.0 217.3,157.0 217.4,156.9 217.6,156.9 217.7,156.9 217.9,156.9 218.0,156.9 218.2,156.9 218.3,156.9 218.5,156.9 218.6,156.9 218.8,156.9 218.9,156.9 219.1,156.9 219.2,156.9 219.4,156.9 219.5,156.9 219.7,156.9 219.8,156.9 220.0,156.8 220.1,156.8 220.3,156.7 220.4,156.2 220.6,154.8 220.7,151.4 220.9,145.9 221.0,139.6 221.2,135.6 221.3,136.4 221.5,141.6 221.6,147.9 221.8,152.7 221.9,155.2 222.1,156.0 222.2,155.7 222.4,154.5 222.5,152.4 222.7,149.8 222.8,147.2 223.0,145.7 223.1,145.9 223.3,147.9 223.4,150.5 223.6,153.0 223.7,154.7 223.9,155.6 224.0,156.0 224.2,155.8 224.3,154.8 224.5,152.4 224.6,147.8 224.8,141.8 224.9,137.0 225.1,136.1 225.2,139.7 225.4,145.6 225.5,150.6 225.7,153.6 225.8,154.9 226.0,155.1 226.1,154.9 226.3,154.1 226.4,152.5 226.6,150.2 226.7,147.4 226.9,145.1 227.0,144.2 227.2,145.1 227.3,147.4 227.5,150.2 227.6,152.5 227.8,153.9 227.9,154.4 228.1,153.9 228.2,152.4 228.4,150.0 228.5,147.1 228.7,144.7 228.8,143.7 229.0,144.8 229.1,147.4 229.3,150.5 229.4,153.0 229.6,154.7 229.7,155.6 229.9,156.0 230.0,156.0 230.2,155.8 230.3,155.0 230.5,153.6 230.6,151.6 230.8,149.4 230.9,147.9 231.1,147.6 231.2,148.9 231.4,151.0 231.5,153.2 231.7,154.9 231.8,155.9 232.0,156.3 232.1,156.3 232.3,155.9 232.4,155.0 232.6,153.5 232.7,151.8 232.9,150.4 233.0,149.8 233.2,150.4 233.3,151.9 233.5,153.6 233.6,155.1 233.8,156.0 233.9,156.5 234.1,156.8 234.2,156.8 234.4,156.9 234.5,156.9 234.7,156.9 234.8,156.9 235.0,156.9 235.1,156.9 235.3,156.9 235.4,156.9 235.6,156.9" fill="none" stroke="#222" stroke-width="0.6" stroke-linejoin="round"/>
<text x="251" y="129.7" font-size="4.7" font-family='"Liberation Serif", serif' font-weight="normal" text-anchor="middle" fill="#1a1a1a">V β22.1</text>
<polyline points="241.3,157.0 241.5,156.9 241.6,156.9 241.8,156.9 241.9,156.9 242.1,156.9 242.2,156.9 242.4,156.9 242.5,156.9 242.7,156.9 242.8,156.9 243.0,156.9 243.1,156.9 243.3,156.9 243.4,156.9 243.6,156.9 243.7,156.9 243.9,156.9 244.0,156.9 244.2,156.8 244.3,156.8 244.5,156.8 244.6,156.8 244.8,156.8 244.9,156.8 245.1,156.8 245.2,156.8 245.4,156.8 245.5,156.8 245.7,156.7 245.8,156.7 246.0,156.7 246.1,156.7 246.3,156.7 246.4,156.7 246.6,156.6 246.7,156.6 246.9,156.6 247.0,156.6 247.2,156.5 247.3,156.5 247.5,156.5 247.6,156.4 247.8,156.4 247.9,156.3 248.1,156.3 248.2,156.2 248.4,156.1 248.5,155.9 248.7,155.5 248.8,154.6 249.0,153.1 249.1,151.0 249.3,148.7 249.4,147.0 249.6,146.7 249.7,147.8 249.9,149.8 250.0,151.9 250.2,153.2 250.3,152.9 250.5,150.4 250.6,145.1 250.8,138.0 250.9,132.1 251.1,131.1 251.2,135.7 251.4,142.8 251.5,149.0 251.7,152.5 251.8,153.4 252.0,152.5 252.1,150.1 252.3,146.8 252.4,143.5 252.6,141.8 252.7,142.2 252.9,144.8 253.0,148.3 253.2,151.5 253.3,153.9 253.5,155.2 253.6,155.8 253.8,156.1 253.9,156.2 254.1,156.3 254.2,156.3 254.4,156.4 254.5,156.4 254.7,156.5 254.8,156.5 255.0,156.5 255.1,156.6 255.3,156.6 255.4,156.6 255.6,156.6 255.7,156.7 255.9,156.7 256.0,156.7 256.2,156.7 256.3,156.7 256.5,156.7 256.6,156.8 256.8,156.8 256.9,156.8 257.1,156.8 257.2,156.8 257.4,156.8 257.5,156.8 257.7,156.8 257.8,156.8 258.0,156.8 258.1,156.9 258.3,156.9 258.4,156.9 258.6,156.9 258.7,156.9 258.9,156.9 259.0,156.9 259.2,156.9 259.3,156.9 259.5,156.9 259.6,156.9 259.8,156.9 259.9,156.9 260.1,156.9 260.2,156.9 260.4,156.9 260.5,156.9 260.7,156.9 260.8,157.0 261.0,157.0 261.1,157.0 261.3,157.0 261.4,157.0" fill="none" stroke="#222" stroke-width="0.6" stroke-linejoin="round"/>
<text x="283.5" y="129.7" font-size="4.7" font-family='"Liberation Serif", serif' font-weight="normal" text-anchor="middle" fill="#1a1a1a">V β24.1</text>
<polyline points="274.0,157.0 274.1,157.0 274.3,157.0 274.4,157.0 274.6,157.0 274.7,157.0 274.9,157.0 275.0,157.0 275.2,157.0 275.3,156.9 275.5,156.9 275.6,156.9 275.8,156.9 275.9,156.9 276.1,156.9 276.2,156.9 276.4,156.9 276.5,156.9 276.7,156.9 276.8,156.9 277.0,156.9 277.1,156.9 277.3,156.9 277.4,156.9 277.6,156.9 277.7,156.9 277.9,156.9 278.0,156.8 278.2,156.8 278.3,156.8 278.5,156.8 278.6,156.8 278.8,156.8 278.9,156.8 279.1,156.8 279.2,156.8 279.4,156.8 279.5,156.7 279.7,156.7 279.8,156.7 280.0,156.7 280.1,156.7 280.3,156.7 280.4,156.6 280.6,156.6 280.7,156.6 280.9,156.4 281.0,156.2 281.2,155.5 281.3,154.1 281.5,151.8 281.6,148.9 281.8,146.0 281.9,144.4 282.1,144.7 282.2,146.7 282.4,149.6 282.5,152.3 282.7,154.0 282.8,154.7 283.0,153.8 283.1,150.8 283.3,144.8 283.4,137.0 283.6,130.7 283.7,129.5 283.9,134.3 284.0,142.0 284.2,148.7 284.3,152.8 284.5,154.5 284.6,155.0 284.8,155.2 284.9,155.1 285.1,155.0 285.2,154.7 285.4,154.0 285.5,153.0 285.7,151.8 285.8,150.8 286.0,150.4 286.1,150.9 286.3,152.0 286.4,153.3 286.6,154.4 286.7,155.2 286.9,155.6 287.0,155.7 287.2,155.7 287.3,155.5 287.5,155.0 287.6,154.3 287.8,153.7 287.9,153.3 288.1,153.4 288.2,154.0 288.4,154.8 288.5,155.5 288.7,156.1 288.8,156.4 289.0,156.5 289.1,156.6 289.3,156.6 289.4,156.6 289.6,156.7 289.7,156.7 289.9,156.7 290.0,156.7 290.2,156.7 290.3,156.7 290.5,156.8 290.6,156.8 290.8,156.8 290.9,156.8 291.1,156.8 291.2,156.8 291.4,156.8 291.5,156.8 291.7,156.8 291.8,156.8 292.0,156.9 292.1,156.9 292.3,156.9 292.4,156.9 292.6,156.9 292.7,156.9 292.9,156.9 293.0,156.9 293.2,156.9 293.3,156.9 293.5,156.9 293.6,156.9 293.8,156.9 293.9,156.9 294.1,156.9" fill="none" stroke="#222" stroke-width="0.6" stroke-linejoin="round"/>
<rect x="85.5" y="90" width="29" height="34.8" stroke="#777" stroke-width="0.9" fill="none"/>
<text x="351" y="11.6" font-size="6.15" font-family='"Liberation Sans", sans-serif' font-weight="normal" text-anchor="start" fill="#111" stroke="#111" stroke-width="0.22">Blood: Pt 151</text>
<text x="346.3" y="18.8" font-size="6.25" font-family='"Liberation Sans", sans-serif' font-weight="normal" text-anchor="start" fill="#111" stroke="#111" stroke-width="0.22">Stage IV L-CTCL</text>
<path d="M362.3 28.3h1v1h-1zM375.3 34.3h3v1h-3zM381.3 34.3h1v1h-1zM374.3 35.3h1v1h-1zM380.3 35.3h1v1h-1zM375.3 36.3h1v1h-1zM379.3 36.3h1v1h-1zM351.3 37.3h1v1h-1zM375.3 37.3h1v1h-1zM377.3 37.3h1v1h-1zM379.3 37.3h1v1h-1zM357.3 38.3h1v1h-1zM371.3 38.3h1v1h-1zM377.3 38.3h1v1h-1zM385.3 38.3h1v1h-1zM351.3 39.3h1v1h-1zM379.3 39.3h3v1h-3zM353.3 40.3h1v1h-1zM359.3 40.3h1v1h-1zM365.3 40.3h1v1h-1zM371.3 40.3h1v1h-1zM381.3 40.3h2v1h-2zM356.3 41.3h1v1h-1zM359.3 41.3h1v1h-1zM362.3 41.3h1v1h-1zM368.3 41.3h1v1h-1zM380.3 41.3h1v1h-1zM382.3 41.3h1v1h-1zM345.3 42.3h1v1h-1zM349.3 42.3h1v1h-1zM351.3 42.3h2v1h-2zM365.3 42.3h1v1h-1zM367.3 42.3h1v1h-1zM380.3 42.3h2v1h-2zM348.3 43.3h1v1h-1zM350.3 43.3h1v1h-1zM356.3 43.3h1v1h-1zM359.3 43.3h1v1h-1zM363.3 43.3h1v1h-1zM367.3 43.3h1v1h-1zM382.3 43.3h2v1h-2zM351.3 44.3h1v1h-1zM357.3 44.3h1v1h-1zM363.3 44.3h4v1h-4zM368.3 44.3h1v1h-1zM383.3 44.3h1v1h-1zM348.3 45.3h1v1h-1zM353.3 45.3h1v1h-1zM355.3 45.3h1v1h-1zM361.3 45.3h4v1h-4zM367.3 45.3h1v1h-1zM381.3 45.3h2v1h-2zM384.3 45.3h1v1h-1zM344.3 46.3h1v1h-1zM349.3 46.3h1v1h-1zM351.3 46.3h1v1h-1zM354.3 46.3h5v1h-5zM362.3 46.3h1v1h-1zM365.3 46.3h1v1h-1zM379.3 46.3h1v1h-1zM381.3 46.3h1v1h-1zM352.3 47.3h1v1h-1zM355.3 47.3h1v1h-1zM365.3 47.3h2v1h-2zM361.3 48.3h1v1h-1zM379.3 48.3h2v1h-2zM384.3 48.3h1v1h-1zM354.3 49.3h1v1h-1zM364.3 49.3h1v1h-1zM366.3 49.3h1v1h-1zM364.3 50.3h1v1h-1zM367.3 50.3h1v1h-1zM373.3 50.3h1v1h-1zM376.3 50.3h2v1h-2zM379.3 50.3h1v1h-1zM365.3 51.3h1v1h-1zM369.3 51.3h1v1h-1zM373.3 51.3h1v1h-1zM375.3 51.3h1v1h-1zM377.3 51.3h1v1h-1zM381.3 51.3h1v1h-1zM393.3 51.3h1v1h-1zM355.3 52.3h1v1h-1zM364.3 52.3h1v1h-1zM366.3 52.3h2v1h-2zM372.3 52.3h1v1h-1zM380.3 52.3h1v1h-1zM357.3 53.3h1v1h-1zM362.3 53.3h1v1h-1zM364.3 53.3h2v1h-2zM367.3 53.3h4v1h-4zM373.3 53.3h1v1h-1zM366.3 54.3h1v1h-1zM371.3 54.3h1v1h-1zM393.3 54.3h1v1h-1zM354.3 55.3h1v1h-1zM357.3 55.3h1v1h-1zM377.3 55.3h1v1h-1zM351.3 56.3h1v1h-1zM359.3 56.3h3v1h-3zM367.3 56.3h2v1h-2zM355.3 57.3h1v1h-1zM350.3 58.3h1v1h-1zM354.3 58.3h2v1h-2zM347.3 59.3h1v1h-1zM349.3 59.3h1v1h-1zM352.3 59.3h2v1h-2zM355.3 59.3h1v1h-1zM361.3 59.3h2v1h-2zM349.3 60.3h1v1h-1zM351.3 60.3h1v1h-1zM353.3 60.3h1v1h-1zM355.3 60.3h1v1h-1zM362.3 60.3h1v1h-1zM376.3 60.3h1v1h-1zM347.3 61.3h1v1h-1zM351.3 61.3h2v1h-2zM361.3 61.3h3v1h-3zM350.3 62.3h2v1h-2zM355.3 62.3h1v1h-1zM362.3 62.3h1v1h-1zM344.3 63.3h1v1h-1zM349.3 63.3h1v1h-1zM364.3 63.3h1v1h-1zM366.3 63.3h1v1h-1zM348.3 64.3h1v1h-1zM350.3 64.3h2v1h-2zM353.3 64.3h2v1h-2zM357.3 64.3h1v1h-1zM361.3 64.3h1v1h-1zM363.3 64.3h1v1h-1zM369.3 64.3h1v1h-1zM356.3 65.3h1v1h-1zM359.3 65.3h1v1h-1zM362.3 65.3h3v1h-3zM351.3 66.3h1v1h-1zM355.3 66.3h3v1h-3zM362.3 66.3h1v1h-1zM379.3 66.3h1v1h-1zM387.3 66.3h1v1h-1zM350.3 67.3h1v1h-1zM358.3 67.3h1v1h-1zM360.3 67.3h1v1h-1zM363.3 67.3h1v1h-1zM353.3 68.3h1v1h-1zM356.3 68.3h4v1h-4zM361.3 68.3h1v1h-1zM363.3 68.3h1v1h-1zM351.3 69.3h4v1h-4zM357.3 69.3h3v1h-3zM356.3 70.3h1v1h-1zM358.3 70.3h2v1h-2zM361.3 70.3h2v1h-2zM353.3 71.3h2v1h-2zM361.3 71.3h1v1h-1zM353.3 72.3h4v1h-4zM359.3 72.3h1v1h-1zM362.3 72.3h1v1h-1zM354.3 73.3h3v1h-3zM359.3 73.3h2v1h-2zM353.3 75.3h2v1h-2zM359.3 75.3h1v1h-1zM366.3 77.3h1v1h-1zM354.3 80.3h1v1h-1z" fill="rgb(128,128,128)"/>
<path d="M376.3 37.3h1v1h-1zM376.3 38.3h1v1h-1zM378.3 38.3h1v1h-1zM373.3 39.3h3v1h-3zM382.3 39.3h1v1h-1zM370.3 40.3h1v1h-1zM370.3 41.3h1v1h-1zM381.3 41.3h1v1h-1zM353.3 42.3h2v1h-2zM356.3 42.3h1v1h-1zM361.3 42.3h1v1h-1zM371.3 42.3h1v1h-1zM379.3 42.3h1v1h-1zM382.3 42.3h1v1h-1zM357.3 43.3h1v1h-1zM361.3 43.3h2v1h-2zM364.3 43.3h1v1h-1zM368.3 43.3h1v1h-1zM348.3 44.3h1v1h-1zM353.3 44.3h1v1h-1zM355.3 44.3h1v1h-1zM360.3 44.3h3v1h-3zM356.3 45.3h3v1h-3zM348.3 46.3h1v1h-1zM359.3 46.3h1v1h-1zM364.3 46.3h1v1h-1zM366.3 46.3h2v1h-2zM353.3 47.3h1v1h-1zM357.3 47.3h1v1h-1zM378.3 47.3h2v1h-2zM367.3 48.3h1v1h-1zM365.3 49.3h1v1h-1zM367.3 49.3h1v1h-1zM375.3 50.3h1v1h-1zM366.3 51.3h1v1h-1zM368.3 51.3h1v1h-1zM374.3 52.3h1v1h-1zM371.3 53.3h1v1h-1zM372.3 54.3h1v1h-1zM353.3 55.3h1v1h-1zM354.3 57.3h1v1h-1zM357.3 59.3h1v1h-1zM354.3 60.3h1v1h-1zM361.3 60.3h1v1h-1zM363.3 60.3h1v1h-1zM353.3 61.3h5v1h-5zM355.3 63.3h2v1h-2zM363.3 63.3h1v1h-1zM359.3 64.3h1v1h-1zM350.3 65.3h1v1h-1zM352.3 65.3h4v1h-4zM357.3 65.3h2v1h-2zM361.3 65.3h1v1h-1zM354.3 66.3h1v1h-1zM358.3 66.3h1v1h-1zM364.3 66.3h1v1h-1zM353.3 67.3h2v1h-2zM351.3 68.3h1v1h-1zM354.3 68.3h1v1h-1zM355.3 69.3h2v1h-2zM354.3 70.3h1v1h-1zM365.3 70.3h1v1h-1z" fill="rgb(85,85,85)"/>
<path d="M373.3 38.3h1v1h-1zM371.3 39.3h1v1h-1zM376.3 39.3h2v1h-2zM372.3 40.3h2v1h-2zM377.3 40.3h1v1h-1zM380.3 40.3h1v1h-1zM353.3 41.3h1v1h-1zM371.3 41.3h1v1h-1zM373.3 41.3h1v1h-1zM357.3 42.3h4v1h-4zM363.3 42.3h1v1h-1zM369.3 42.3h1v1h-1zM366.3 43.3h1v1h-1zM379.3 43.3h1v1h-1zM358.3 44.3h2v1h-2zM367.3 44.3h1v1h-1zM380.3 44.3h2v1h-2zM360.3 45.3h1v1h-1zM380.3 45.3h1v1h-1zM353.3 46.3h1v1h-1zM360.3 46.3h1v1h-1zM366.3 48.3h1v1h-1zM378.3 48.3h1v1h-1zM375.3 49.3h2v1h-2zM366.3 50.3h1v1h-1zM368.3 50.3h1v1h-1zM370.3 50.3h2v1h-2zM374.3 51.3h1v1h-1zM368.3 52.3h2v1h-2zM373.3 52.3h1v1h-1zM356.3 58.3h1v1h-1zM358.3 59.3h1v1h-1zM356.3 60.3h3v1h-3zM360.3 60.3h1v1h-1zM359.3 61.3h1v1h-1zM356.3 62.3h1v1h-1zM360.3 62.3h2v1h-2zM354.3 63.3h1v1h-1zM357.3 63.3h1v1h-1zM359.3 63.3h1v1h-1zM355.3 64.3h1v1h-1zM358.3 64.3h1v1h-1zM360.3 64.3h1v1h-1zM362.3 64.3h1v1h-1zM360.3 65.3h1v1h-1zM353.3 66.3h1v1h-1zM359.3 66.3h1v1h-1zM357.3 67.3h1v1h-1zM360.3 70.3h1v1h-1z" fill="rgb(42,42,42)"/>
<path d="M374.3 40.3h3v1h-3zM378.3 40.3h1v1h-1zM372.3 41.3h1v1h-1zM374.3 41.3h6v1h-6zM370.3 42.3h1v1h-1zM372.3 42.3h7v1h-7zM354.3 43.3h1v1h-1zM358.3 43.3h1v1h-1zM360.3 43.3h1v1h-1zM369.3 43.3h10v1h-10zM380.3 43.3h1v1h-1zM356.3 44.3h1v1h-1zM369.3 44.3h11v1h-11zM368.3 45.3h12v1h-12zM368.3 46.3h11v1h-11zM367.3 47.3h11v1h-11zM368.3 48.3h10v1h-10zM368.3 49.3h6v1h-6zM369.3 50.3h1v1h-1zM372.3 50.3h1v1h-1zM374.3 50.3h1v1h-1zM367.3 51.3h1v1h-1zM370.3 51.3h3v1h-3zM371.3 52.3h1v1h-1zM356.3 59.3h1v1h-1zM359.3 60.3h1v1h-1zM358.3 61.3h1v1h-1zM360.3 61.3h1v1h-1zM357.3 62.3h3v1h-3zM358.3 63.3h1v1h-1zM360.3 63.3h3v1h-3z" fill="rgb(0,0,0)"/>
<line x1="343.3" y1="28.3" x2="396.6" y2="28.3" stroke="#777" stroke-width="0.8"/>
<line x1="396.6" y1="28.3" x2="396.6" y2="81.1" stroke="#777" stroke-width="0.8"/>
<line x1="342.2" y1="81.1" x2="343.3" y2="81.1" stroke="#000" stroke-width="0.4"/>
<line x1="342.2" y1="79.33999999999999" x2="343.3" y2="79.33999999999999" stroke="#000" stroke-width="0.4"/>
<line x1="342.2" y1="77.58" x2="343.3" y2="77.58" stroke="#000" stroke-width="0.4"/>
<line x1="342.2" y1="75.82" x2="343.3" y2="75.82" stroke="#000" stroke-width="0.4"/>
<line x1="342.2" y1="74.05999999999999" x2="343.3" y2="74.05999999999999" stroke="#000" stroke-width="0.4"/>
<line x1="342.2" y1="72.3" x2="343.3" y2="72.3" stroke="#000" stroke-width="0.4"/>
<line x1="342.2" y1="70.53999999999999" x2="343.3" y2="70.53999999999999" stroke="#000" stroke-width="0.4"/>
<line x1="342.2" y1="68.78" x2="343.3" y2="68.78" stroke="#000" stroke-width="0.4"/>
<line x1="342.2" y1="67.02" x2="343.3" y2="67.02" stroke="#000" stroke-width="0.4"/>
<line x1="342.2" y1="65.25999999999999" x2="343.3" y2="65.25999999999999" stroke="#000" stroke-width="0.4"/>
<line x1="342.2" y1="63.49999999999999" x2="343.3" y2="63.49999999999999" stroke="#000" stroke-width="0.4"/>
<line x1="342.2" y1="61.739999999999995" x2="343.3" y2="61.739999999999995" stroke="#000" stroke-width="0.4"/>
<line x1="342.2" y1="59.98" x2="343.3" y2="59.98" stroke="#000" stroke-width="0.4"/>
<line x1="342.2" y1="58.22" x2="343.3" y2="58.22" stroke="#000" stroke-width="0.4"/>
<line x1="342.2" y1="56.459999999999994" x2="343.3" y2="56.459999999999994" stroke="#000" stroke-width="0.4"/>
<line x1="342.2" y1="54.699999999999996" x2="343.3" y2="54.699999999999996" stroke="#000" stroke-width="0.4"/>
<line x1="342.2" y1="52.94" x2="343.3" y2="52.94" stroke="#000" stroke-width="0.4"/>
<line x1="342.2" y1="51.17999999999999" x2="343.3" y2="51.17999999999999" stroke="#000" stroke-width="0.4"/>
<line x1="342.2" y1="49.419999999999995" x2="343.3" y2="49.419999999999995" stroke="#000" stroke-width="0.4"/>
<line x1="342.2" y1="47.66" x2="343.3" y2="47.66" stroke="#000" stroke-width="0.4"/>
<line x1="342.2" y1="45.89999999999999" x2="343.3" y2="45.89999999999999" stroke="#000" stroke-width="0.4"/>
<line x1="342.2" y1="44.13999999999999" x2="343.3" y2="44.13999999999999" stroke="#000" stroke-width="0.4"/>
<line x1="342.2" y1="42.379999999999995" x2="343.3" y2="42.379999999999995" stroke="#000" stroke-width="0.4"/>
<line x1="342.2" y1="40.62" x2="343.3" y2="40.62" stroke="#000" stroke-width="0.4"/>
<line x1="342.2" y1="38.86" x2="343.3" y2="38.86" stroke="#000" stroke-width="0.4"/>
<line x1="342.2" y1="37.099999999999994" x2="343.3" y2="37.099999999999994" stroke="#000" stroke-width="0.4"/>
<line x1="342.2" y1="35.339999999999996" x2="343.3" y2="35.339999999999996" stroke="#000" stroke-width="0.4"/>
<line x1="342.2" y1="33.58" x2="343.3" y2="33.58" stroke="#000" stroke-width="0.4"/>
<line x1="342.2" y1="31.82" x2="343.3" y2="31.82" stroke="#000" stroke-width="0.4"/>
<line x1="342.2" y1="30.060000000000002" x2="343.3" y2="30.060000000000002" stroke="#000" stroke-width="0.4"/>
<line x1="342.2" y1="28.299999999999997" x2="343.3" y2="28.299999999999997" stroke="#000" stroke-width="0.4"/>
<line x1="343.3" y1="81.1" x2="343.3" y2="82.19999999999999" stroke="#000" stroke-width="0.4"/>
<line x1="345.07666666666665" y1="81.1" x2="345.07666666666665" y2="82.19999999999999" stroke="#000" stroke-width="0.4"/>
<line x1="346.85333333333335" y1="81.1" x2="346.85333333333335" y2="82.19999999999999" stroke="#000" stroke-width="0.4"/>
<line x1="348.63" y1="81.1" x2="348.63" y2="82.19999999999999" stroke="#000" stroke-width="0.4"/>
<line x1="350.4066666666667" y1="81.1" x2="350.4066666666667" y2="82.19999999999999" stroke="#000" stroke-width="0.4"/>
<line x1="352.18333333333334" y1="81.1" x2="352.18333333333334" y2="82.19999999999999" stroke="#000" stroke-width="0.4"/>
<line x1="353.96000000000004" y1="81.1" x2="353.96000000000004" y2="82.19999999999999" stroke="#000" stroke-width="0.4"/>
<line x1="355.7366666666667" y1="81.1" x2="355.7366666666667" y2="82.19999999999999" stroke="#000" stroke-width="0.4"/>
<line x1="357.5133333333333" y1="81.1" x2="357.5133333333333" y2="82.19999999999999" stroke="#000" stroke-width="0.4"/>
<line x1="359.29" y1="81.1" x2="359.29" y2="82.19999999999999" stroke="#000" stroke-width="0.4"/>
<line x1="361.06666666666666" y1="81.1" x2="361.06666666666666" y2="82.19999999999999" stroke="#000" stroke-width="0.4"/>
<line x1="362.84333333333336" y1="81.1" x2="362.84333333333336" y2="82.19999999999999" stroke="#000" stroke-width="0.4"/>
<line x1="364.62" y1="81.1" x2="364.62" y2="82.19999999999999" stroke="#000" stroke-width="0.4"/>
<line x1="366.3966666666667" y1="81.1" x2="366.3966666666667" y2="82.19999999999999" stroke="#000" stroke-width="0.4"/>
<line x1="368.17333333333335" y1="81.1" x2="368.17333333333335" y2="82.19999999999999" stroke="#000" stroke-width="0.4"/>
<line x1="369.95000000000005" y1="81.1" x2="369.95000000000005" y2="82.19999999999999" stroke="#000" stroke-width="0.4"/>
<line x1="371.7266666666667" y1="81.1" x2="371.7266666666667" y2="82.19999999999999" stroke="#000" stroke-width="0.4"/>
<line x1="373.50333333333333" y1="81.1" x2="373.50333333333333" y2="82.19999999999999" stroke="#000" stroke-width="0.4"/>
<line x1="375.28000000000003" y1="81.1" x2="375.28000000000003" y2="82.19999999999999" stroke="#000" stroke-width="0.4"/>
<line x1="377.0566666666667" y1="81.1" x2="377.0566666666667" y2="82.19999999999999" stroke="#000" stroke-width="0.4"/>
<line x1="378.83333333333337" y1="81.1" x2="378.83333333333337" y2="82.19999999999999" stroke="#000" stroke-width="0.4"/>
<line x1="380.61" y1="81.1" x2="380.61" y2="82.19999999999999" stroke="#000" stroke-width="0.4"/>
<line x1="382.3866666666667" y1="81.1" x2="382.3866666666667" y2="82.19999999999999" stroke="#000" stroke-width="0.4"/>
<line x1="384.16333333333336" y1="81.1" x2="384.16333333333336" y2="82.19999999999999" stroke="#000" stroke-width="0.4"/>
<line x1="385.94" y1="81.1" x2="385.94" y2="82.19999999999999" stroke="#000" stroke-width="0.4"/>
<line x1="387.7166666666667" y1="81.1" x2="387.7166666666667" y2="82.19999999999999" stroke="#000" stroke-width="0.4"/>
<line x1="389.49333333333334" y1="81.1" x2="389.49333333333334" y2="82.19999999999999" stroke="#000" stroke-width="0.4"/>
<line x1="391.27000000000004" y1="81.1" x2="391.27000000000004" y2="82.19999999999999" stroke="#000" stroke-width="0.4"/>
<line x1="393.0466666666667" y1="81.1" x2="393.0466666666667" y2="82.19999999999999" stroke="#000" stroke-width="0.4"/>
<line x1="394.8233333333334" y1="81.1" x2="394.8233333333334" y2="82.19999999999999" stroke="#000" stroke-width="0.4"/>
<line x1="396.6" y1="81.1" x2="396.6" y2="82.19999999999999" stroke="#000" stroke-width="0.4"/>
<line x1="343.3" y1="28.3" x2="343.3" y2="81.1" stroke="#000" stroke-width="0.9"/>
<line x1="342.90000000000003" y1="81.1" x2="396.6" y2="81.1" stroke="#000" stroke-width="0.9"/>
<line x1="365.6" y1="28.3" x2="365.6" y2="81.1" stroke="#000" stroke-width="0.8"/>
<line x1="343.3" y1="56" x2="396.6" y2="56" stroke="#000" stroke-width="0.8"/>
<circle cx="375.6" cy="46.2" r="10" fill="none" stroke="#000" stroke-width="0.75"/>
<line x1="341.3" y1="33.5" x2="343.3" y2="33.5" stroke="#000" stroke-width="0.7"/>
<text x="339.3" y="34.7" font-size="3.2" font-family='"Liberation Sans", sans-serif' text-anchor="middle" fill="#222" stroke="#222" stroke-width="0.2" transform="rotate(-18 339.3 34.7)">10<tspan font-size="2.2399999999999998" dy="-1.2">5</tspan></text>
<line x1="341.3" y1="43.5" x2="343.3" y2="43.5" stroke="#000" stroke-width="0.7"/>
<text x="339.3" y="44.7" font-size="3.2" font-family='"Liberation Sans", sans-serif' text-anchor="middle" fill="#222" stroke="#222" stroke-width="0.2" transform="rotate(-18 339.3 44.7)">10<tspan font-size="2.2399999999999998" dy="-1.2">4</tspan></text>
<line x1="341.3" y1="53.5" x2="343.3" y2="53.5" stroke="#000" stroke-width="0.7"/>
<text x="339.3" y="54.7" font-size="3.2" font-family='"Liberation Sans", sans-serif' text-anchor="middle" fill="#222" stroke="#222" stroke-width="0.2" transform="rotate(-18 339.3 54.7)">10<tspan font-size="2.2399999999999998" dy="-1.2">3</tspan></text>
<line x1="341.3" y1="63.5" x2="343.3" y2="63.5" stroke="#000" stroke-width="0.7"/>
<text x="339.3" y="64.7" font-size="3.2" font-family='"Liberation Sans", sans-serif' text-anchor="middle" fill="#222" stroke="#222" stroke-width="0.2" transform="rotate(-18 339.3 64.7)">10<tspan font-size="2.2399999999999998" dy="-1.2">2</tspan></text>
<line x1="341.3" y1="73.5" x2="343.3" y2="73.5" stroke="#000" stroke-width="0.7"/>
<text x="339.3" y="74.7" font-size="3.2" font-family='"Liberation Sans", sans-serif' text-anchor="middle" fill="#222" stroke="#222" stroke-width="0.2" transform="rotate(-18 339.3 74.7)">10<tspan font-size="2.2399999999999998" dy="-1.2">1</tspan></text>
<line x1="350.4" y1="81.1" x2="350.4" y2="83.1" stroke="#000" stroke-width="0.7"/>
<text x="349.59999999999997" y="87.1" font-size="3.2" font-family='"Liberation Sans", sans-serif' text-anchor="middle" fill="#222" stroke="#222" stroke-width="0.2" transform="rotate(-18 349.59999999999997 87.1)">10<tspan font-size="2.2399999999999998" dy="-1.2">1</tspan></text>
<line x1="360.8" y1="81.1" x2="360.8" y2="83.1" stroke="#000" stroke-width="0.7"/>
<text x="360.0" y="87.1" font-size="3.2" font-family='"Liberation Sans", sans-serif' text-anchor="middle" fill="#222" stroke="#222" stroke-width="0.2" transform="rotate(-18 360.0 87.1)">10<tspan font-size="2.2399999999999998" dy="-1.2">2</tspan></text>
<line x1="371.2" y1="81.1" x2="371.2" y2="83.1" stroke="#000" stroke-width="0.7"/>
<text x="370.4" y="87.1" font-size="3.2" font-family='"Liberation Sans", sans-serif' text-anchor="middle" fill="#222" stroke="#222" stroke-width="0.2" transform="rotate(-18 370.4 87.1)">10<tspan font-size="2.2399999999999998" dy="-1.2">3</tspan></text>
<line x1="381.6" y1="81.1" x2="381.6" y2="83.1" stroke="#000" stroke-width="0.7"/>
<text x="380.8" y="87.1" font-size="3.2" font-family='"Liberation Sans", sans-serif' text-anchor="middle" fill="#222" stroke="#222" stroke-width="0.2" transform="rotate(-18 380.8 87.1)">10<tspan font-size="2.2399999999999998" dy="-1.2">4</tspan></text>
<line x1="392" y1="81.1" x2="392" y2="83.1" stroke="#000" stroke-width="0.7"/>
<text x="391.2" y="87.1" font-size="3.2" font-family='"Liberation Sans", sans-serif' text-anchor="middle" fill="#222" stroke="#222" stroke-width="0.2" transform="rotate(-18 391.2 87.1)">10<tspan font-size="2.2399999999999998" dy="-1.2">5</tspan></text>
<text x="345.8" y="35.6" font-size="6.5" font-family='"Liberation Sans", sans-serif' font-weight="normal" text-anchor="start" fill="#111" stroke="#111" stroke-width="0.22">4</text>
<text x="386.4" y="35.6" font-size="6.5" font-family='"Liberation Sans", sans-serif' font-weight="normal" text-anchor="start" fill="#111" stroke="#111" stroke-width="0.22">89</text>
<text x="389" y="77.8" font-size="6.5" font-family='"Liberation Sans", sans-serif' font-weight="normal" text-anchor="start" fill="#111" stroke="#111" stroke-width="0.22">0</text>
<text x="333.4" y="56.3" font-size="6.3" font-family='"Liberation Sans", sans-serif' font-weight="normal" text-anchor="middle" fill="#111" stroke="#111" stroke-width="0.22" transform="rotate(-90 333.4 56.3)">CD4</text>
<text x="351" y="96.4" font-size="6.2" font-family='"Liberation Sans", sans-serif' font-weight="normal" text-anchor="start" fill="#111" stroke="#111" stroke-width="0.22">TCR Vβ 11</text>
<path d="M378.8 105.6h1v1h-1zM378.8 107.6h1v1h-1zM387.8 107.6h2v1h-2zM354.8 108.6h1v1h-1zM359.8 108.6h1v1h-1zM362.8 108.6h1v1h-1zM391.8 108.6h1v1h-1zM354.8 109.6h1v1h-1zM374.8 109.6h1v1h-1zM355.8 111.6h1v1h-1zM379.8 111.6h1v1h-1zM379.8 112.6h1v1h-1zM365.8 115.6h1v1h-1zM377.8 115.6h1v1h-1zM370.8 116.6h1v1h-1zM357.8 117.6h1v1h-1zM379.8 117.6h1v1h-1zM375.8 118.6h1v1h-1zM389.8 118.6h1v1h-1zM390.8 121.6h1v1h-1zM368.8 122.6h1v1h-1zM354.8 123.6h2v1h-2zM357.8 123.6h1v1h-1zM361.8 123.6h1v1h-1zM366.8 123.6h2v1h-2zM355.8 124.6h1v1h-1zM358.8 124.6h1v1h-1zM367.8 124.6h1v1h-1zM371.8 124.6h1v1h-1zM374.8 124.6h1v1h-1zM377.8 124.6h1v1h-1zM353.8 125.6h1v1h-1zM358.8 125.6h1v1h-1zM367.8 125.6h1v1h-1zM372.8 125.6h2v1h-2zM376.8 125.6h1v1h-1zM384.8 125.6h1v1h-1zM386.8 125.6h1v1h-1zM355.8 126.6h2v1h-2zM360.8 126.6h1v1h-1zM362.8 126.6h3v1h-3zM366.8 126.6h1v1h-1zM371.8 126.6h2v1h-2zM375.8 126.6h2v1h-2zM384.8 126.6h1v1h-1zM359.8 127.6h1v1h-1zM367.8 127.6h3v1h-3zM371.8 127.6h1v1h-1zM373.8 127.6h1v1h-1zM375.8 127.6h1v1h-1zM377.8 127.6h1v1h-1zM381.8 127.6h1v1h-1zM385.8 127.6h1v1h-1zM387.8 127.6h1v1h-1zM360.8 128.6h1v1h-1zM375.8 128.6h1v1h-1zM377.8 128.6h4v1h-4zM384.8 128.6h1v1h-1zM386.8 128.6h2v1h-2zM389.8 128.6h1v1h-1zM375.8 129.6h2v1h-2zM379.8 129.6h1v1h-1zM382.8 129.6h1v1h-1zM385.8 129.6h3v1h-3zM390.8 129.6h1v1h-1zM376.8 130.6h1v1h-1zM379.8 130.6h1v1h-1zM381.8 130.6h1v1h-1zM386.8 131.6h1v1h-1zM389.8 131.6h1v1h-1zM377.8 135.6h1v1h-1zM390.8 135.6h1v1h-1zM379.8 137.6h3v1h-3zM384.8 137.6h1v1h-1zM386.8 137.6h1v1h-1zM376.8 138.6h1v1h-1zM379.8 138.6h1v1h-1zM381.8 138.6h1v1h-1zM388.8 138.6h1v1h-1zM376.8 139.6h1v1h-1zM378.8 139.6h1v1h-1zM384.8 139.6h2v1h-2zM387.8 139.6h2v1h-2zM392.8 139.6h1v1h-1zM359.8 140.6h1v1h-1zM376.8 140.6h1v1h-1zM378.8 140.6h2v1h-2zM381.8 140.6h1v1h-1zM383.8 140.6h1v1h-1zM389.8 140.6h1v1h-1zM354.8 141.6h2v1h-2zM357.8 141.6h1v1h-1zM359.8 141.6h1v1h-1zM364.8 141.6h1v1h-1zM367.8 141.6h1v1h-1zM370.8 141.6h1v1h-1zM372.8 141.6h1v1h-1zM375.8 141.6h2v1h-2zM378.8 141.6h1v1h-1zM380.8 141.6h1v1h-1zM382.8 141.6h1v1h-1zM387.8 141.6h1v1h-1zM353.8 142.6h1v1h-1zM370.8 142.6h1v1h-1zM372.8 142.6h2v1h-2zM376.8 142.6h1v1h-1zM356.8 143.6h1v1h-1zM359.8 143.6h2v1h-2zM364.8 143.6h1v1h-1zM367.8 143.6h1v1h-1zM372.8 143.6h2v1h-2zM376.8 143.6h1v1h-1zM379.8 143.6h2v1h-2zM384.8 143.6h1v1h-1zM391.8 143.6h1v1h-1zM353.8 144.6h1v1h-1zM355.8 144.6h2v1h-2zM358.8 144.6h1v1h-1zM362.8 144.6h2v1h-2zM372.8 144.6h3v1h-3zM377.8 144.6h1v1h-1zM384.8 144.6h2v1h-2zM355.8 145.6h1v1h-1zM359.8 145.6h1v1h-1zM363.8 145.6h3v1h-3zM368.8 145.6h1v1h-1zM370.8 145.6h1v1h-1zM372.8 145.6h1v1h-1zM384.8 145.6h1v1h-1zM388.8 145.6h1v1h-1zM356.8 146.6h1v1h-1zM359.8 146.6h1v1h-1zM366.8 146.6h1v1h-1zM368.8 146.6h4v1h-4zM375.8 146.6h1v1h-1zM377.8 146.6h1v1h-1zM379.8 146.6h1v1h-1zM383.8 146.6h1v1h-1zM354.8 147.6h1v1h-1zM368.8 147.6h1v1h-1zM371.8 147.6h1v1h-1zM376.8 147.6h2v1h-2zM380.8 147.6h1v1h-1zM382.8 147.6h1v1h-1zM358.8 148.6h1v1h-1zM360.8 148.6h1v1h-1zM363.8 148.6h1v1h-1zM366.8 148.6h1v1h-1zM369.8 148.6h1v1h-1zM373.8 148.6h1v1h-1zM358.8 149.6h1v1h-1zM363.8 149.6h1v1h-1zM366.8 149.6h1v1h-1zM371.8 149.6h1v1h-1zM361.8 150.6h1v1h-1zM369.8 150.6h2v1h-2zM376.8 150.6h2v1h-2zM380.8 150.6h1v1h-1zM385.8 150.6h1v1h-1zM390.8 150.6h1v1h-1zM364.8 151.6h1v1h-1zM373.8 151.6h1v1h-1zM378.8 151.6h1v1h-1zM366.8 152.6h1v1h-1zM372.8 152.6h1v1h-1z" fill="rgb(128,128,128)"/>
<path d="M357.8 124.6h1v1h-1zM360.8 124.6h1v1h-1zM353.8 126.6h1v1h-1zM358.8 126.6h1v1h-1zM365.8 126.6h1v1h-1zM367.8 126.6h1v1h-1zM369.8 126.6h2v1h-2zM356.8 127.6h1v1h-1zM353.8 128.6h1v1h-1zM364.8 128.6h4v1h-4zM365.8 129.6h1v1h-1zM378.8 129.6h1v1h-1zM381.8 129.6h1v1h-1zM383.8 129.6h1v1h-1zM388.8 129.6h1v1h-1zM380.8 130.6h1v1h-1zM387.8 130.6h1v1h-1zM379.8 131.6h2v1h-2zM385.8 131.6h1v1h-1zM385.8 133.6h1v1h-1zM390.8 134.6h1v1h-1zM376.8 136.6h1v1h-1zM383.8 136.6h1v1h-1zM390.8 136.6h1v1h-1zM376.8 137.6h2v1h-2zM390.8 137.6h1v1h-1zM359.8 138.6h1v1h-1zM378.8 138.6h1v1h-1zM383.8 138.6h2v1h-2zM387.8 138.6h1v1h-1zM389.8 138.6h1v1h-1zM361.8 139.6h1v1h-1zM389.8 139.6h1v1h-1zM363.8 140.6h1v1h-1zM370.8 140.6h4v1h-4zM385.8 140.6h1v1h-1zM388.8 140.6h1v1h-1zM353.8 141.6h1v1h-1zM356.8 141.6h1v1h-1zM360.8 141.6h4v1h-4zM373.8 141.6h2v1h-2zM377.8 141.6h1v1h-1zM355.8 142.6h1v1h-1zM357.8 142.6h1v1h-1zM368.8 142.6h1v1h-1zM378.8 142.6h1v1h-1zM365.8 143.6h1v1h-1zM368.8 143.6h3v1h-3zM375.8 143.6h1v1h-1zM377.8 143.6h1v1h-1zM369.8 144.6h1v1h-1zM371.8 144.6h1v1h-1zM375.8 144.6h1v1h-1zM381.8 144.6h1v1h-1zM371.8 145.6h1v1h-1zM373.8 145.6h1v1h-1zM381.8 145.6h1v1h-1zM372.8 146.6h2v1h-2zM376.8 146.6h1v1h-1zM367.8 147.6h1v1h-1zM370.8 147.6h1v1h-1zM375.8 148.6h1v1h-1zM367.8 150.6h1v1h-1z" fill="rgb(85,85,85)"/>
<path d="M359.8 125.6h1v1h-1zM361.8 126.6h1v1h-1zM373.8 126.6h2v1h-2zM354.8 127.6h1v1h-1zM361.8 127.6h3v1h-3zM365.8 127.6h2v1h-2zM370.8 127.6h1v1h-1zM372.8 127.6h1v1h-1zM374.8 127.6h1v1h-1zM378.8 127.6h1v1h-1zM355.8 128.6h5v1h-5zM363.8 128.6h1v1h-1zM370.8 128.6h3v1h-3zM353.8 129.6h1v1h-1zM357.8 129.6h1v1h-1zM359.8 129.6h1v1h-1zM366.8 129.6h2v1h-2zM372.8 129.6h1v1h-1zM377.8 129.6h1v1h-1zM368.8 130.6h1v1h-1zM375.8 130.6h1v1h-1zM377.8 130.6h1v1h-1zM383.8 130.6h2v1h-2zM389.8 130.6h1v1h-1zM353.8 131.6h1v1h-1zM376.8 131.6h2v1h-2zM382.8 131.6h1v1h-1zM388.8 131.6h1v1h-1zM376.8 132.6h1v1h-1zM378.8 132.6h1v1h-1zM380.8 132.6h2v1h-2zM384.8 132.6h1v1h-1zM389.8 132.6h1v1h-1zM379.8 133.6h1v1h-1zM381.8 133.6h1v1h-1zM388.8 133.6h1v1h-1zM390.8 133.6h1v1h-1zM377.8 134.6h2v1h-2zM383.8 134.6h1v1h-1zM376.8 135.6h1v1h-1zM378.8 135.6h1v1h-1zM380.8 135.6h2v1h-2zM383.8 135.6h1v1h-1zM386.8 135.6h1v1h-1zM388.8 135.6h1v1h-1zM378.8 136.6h3v1h-3zM382.8 136.6h1v1h-1zM385.8 136.6h1v1h-1zM389.8 136.6h1v1h-1zM378.8 137.6h1v1h-1zM382.8 137.6h2v1h-2zM387.8 137.6h1v1h-1zM367.8 138.6h2v1h-2zM377.8 138.6h1v1h-1zM380.8 138.6h1v1h-1zM356.8 139.6h1v1h-1zM359.8 139.6h1v1h-1zM362.8 139.6h3v1h-3zM367.8 139.6h1v1h-1zM371.8 139.6h1v1h-1zM373.8 139.6h3v1h-3zM353.8 140.6h1v1h-1zM355.8 140.6h1v1h-1zM358.8 140.6h1v1h-1zM360.8 140.6h1v1h-1zM364.8 140.6h4v1h-4zM382.8 140.6h1v1h-1zM368.8 141.6h2v1h-2zM362.8 142.6h1v1h-1zM367.8 142.6h1v1h-1zM369.8 142.6h1v1h-1zM361.8 143.6h1v1h-1zM371.8 143.6h1v1h-1zM365.8 144.6h2v1h-2zM360.8 145.6h1v1h-1zM369.8 145.6h1v1h-1zM364.8 148.6h1v1h-1zM367.8 148.6h1v1h-1z" fill="rgb(42,42,42)"/>
<path d="M353.8 127.6h1v1h-1zM360.8 127.6h1v1h-1zM354.8 128.6h1v1h-1zM361.8 128.6h2v1h-2zM369.8 128.6h1v1h-1zM373.8 128.6h2v1h-2zM354.8 129.6h3v1h-3zM358.8 129.6h1v1h-1zM360.8 129.6h5v1h-5zM368.8 129.6h4v1h-4zM373.8 129.6h2v1h-2zM384.8 129.6h1v1h-1zM389.8 129.6h1v1h-1zM353.8 130.6h15v1h-15zM369.8 130.6h6v1h-6zM378.8 130.6h1v1h-1zM382.8 130.6h1v1h-1zM385.8 130.6h2v1h-2zM388.8 130.6h1v1h-1zM354.8 131.6h22v1h-22zM378.8 131.6h1v1h-1zM381.8 131.6h1v1h-1zM383.8 131.6h2v1h-2zM387.8 131.6h1v1h-1zM353.8 132.6h23v1h-23zM377.8 132.6h1v1h-1zM379.8 132.6h1v1h-1zM382.8 132.6h2v1h-2zM386.8 132.6h3v1h-3zM353.8 133.6h26v1h-26zM380.8 133.6h1v1h-1zM382.8 133.6h3v1h-3zM386.8 133.6h2v1h-2zM389.8 133.6h1v1h-1zM353.8 134.6h24v1h-24zM379.8 134.6h4v1h-4zM384.8 134.6h6v1h-6zM353.8 135.6h23v1h-23zM379.8 135.6h1v1h-1zM382.8 135.6h1v1h-1zM384.8 135.6h2v1h-2zM387.8 135.6h1v1h-1zM389.8 135.6h1v1h-1zM353.8 136.6h23v1h-23zM377.8 136.6h1v1h-1zM381.8 136.6h1v1h-1zM384.8 136.6h1v1h-1zM386.8 136.6h3v1h-3zM353.8 137.6h23v1h-23zM385.8 137.6h1v1h-1zM388.8 137.6h1v1h-1zM354.8 138.6h5v1h-5zM360.8 138.6h7v1h-7zM369.8 138.6h7v1h-7zM386.8 138.6h1v1h-1zM353.8 139.6h3v1h-3zM357.8 139.6h2v1h-2zM360.8 139.6h1v1h-1zM365.8 139.6h2v1h-2zM368.8 139.6h3v1h-3zM372.8 139.6h1v1h-1zM354.8 140.6h1v1h-1zM356.8 140.6h2v1h-2zM361.8 140.6h2v1h-2zM368.8 140.6h2v1h-2zM374.8 140.6h1v1h-1zM365.8 141.6h1v1h-1zM363.8 142.6h1v1h-1zM365.8 142.6h1v1h-1zM372.8 147.6h1v1h-1z" fill="rgb(0,0,0)"/>
<line x1="342.8" y1="102.6" x2="396.6" y2="102.6" stroke="#777" stroke-width="0.8"/>
<line x1="396.6" y1="102.6" x2="396.6" y2="156.9" stroke="#777" stroke-width="0.8"/>
<line x1="341.7" y1="156.9" x2="342.8" y2="156.9" stroke="#000" stroke-width="0.4"/>
<line x1="341.7" y1="155.09" x2="342.8" y2="155.09" stroke="#000" stroke-width="0.4"/>
<line x1="341.7" y1="153.28" x2="342.8" y2="153.28" stroke="#000" stroke-width="0.4"/>
<line x1="341.7" y1="151.47" x2="342.8" y2="151.47" stroke="#000" stroke-width="0.4"/>
<line x1="341.7" y1="149.66" x2="342.8" y2="149.66" stroke="#000" stroke-width="0.4"/>
<line x1="341.7" y1="147.85" x2="342.8" y2="147.85" stroke="#000" stroke-width="0.4"/>
<line x1="341.7" y1="146.04" x2="342.8" y2="146.04" stroke="#000" stroke-width="0.4"/>
<line x1="341.7" y1="144.23" x2="342.8" y2="144.23" stroke="#000" stroke-width="0.4"/>
<line x1="341.7" y1="142.42000000000002" x2="342.8" y2="142.42000000000002" stroke="#000" stroke-width="0.4"/>
<line x1="341.7" y1="140.61" x2="342.8" y2="140.61" stroke="#000" stroke-width="0.4"/>
<line x1="341.7" y1="138.8" x2="342.8" y2="138.8" stroke="#000" stroke-width="0.4"/>
<line x1="341.7" y1="136.99" x2="342.8" y2="136.99" stroke="#000" stroke-width="0.4"/>
<line x1="341.7" y1="135.18" x2="342.8" y2="135.18" stroke="#000" stroke-width="0.4"/>
<line x1="341.7" y1="133.37" x2="342.8" y2="133.37" stroke="#000" stroke-width="0.4"/>
<line x1="341.7" y1="131.56" x2="342.8" y2="131.56" stroke="#000" stroke-width="0.4"/>
<line x1="341.7" y1="129.75" x2="342.8" y2="129.75" stroke="#000" stroke-width="0.4"/>
<line x1="341.7" y1="127.94" x2="342.8" y2="127.94" stroke="#000" stroke-width="0.4"/>
<line x1="341.7" y1="126.13" x2="342.8" y2="126.13" stroke="#000" stroke-width="0.4"/>
<line x1="341.7" y1="124.32" x2="342.8" y2="124.32" stroke="#000" stroke-width="0.4"/>
<line x1="341.7" y1="122.50999999999999" x2="342.8" y2="122.50999999999999" stroke="#000" stroke-width="0.4"/>
<line x1="341.7" y1="120.69999999999999" x2="342.8" y2="120.69999999999999" stroke="#000" stroke-width="0.4"/>
<line x1="341.7" y1="118.89" x2="342.8" y2="118.89" stroke="#000" stroke-width="0.4"/>
<line x1="341.7" y1="117.07999999999998" x2="342.8" y2="117.07999999999998" stroke="#000" stroke-width="0.4"/>
<line x1="341.7" y1="115.27" x2="342.8" y2="115.27" stroke="#000" stroke-width="0.4"/>
<line x1="341.7" y1="113.46" x2="342.8" y2="113.46" stroke="#000" stroke-width="0.4"/>
<line x1="341.7" y1="111.65" x2="342.8" y2="111.65" stroke="#000" stroke-width="0.4"/>
<line x1="341.7" y1="109.84" x2="342.8" y2="109.84" stroke="#000" stroke-width="0.4"/>
<line x1="341.7" y1="108.03" x2="342.8" y2="108.03" stroke="#000" stroke-width="0.4"/>
<line x1="341.7" y1="106.22" x2="342.8" y2="106.22" stroke="#000" stroke-width="0.4"/>
<line x1="341.7" y1="104.41" x2="342.8" y2="104.41" stroke="#000" stroke-width="0.4"/>
<line x1="341.7" y1="102.6" x2="342.8" y2="102.6" stroke="#000" stroke-width="0.4"/>
<line x1="342.8" y1="156.9" x2="342.8" y2="158.0" stroke="#000" stroke-width="0.4"/>
<line x1="344.59333333333336" y1="156.9" x2="344.59333333333336" y2="158.0" stroke="#000" stroke-width="0.4"/>
<line x1="346.38666666666666" y1="156.9" x2="346.38666666666666" y2="158.0" stroke="#000" stroke-width="0.4"/>
<line x1="348.18" y1="156.9" x2="348.18" y2="158.0" stroke="#000" stroke-width="0.4"/>
<line x1="349.97333333333336" y1="156.9" x2="349.97333333333336" y2="158.0" stroke="#000" stroke-width="0.4"/>
<line x1="351.76666666666665" y1="156.9" x2="351.76666666666665" y2="158.0" stroke="#000" stroke-width="0.4"/>
<line x1="353.56" y1="156.9" x2="353.56" y2="158.0" stroke="#000" stroke-width="0.4"/>
<line x1="355.35333333333335" y1="156.9" x2="355.35333333333335" y2="158.0" stroke="#000" stroke-width="0.4"/>
<line x1="357.1466666666667" y1="156.9" x2="357.1466666666667" y2="158.0" stroke="#000" stroke-width="0.4"/>
<line x1="358.94" y1="156.9" x2="358.94" y2="158.0" stroke="#000" stroke-width="0.4"/>
<line x1="360.73333333333335" y1="156.9" x2="360.73333333333335" y2="158.0" stroke="#000" stroke-width="0.4"/>
<line x1="362.5266666666667" y1="156.9" x2="362.5266666666667" y2="158.0" stroke="#000" stroke-width="0.4"/>
<line x1="364.32" y1="156.9" x2="364.32" y2="158.0" stroke="#000" stroke-width="0.4"/>
<line x1="366.11333333333334" y1="156.9" x2="366.11333333333334" y2="158.0" stroke="#000" stroke-width="0.4"/>
<line x1="367.9066666666667" y1="156.9" x2="367.9066666666667" y2="158.0" stroke="#000" stroke-width="0.4"/>
<line x1="369.70000000000005" y1="156.9" x2="369.70000000000005" y2="158.0" stroke="#000" stroke-width="0.4"/>
<line x1="371.49333333333334" y1="156.9" x2="371.49333333333334" y2="158.0" stroke="#000" stroke-width="0.4"/>
<line x1="373.2866666666667" y1="156.9" x2="373.2866666666667" y2="158.0" stroke="#000" stroke-width="0.4"/>
<line x1="375.08000000000004" y1="156.9" x2="375.08000000000004" y2="158.0" stroke="#000" stroke-width="0.4"/>
<line x1="376.87333333333333" y1="156.9" x2="376.87333333333333" y2="158.0" stroke="#000" stroke-width="0.4"/>
<line x1="378.6666666666667" y1="156.9" x2="378.6666666666667" y2="158.0" stroke="#000" stroke-width="0.4"/>
<line x1="380.46000000000004" y1="156.9" x2="380.46000000000004" y2="158.0" stroke="#000" stroke-width="0.4"/>
<line x1="382.25333333333333" y1="156.9" x2="382.25333333333333" y2="158.0" stroke="#000" stroke-width="0.4"/>
<line x1="384.0466666666667" y1="156.9" x2="384.0466666666667" y2="158.0" stroke="#000" stroke-width="0.4"/>
<line x1="385.84000000000003" y1="156.9" x2="385.84000000000003" y2="158.0" stroke="#000" stroke-width="0.4"/>
<line x1="387.6333333333333" y1="156.9" x2="387.6333333333333" y2="158.0" stroke="#000" stroke-width="0.4"/>
<line x1="389.4266666666667" y1="156.9" x2="389.4266666666667" y2="158.0" stroke="#000" stroke-width="0.4"/>
<line x1="391.22" y1="156.9" x2="391.22" y2="158.0" stroke="#000" stroke-width="0.4"/>
<line x1="393.0133333333334" y1="156.9" x2="393.0133333333334" y2="158.0" stroke="#000" stroke-width="0.4"/>
<line x1="394.8066666666667" y1="156.9" x2="394.8066666666667" y2="158.0" stroke="#000" stroke-width="0.4"/>
<line x1="396.6" y1="156.9" x2="396.6" y2="158.0" stroke="#000" stroke-width="0.4"/>
<line x1="342.8" y1="102.6" x2="342.8" y2="156.9" stroke="#000" stroke-width="0.9"/>
<line x1="342.40000000000003" y1="156.9" x2="396.6" y2="156.9" stroke="#000" stroke-width="0.9"/>
<line x1="360.5" y1="102.6" x2="360.5" y2="156.9" stroke="#000" stroke-width="0.8"/>
<line x1="342.8" y1="142" x2="396.6" y2="142" stroke="#000" stroke-width="0.8"/>
<line x1="374.9" y1="56" x2="374.9" y2="111" stroke="#000" stroke-width="0.85"/>
<path d="M373.2 109.89999999999999L374.9 113.3L376.59999999999997 109.89999999999999z" fill="#000"/>
<line x1="340.8" y1="111" x2="342.8" y2="111" stroke="#000" stroke-width="0.7"/>
<text x="338.8" y="112.2" font-size="3.2" font-family='"Liberation Sans", sans-serif' text-anchor="middle" fill="#222" stroke="#222" stroke-width="0.2" transform="rotate(-18 338.8 112.2)">10<tspan font-size="2.2399999999999998" dy="-1.2">5</tspan></text>
<line x1="340.8" y1="121.5" x2="342.8" y2="121.5" stroke="#000" stroke-width="0.7"/>
<text x="338.8" y="122.7" font-size="3.2" font-family='"Liberation Sans", sans-serif' text-anchor="middle" fill="#222" stroke="#222" stroke-width="0.2" transform="rotate(-18 338.8 122.7)">10<tspan font-size="2.2399999999999998" dy="-1.2">4</tspan></text>
<line x1="340.8" y1="132" x2="342.8" y2="132" stroke="#000" stroke-width="0.7"/>
<text x="338.8" y="133.2" font-size="3.2" font-family='"Liberation Sans", sans-serif' text-anchor="middle" fill="#222" stroke="#222" stroke-width="0.2" transform="rotate(-18 338.8 133.2)">10<tspan font-size="2.2399999999999998" dy="-1.2">3</tspan></text>
<line x1="340.8" y1="142.5" x2="342.8" y2="142.5" stroke="#000" stroke-width="0.7"/>
<text x="338.8" y="143.7" font-size="3.2" font-family='"Liberation Sans", sans-serif' text-anchor="middle" fill="#222" stroke="#222" stroke-width="0.2" transform="rotate(-18 338.8 143.7)">10<tspan font-size="2.2399999999999998" dy="-1.2">2</tspan></text>
<line x1="341.0" y1="151.5" x2="342.8" y2="151.5" stroke="#000" stroke-width="0.7"/>
<text x="340.5" y="151.5" font-size="2.9" font-family='"Liberation Sans", sans-serif' text-anchor="middle" fill="#222" stroke="#222" stroke-width="0.12" transform="rotate(-90 340.5 151.5)">0</text>
<line x1="365" y1="156.9" x2="365" y2="158.9" stroke="#000" stroke-width="0.7"/>
<text x="364.2" y="162.9" font-size="3.2" font-family='"Liberation Sans", sans-serif' text-anchor="middle" fill="#222" stroke="#222" stroke-width="0.2" transform="rotate(-18 364.2 162.9)">10<tspan font-size="2.2399999999999998" dy="-1.2">3</tspan></text>
<line x1="379.5" y1="156.9" x2="379.5" y2="158.9" stroke="#000" stroke-width="0.7"/>
<text x="378.7" y="162.9" font-size="3.2" font-family='"Liberation Sans", sans-serif' text-anchor="middle" fill="#222" stroke="#222" stroke-width="0.2" transform="rotate(-18 378.7 162.9)">10<tspan font-size="2.2399999999999998" dy="-1.2">4</tspan></text>
<line x1="393" y1="156.9" x2="393" y2="158.9" stroke="#000" stroke-width="0.7"/>
<text x="392.2" y="162.9" font-size="3.2" font-family='"Liberation Sans", sans-serif' text-anchor="middle" fill="#222" stroke="#222" stroke-width="0.2" transform="rotate(-18 392.2 162.9)">10<tspan font-size="2.2399999999999998" dy="-1.2">5</tspan></text>
<line x1="352" y1="156.9" x2="352" y2="158.70000000000002" stroke="#000" stroke-width="0.7"/>
<text x="352" y="163.20000000000002" font-size="2.9" font-family='"Liberation Sans", sans-serif' text-anchor="middle" fill="#222" stroke="#222" stroke-width="0.15">0</text>
<text x="341.5" y="164.8" font-size="2.4" font-family='"Liberation Sans", sans-serif' text-anchor="middle" fill="#222" stroke="#222" stroke-width="0.12">-1,000</text>
<text x="344.9" y="109.6" font-size="6.5" font-family='"Liberation Sans", sans-serif' font-weight="normal" text-anchor="start" fill="#111" stroke="#111" stroke-width="0.22">54</text>
<text x="387.3" y="109.6" font-size="6.5" font-family='"Liberation Sans", sans-serif' font-weight="normal" text-anchor="start" fill="#111" stroke="#111" stroke-width="0.22">44</text>
<text x="391.3" y="153.4" font-size="6.5" font-family='"Liberation Sans", sans-serif' font-weight="normal" text-anchor="start" fill="#111" stroke="#111" stroke-width="0.22">1</text>
<text x="332.2" y="127.8" font-size="6.1" font-family='"Liberation Sans", sans-serif' font-weight="normal" text-anchor="middle" fill="#111" stroke="#111" stroke-width="0.22" transform="rotate(-90 332.2 127.8)">CCR4</text>
<text x="370" y="172" font-size="6.2" font-family='"Liberation Sans", sans-serif' font-weight="normal" text-anchor="middle" fill="#111" stroke="#111" stroke-width="0.22">CLA</text>
<text x="441.5" y="12.4" font-size="6.35" font-family='"Liberation Sans", sans-serif' font-weight="normal" text-anchor="start" fill="#111" stroke="#111" stroke-width="0.22">Affected skin: Pt 151</text>
<text x="447.9" y="20.2" font-size="6.3" font-family='"Liberation Sans", sans-serif' font-weight="normal" text-anchor="start" fill="#111" stroke="#111" stroke-width="0.22">Stage IV L-CTCL</text>
<path d="M490.5 50.5h1v1h-1zM464.5 53.5h1v1h-1zM466.5 53.5h1v1h-1zM470.5 56.5h1v1h-1zM486.5 57.5h2v1h-2zM489.5 57.5h1v1h-1zM480.5 58.5h1v1h-1zM482.5 59.5h1v1h-1zM489.5 59.5h1v1h-1zM466.5 60.5h1v1h-1zM480.5 60.5h2v1h-2zM487.5 60.5h1v1h-1zM489.5 60.5h2v1h-2zM495.5 60.5h1v1h-1zM498.5 60.5h1v1h-1zM477.5 61.5h2v1h-2zM480.5 61.5h3v1h-3zM484.5 61.5h1v1h-1zM488.5 61.5h1v1h-1zM493.5 61.5h1v1h-1zM470.5 62.5h1v1h-1zM474.5 62.5h1v1h-1zM476.5 62.5h1v1h-1zM479.5 62.5h3v1h-3zM485.5 62.5h1v1h-1zM493.5 62.5h1v1h-1zM461.5 63.5h1v1h-1zM482.5 63.5h1v1h-1zM495.5 63.5h3v1h-3zM471.5 64.5h1v1h-1zM473.5 64.5h1v1h-1zM479.5 64.5h1v1h-1zM482.5 64.5h1v1h-1zM487.5 64.5h3v1h-3zM491.5 64.5h2v1h-2zM494.5 64.5h1v1h-1zM496.5 64.5h2v1h-2zM473.5 65.5h1v1h-1zM484.5 65.5h1v1h-1zM466.5 66.5h1v1h-1zM472.5 66.5h1v1h-1zM474.5 66.5h1v1h-1zM482.5 66.5h1v1h-1zM490.5 66.5h1v1h-1zM493.5 66.5h1v1h-1zM467.5 67.5h2v1h-2zM470.5 67.5h1v1h-1zM492.5 67.5h2v1h-2zM467.5 68.5h1v1h-1zM477.5 68.5h1v1h-1zM494.5 68.5h1v1h-1zM496.5 68.5h2v1h-2zM481.5 69.5h1v1h-1zM492.5 69.5h1v1h-1zM495.5 69.5h1v1h-1zM483.5 70.5h2v1h-2zM488.5 70.5h2v1h-2zM491.5 70.5h1v1h-1zM478.5 71.5h1v1h-1zM480.5 71.5h1v1h-1zM486.5 71.5h3v1h-3zM494.5 71.5h1v1h-1zM497.5 71.5h1v1h-1zM477.5 72.5h2v1h-2zM480.5 72.5h1v1h-1zM482.5 72.5h1v1h-1zM492.5 72.5h1v1h-1zM496.5 72.5h1v1h-1zM460.5 73.5h1v1h-1zM470.5 73.5h2v1h-2zM477.5 73.5h1v1h-1zM484.5 73.5h1v1h-1zM488.5 73.5h1v1h-1zM490.5 73.5h1v1h-1zM492.5 73.5h1v1h-1zM460.5 74.5h1v1h-1zM474.5 74.5h1v1h-1zM479.5 74.5h3v1h-3zM486.5 74.5h1v1h-1zM460.5 75.5h2v1h-2zM470.5 75.5h2v1h-2zM480.5 75.5h1v1h-1zM483.5 75.5h1v1h-1zM488.5 75.5h1v1h-1zM490.5 75.5h1v1h-1zM459.5 76.5h1v1h-1zM461.5 76.5h2v1h-2zM466.5 76.5h1v1h-1zM475.5 76.5h1v1h-1zM482.5 76.5h1v1h-1zM462.5 77.5h4v1h-4zM469.5 77.5h1v1h-1zM476.5 77.5h1v1h-1zM484.5 77.5h1v1h-1zM461.5 78.5h1v1h-1zM486.5 78.5h1v1h-1z" fill="rgb(170,170,170)"/>
<path d="M480.5 59.5h1v1h-1zM490.5 61.5h1v1h-1zM492.5 61.5h1v1h-1zM477.5 62.5h1v1h-1zM484.5 62.5h1v1h-1zM488.5 62.5h1v1h-1zM494.5 62.5h1v1h-1zM480.5 63.5h1v1h-1zM484.5 63.5h1v1h-1zM487.5 63.5h1v1h-1zM494.5 63.5h1v1h-1zM485.5 64.5h2v1h-2zM490.5 64.5h1v1h-1zM495.5 64.5h1v1h-1zM478.5 65.5h1v1h-1zM487.5 65.5h3v1h-3zM491.5 65.5h2v1h-2zM483.5 66.5h1v1h-1zM488.5 66.5h1v1h-1zM491.5 66.5h1v1h-1zM471.5 67.5h1v1h-1zM481.5 67.5h1v1h-1zM465.5 68.5h1v1h-1zM484.5 68.5h1v1h-1zM486.5 68.5h2v1h-2zM493.5 68.5h1v1h-1zM462.5 69.5h1v1h-1zM484.5 69.5h1v1h-1zM490.5 69.5h1v1h-1zM481.5 70.5h1v1h-1zM472.5 71.5h1v1h-1zM477.5 71.5h1v1h-1zM482.5 71.5h1v1h-1zM485.5 71.5h1v1h-1zM460.5 72.5h1v1h-1zM474.5 72.5h3v1h-3zM483.5 72.5h1v1h-1zM489.5 72.5h1v1h-1zM491.5 72.5h1v1h-1zM472.5 73.5h2v1h-2zM475.5 73.5h1v1h-1zM479.5 73.5h1v1h-1zM481.5 73.5h3v1h-3zM461.5 74.5h1v1h-1zM469.5 74.5h2v1h-2zM477.5 74.5h2v1h-2zM484.5 74.5h1v1h-1zM466.5 75.5h1v1h-1zM465.5 76.5h1v1h-1z" fill="rgb(85,85,85)"/>
<path d="M487.5 61.5h1v1h-1zM483.5 62.5h1v1h-1zM486.5 62.5h1v1h-1zM479.5 63.5h1v1h-1zM483.5 63.5h1v1h-1zM485.5 63.5h2v1h-2zM488.5 63.5h3v1h-3zM474.5 64.5h1v1h-1zM478.5 64.5h1v1h-1zM480.5 64.5h1v1h-1zM483.5 64.5h2v1h-2zM475.5 65.5h1v1h-1zM479.5 65.5h1v1h-1zM481.5 65.5h1v1h-1zM483.5 65.5h1v1h-1zM486.5 65.5h1v1h-1zM475.5 66.5h1v1h-1zM477.5 66.5h1v1h-1zM479.5 66.5h1v1h-1zM481.5 66.5h1v1h-1zM484.5 66.5h1v1h-1zM492.5 66.5h1v1h-1zM472.5 67.5h1v1h-1zM475.5 67.5h1v1h-1zM480.5 67.5h1v1h-1zM485.5 67.5h1v1h-1zM488.5 67.5h4v1h-4zM464.5 68.5h1v1h-1zM466.5 68.5h1v1h-1zM468.5 68.5h3v1h-3zM480.5 68.5h1v1h-1zM482.5 68.5h1v1h-1zM485.5 68.5h1v1h-1zM488.5 68.5h1v1h-1zM490.5 68.5h1v1h-1zM463.5 69.5h1v1h-1zM479.5 69.5h2v1h-2zM482.5 69.5h1v1h-1zM485.5 69.5h1v1h-1zM487.5 69.5h3v1h-3zM491.5 69.5h1v1h-1zM461.5 70.5h1v1h-1zM463.5 70.5h1v1h-1zM471.5 70.5h1v1h-1zM473.5 70.5h1v1h-1zM475.5 70.5h1v1h-1zM478.5 70.5h3v1h-3zM482.5 70.5h1v1h-1zM485.5 70.5h2v1h-2zM461.5 71.5h1v1h-1zM470.5 71.5h1v1h-1zM474.5 71.5h2v1h-2zM479.5 71.5h1v1h-1zM481.5 71.5h1v1h-1zM483.5 71.5h1v1h-1zM473.5 72.5h1v1h-1zM481.5 72.5h1v1h-1zM461.5 73.5h1v1h-1zM469.5 73.5h1v1h-1zM475.5 74.5h1v1h-1zM462.5 75.5h2v1h-2zM465.5 75.5h1v1h-1zM467.5 75.5h1v1h-1zM469.5 75.5h1v1h-1zM464.5 76.5h1v1h-1z" fill="rgb(42,42,42)"/>
<path d="M476.5 65.5h1v1h-1zM480.5 65.5h1v1h-1zM482.5 65.5h1v1h-1zM490.5 65.5h1v1h-1zM473.5 66.5h1v1h-1zM476.5 66.5h1v1h-1zM478.5 66.5h1v1h-1zM480.5 66.5h1v1h-1zM485.5 66.5h3v1h-3zM489.5 66.5h1v1h-1zM473.5 67.5h2v1h-2zM476.5 67.5h4v1h-4zM482.5 67.5h3v1h-3zM486.5 67.5h2v1h-2zM494.5 67.5h1v1h-1zM471.5 68.5h6v1h-6zM478.5 68.5h2v1h-2zM481.5 68.5h1v1h-1zM483.5 68.5h1v1h-1zM464.5 69.5h15v1h-15zM462.5 70.5h1v1h-1zM464.5 70.5h7v1h-7zM472.5 70.5h1v1h-1zM474.5 70.5h1v1h-1zM476.5 70.5h2v1h-2zM487.5 70.5h1v1h-1zM462.5 71.5h8v1h-8zM471.5 71.5h1v1h-1zM473.5 71.5h1v1h-1zM476.5 71.5h1v1h-1zM461.5 72.5h12v1h-12zM462.5 73.5h7v1h-7zM462.5 74.5h7v1h-7zM464.5 75.5h1v1h-1z" fill="rgb(0,0,0)"/>
<line x1="445.5" y1="27.5" x2="498.8" y2="27.5" stroke="#777" stroke-width="0.8"/>
<line x1="498.8" y1="27.5" x2="498.8" y2="79.2" stroke="#777" stroke-width="0.8"/>
<line x1="444.4" y1="79.2" x2="445.5" y2="79.2" stroke="#000" stroke-width="0.4"/>
<line x1="444.4" y1="77.47666666666667" x2="445.5" y2="77.47666666666667" stroke="#000" stroke-width="0.4"/>
<line x1="444.4" y1="75.75333333333333" x2="445.5" y2="75.75333333333333" stroke="#000" stroke-width="0.4"/>
<line x1="444.4" y1="74.03" x2="445.5" y2="74.03" stroke="#000" stroke-width="0.4"/>
<line x1="444.4" y1="72.30666666666667" x2="445.5" y2="72.30666666666667" stroke="#000" stroke-width="0.4"/>
<line x1="444.4" y1="70.58333333333334" x2="445.5" y2="70.58333333333334" stroke="#000" stroke-width="0.4"/>
<line x1="444.4" y1="68.86" x2="445.5" y2="68.86" stroke="#000" stroke-width="0.4"/>
<line x1="444.4" y1="67.13666666666667" x2="445.5" y2="67.13666666666667" stroke="#000" stroke-width="0.4"/>
<line x1="444.4" y1="65.41333333333334" x2="445.5" y2="65.41333333333334" stroke="#000" stroke-width="0.4"/>
<line x1="444.4" y1="63.690000000000005" x2="445.5" y2="63.690000000000005" stroke="#000" stroke-width="0.4"/>
<line x1="444.4" y1="61.96666666666667" x2="445.5" y2="61.96666666666667" stroke="#000" stroke-width="0.4"/>
<line x1="444.4" y1="60.24333333333334" x2="445.5" y2="60.24333333333334" stroke="#000" stroke-width="0.4"/>
<line x1="444.4" y1="58.519999999999996" x2="445.5" y2="58.519999999999996" stroke="#000" stroke-width="0.4"/>
<line x1="444.4" y1="56.79666666666667" x2="445.5" y2="56.79666666666667" stroke="#000" stroke-width="0.4"/>
<line x1="444.4" y1="55.07333333333334" x2="445.5" y2="55.07333333333334" stroke="#000" stroke-width="0.4"/>
<line x1="444.4" y1="53.35" x2="445.5" y2="53.35" stroke="#000" stroke-width="0.4"/>
<line x1="444.4" y1="51.626666666666665" x2="445.5" y2="51.626666666666665" stroke="#000" stroke-width="0.4"/>
<line x1="444.4" y1="49.903333333333336" x2="445.5" y2="49.903333333333336" stroke="#000" stroke-width="0.4"/>
<line x1="444.4" y1="48.18000000000001" x2="445.5" y2="48.18000000000001" stroke="#000" stroke-width="0.4"/>
<line x1="444.4" y1="46.45666666666667" x2="445.5" y2="46.45666666666667" stroke="#000" stroke-width="0.4"/>
<line x1="444.4" y1="44.733333333333334" x2="445.5" y2="44.733333333333334" stroke="#000" stroke-width="0.4"/>
<line x1="444.4" y1="43.01" x2="445.5" y2="43.01" stroke="#000" stroke-width="0.4"/>
<line x1="444.4" y1="41.28666666666667" x2="445.5" y2="41.28666666666667" stroke="#000" stroke-width="0.4"/>
<line x1="444.4" y1="39.56333333333333" x2="445.5" y2="39.56333333333333" stroke="#000" stroke-width="0.4"/>
<line x1="444.4" y1="37.839999999999996" x2="445.5" y2="37.839999999999996" stroke="#000" stroke-width="0.4"/>
<line x1="444.4" y1="36.11666666666667" x2="445.5" y2="36.11666666666667" stroke="#000" stroke-width="0.4"/>
<line x1="444.4" y1="34.39333333333334" x2="445.5" y2="34.39333333333334" stroke="#000" stroke-width="0.4"/>
<line x1="444.4" y1="32.67" x2="445.5" y2="32.67" stroke="#000" stroke-width="0.4"/>
<line x1="444.4" y1="30.946666666666665" x2="445.5" y2="30.946666666666665" stroke="#000" stroke-width="0.4"/>
<line x1="444.4" y1="29.22333333333333" x2="445.5" y2="29.22333333333333" stroke="#000" stroke-width="0.4"/>
<line x1="444.4" y1="27.5" x2="445.5" y2="27.5" stroke="#000" stroke-width="0.4"/>
<line x1="445.5" y1="79.2" x2="445.5" y2="80.3" stroke="#000" stroke-width="0.4"/>
<line x1="447.27666666666664" y1="79.2" x2="447.27666666666664" y2="80.3" stroke="#000" stroke-width="0.4"/>
<line x1="449.05333333333334" y1="79.2" x2="449.05333333333334" y2="80.3" stroke="#000" stroke-width="0.4"/>
<line x1="450.83" y1="79.2" x2="450.83" y2="80.3" stroke="#000" stroke-width="0.4"/>
<line x1="452.6066666666667" y1="79.2" x2="452.6066666666667" y2="80.3" stroke="#000" stroke-width="0.4"/>
<line x1="454.3833333333333" y1="79.2" x2="454.3833333333333" y2="80.3" stroke="#000" stroke-width="0.4"/>
<line x1="456.16" y1="79.2" x2="456.16" y2="80.3" stroke="#000" stroke-width="0.4"/>
<line x1="457.93666666666667" y1="79.2" x2="457.93666666666667" y2="80.3" stroke="#000" stroke-width="0.4"/>
<line x1="459.7133333333333" y1="79.2" x2="459.7133333333333" y2="80.3" stroke="#000" stroke-width="0.4"/>
<line x1="461.49" y1="79.2" x2="461.49" y2="80.3" stroke="#000" stroke-width="0.4"/>
<line x1="463.26666666666665" y1="79.2" x2="463.26666666666665" y2="80.3" stroke="#000" stroke-width="0.4"/>
<line x1="465.04333333333335" y1="79.2" x2="465.04333333333335" y2="80.3" stroke="#000" stroke-width="0.4"/>
<line x1="466.82" y1="79.2" x2="466.82" y2="80.3" stroke="#000" stroke-width="0.4"/>
<line x1="468.5966666666667" y1="79.2" x2="468.5966666666667" y2="80.3" stroke="#000" stroke-width="0.4"/>
<line x1="470.37333333333333" y1="79.2" x2="470.37333333333333" y2="80.3" stroke="#000" stroke-width="0.4"/>
<line x1="472.15000000000003" y1="79.2" x2="472.15000000000003" y2="80.3" stroke="#000" stroke-width="0.4"/>
<line x1="473.9266666666667" y1="79.2" x2="473.9266666666667" y2="80.3" stroke="#000" stroke-width="0.4"/>
<line x1="475.7033333333333" y1="79.2" x2="475.7033333333333" y2="80.3" stroke="#000" stroke-width="0.4"/>
<line x1="477.48" y1="79.2" x2="477.48" y2="80.3" stroke="#000" stroke-width="0.4"/>
<line x1="479.25666666666666" y1="79.2" x2="479.25666666666666" y2="80.3" stroke="#000" stroke-width="0.4"/>
<line x1="481.03333333333336" y1="79.2" x2="481.03333333333336" y2="80.3" stroke="#000" stroke-width="0.4"/>
<line x1="482.81" y1="79.2" x2="482.81" y2="80.3" stroke="#000" stroke-width="0.4"/>
<line x1="484.5866666666667" y1="79.2" x2="484.5866666666667" y2="80.3" stroke="#000" stroke-width="0.4"/>
<line x1="486.36333333333334" y1="79.2" x2="486.36333333333334" y2="80.3" stroke="#000" stroke-width="0.4"/>
<line x1="488.14" y1="79.2" x2="488.14" y2="80.3" stroke="#000" stroke-width="0.4"/>
<line x1="489.9166666666667" y1="79.2" x2="489.9166666666667" y2="80.3" stroke="#000" stroke-width="0.4"/>
<line x1="491.6933333333333" y1="79.2" x2="491.6933333333333" y2="80.3" stroke="#000" stroke-width="0.4"/>
<line x1="493.47" y1="79.2" x2="493.47" y2="80.3" stroke="#000" stroke-width="0.4"/>
<line x1="495.24666666666667" y1="79.2" x2="495.24666666666667" y2="80.3" stroke="#000" stroke-width="0.4"/>
<line x1="497.0233333333333" y1="79.2" x2="497.0233333333333" y2="80.3" stroke="#000" stroke-width="0.4"/>
<line x1="498.8" y1="79.2" x2="498.8" y2="80.3" stroke="#000" stroke-width="0.4"/>
<line x1="445.5" y1="27.5" x2="445.5" y2="79.2" stroke="#000" stroke-width="0.9"/>
<line x1="445.1" y1="79.2" x2="498.8" y2="79.2" stroke="#000" stroke-width="0.9"/>
<ellipse cx="484.8" cy="66.4" rx="12.4" ry="9.9" transform="rotate(-8 484.8 66.4)" fill="none" stroke="#000" stroke-width="0.75"/>
<line x1="443.7" y1="29.867938931297708" x2="445.5" y2="29.867938931297708" stroke="#000" stroke-width="0.7"/>
<text x="443.2" y="29.867938931297708" font-size="2.9" font-family='"Liberation Sans", sans-serif' text-anchor="middle" fill="#222" stroke="#222" stroke-width="0.12" transform="rotate(-90 443.2 29.867938931297708)">250</text>
<line x1="443.7" y1="39.73435114503817" x2="445.5" y2="39.73435114503817" stroke="#000" stroke-width="0.7"/>
<text x="443.2" y="39.73435114503817" font-size="2.9" font-family='"Liberation Sans", sans-serif' text-anchor="middle" fill="#222" stroke="#222" stroke-width="0.12" transform="rotate(-90 443.2 39.73435114503817)">200</text>
<line x1="443.7" y1="49.60076335877863" x2="445.5" y2="49.60076335877863" stroke="#000" stroke-width="0.7"/>
<text x="443.2" y="49.60076335877863" font-size="2.9" font-family='"Liberation Sans", sans-serif' text-anchor="middle" fill="#222" stroke="#222" stroke-width="0.12" transform="rotate(-90 443.2 49.60076335877863)">150</text>
<line x1="443.7" y1="59.46717557251908" x2="445.5" y2="59.46717557251908" stroke="#000" stroke-width="0.7"/>
<text x="443.2" y="59.46717557251908" font-size="2.9" font-family='"Liberation Sans", sans-serif' text-anchor="middle" fill="#222" stroke="#222" stroke-width="0.12" transform="rotate(-90 443.2 59.46717557251908)">100</text>
<line x1="443.7" y1="69.33358778625954" x2="445.5" y2="69.33358778625954" stroke="#000" stroke-width="0.7"/>
<text x="443.2" y="69.33358778625954" font-size="2.9" font-family='"Liberation Sans", sans-serif' text-anchor="middle" fill="#222" stroke="#222" stroke-width="0.12" transform="rotate(-90 443.2 69.33358778625954)">50</text>
<line x1="454.3770992366412" y1="79.2" x2="454.3770992366412" y2="81.0" stroke="#000" stroke-width="0.7"/>
<text x="454.3770992366412" y="85.5" font-size="2.9" font-family='"Liberation Sans", sans-serif' text-anchor="middle" fill="#222" stroke="#222" stroke-width="0.15">50</text>
<line x1="464.85419847328245" y1="79.2" x2="464.85419847328245" y2="81.0" stroke="#000" stroke-width="0.7"/>
<text x="464.85419847328245" y="85.5" font-size="2.9" font-family='"Liberation Sans", sans-serif' text-anchor="middle" fill="#222" stroke="#222" stroke-width="0.15">100</text>
<line x1="475.33129770992366" y1="79.2" x2="475.33129770992366" y2="81.0" stroke="#000" stroke-width="0.7"/>
<text x="475.33129770992366" y="85.5" font-size="2.9" font-family='"Liberation Sans", sans-serif' text-anchor="middle" fill="#222" stroke="#222" stroke-width="0.15">150</text>
<line x1="485.80839694656487" y1="79.2" x2="485.80839694656487" y2="81.0" stroke="#000" stroke-width="0.7"/>
<text x="485.80839694656487" y="85.5" font-size="2.9" font-family='"Liberation Sans", sans-serif' text-anchor="middle" fill="#222" stroke="#222" stroke-width="0.15">200</text>
<line x1="496.2854961832061" y1="79.2" x2="496.2854961832061" y2="81.0" stroke="#000" stroke-width="0.7"/>
<text x="496.2854961832061" y="85.5" font-size="2.9" font-family='"Liberation Sans", sans-serif' text-anchor="middle" fill="#222" stroke="#222" stroke-width="0.15">250</text>
<text x="441" y="31.5" font-size="2.7" font-family='"Liberation Sans", sans-serif' text-anchor="middle" fill="#222" stroke="#222" stroke-width="0.12" transform="rotate(-90 441 31.5)">(x 1,000)</text>
<text x="491.5" y="90.4" font-size="2.8" font-family='"Liberation Sans", sans-serif' text-anchor="middle" fill="#222" stroke="#222" stroke-width="0.12">(x 1,000)</text>
<text x="474.8" y="93.5" font-size="6.4" font-family='"Liberation Sans", sans-serif' font-weight="normal" text-anchor="middle" fill="#111" stroke="#111" stroke-width="0.22">FSC</text>
<text x="437" y="53" font-size="6.1" font-family='"Liberation Sans", sans-serif' font-weight="normal" text-anchor="middle" fill="#111" stroke="#111" stroke-width="0.22" transform="rotate(-90 437 53)">SSC</text>
<line x1="482.3" y1="76" x2="482.3" y2="124" stroke="#000" stroke-width="0.85"/>
<path d="M480.6 123.1L482.3 126.5L484.0 123.1z" fill="#000"/>
<path d="M459.9 111.8h1v1h-1zM467.9 127.8h1v1h-1zM472.9 133.8h1v1h-1zM477.9 134.8h2v1h-2zM471.9 135.8h1v1h-1zM473.9 135.8h1v1h-1zM477.9 135.8h1v1h-1zM481.9 135.8h1v1h-1zM470.9 136.8h1v1h-1zM474.9 136.8h3v1h-3zM482.9 136.8h1v1h-1zM484.9 136.8h1v1h-1zM468.9 137.8h1v1h-1zM470.9 137.8h1v1h-1zM474.9 137.8h1v1h-1zM480.9 137.8h1v1h-1zM482.9 137.8h1v1h-1zM484.9 138.8h1v1h-1zM454.9 139.8h2v1h-2zM462.9 139.8h1v1h-1zM469.9 139.8h1v1h-1zM482.9 139.8h1v1h-1zM486.9 139.8h1v1h-1zM446.9 140.8h1v1h-1zM454.9 140.8h1v1h-1zM457.9 140.8h1v1h-1zM465.9 140.8h1v1h-1zM470.9 140.8h1v1h-1zM472.9 140.8h1v1h-1zM447.9 141.8h1v1h-1zM450.9 141.8h2v1h-2zM460.9 141.8h1v1h-1zM469.9 141.8h1v1h-1zM447.9 142.8h4v1h-4zM455.9 142.8h1v1h-1zM457.9 142.8h1v1h-1zM460.9 142.8h2v1h-2zM468.9 142.8h3v1h-3zM487.9 142.8h1v1h-1zM446.9 143.8h2v1h-2zM456.9 143.8h1v1h-1zM463.9 143.8h1v1h-1zM467.9 143.8h2v1h-2zM484.9 143.8h1v1h-1zM489.9 143.8h1v1h-1zM456.9 144.8h1v1h-1zM464.9 144.8h1v1h-1zM466.9 144.8h2v1h-2zM472.9 144.8h1v1h-1zM446.9 145.8h3v1h-3zM452.9 145.8h1v1h-1zM455.9 145.8h1v1h-1zM473.9 145.8h1v1h-1zM481.9 145.8h3v1h-3zM446.9 146.8h1v1h-1zM450.9 146.8h3v1h-3zM455.9 146.8h1v1h-1zM459.9 146.8h1v1h-1zM462.9 146.8h2v1h-2zM472.9 146.8h1v1h-1zM475.9 146.8h1v1h-1zM479.9 146.8h1v1h-1zM464.9 147.8h1v1h-1zM471.9 147.8h2v1h-2zM457.9 148.8h2v1h-2zM470.9 148.8h1v1h-1zM477.9 148.8h1v1h-1zM480.9 148.8h1v1h-1zM483.9 148.8h1v1h-1zM476.9 150.8h1v1h-1z" fill="rgb(170,170,170)"/>
<path d="M475.9 134.8h1v1h-1zM481.9 134.8h1v1h-1zM477.9 136.8h4v1h-4zM472.9 137.8h1v1h-1zM471.9 138.8h3v1h-3zM482.9 138.8h2v1h-2zM470.9 139.8h1v1h-1zM473.9 139.8h1v1h-1zM483.9 139.8h1v1h-1zM483.9 140.8h1v1h-1zM455.9 141.8h1v1h-1zM483.9 141.8h1v1h-1zM471.9 142.8h1v1h-1zM484.9 142.8h1v1h-1zM453.9 143.8h1v1h-1zM458.9 143.8h1v1h-1zM464.9 143.8h1v1h-1zM470.9 143.8h1v1h-1zM482.9 143.8h1v1h-1zM461.9 144.8h1v1h-1zM468.9 144.8h1v1h-1zM471.9 144.8h1v1h-1zM482.9 144.8h1v1h-1zM471.9 145.8h1v1h-1zM474.9 146.8h1v1h-1zM480.9 146.8h1v1h-1zM482.9 146.8h1v1h-1zM476.9 147.8h1v1h-1z" fill="rgb(85,85,85)"/>
<path d="M473.9 137.8h1v1h-1zM481.9 137.8h1v1h-1zM472.9 139.8h1v1h-1zM484.9 140.8h1v1h-1zM451.9 142.8h1v1h-1zM472.9 142.8h1v1h-1zM483.9 142.8h1v1h-1zM451.9 143.8h2v1h-2zM471.9 143.8h2v1h-2zM483.9 143.8h1v1h-1zM446.9 144.8h1v1h-1zM472.9 145.8h1v1h-1zM475.9 145.8h1v1h-1zM480.9 145.8h1v1h-1zM476.9 146.8h1v1h-1zM478.9 146.8h1v1h-1zM475.9 147.8h1v1h-1z" fill="rgb(42,42,42)"/>
<path d="M475.9 137.8h5v1h-5zM474.9 138.8h8v1h-8zM474.9 139.8h8v1h-8zM473.9 140.8h10v1h-10zM472.9 141.8h11v1h-11zM473.9 142.8h10v1h-10zM473.9 143.8h9v1h-9zM473.9 144.8h9v1h-9zM474.9 145.8h1v1h-1zM476.9 145.8h4v1h-4zM477.9 146.8h1v1h-1z" fill="rgb(0,0,0)"/>
<line x1="443.9" y1="102.8" x2="498.4" y2="102.8" stroke="#777" stroke-width="0.8"/>
<line x1="498.4" y1="102.8" x2="498.4" y2="154.8" stroke="#777" stroke-width="0.8"/>
<line x1="442.79999999999995" y1="154.8" x2="443.9" y2="154.8" stroke="#000" stroke-width="0.4"/>
<line x1="442.79999999999995" y1="153.0666666666667" x2="443.9" y2="153.0666666666667" stroke="#000" stroke-width="0.4"/>
<line x1="442.79999999999995" y1="151.33333333333334" x2="443.9" y2="151.33333333333334" stroke="#000" stroke-width="0.4"/>
<line x1="442.79999999999995" y1="149.60000000000002" x2="443.9" y2="149.60000000000002" stroke="#000" stroke-width="0.4"/>
<line x1="442.79999999999995" y1="147.86666666666667" x2="443.9" y2="147.86666666666667" stroke="#000" stroke-width="0.4"/>
<line x1="442.79999999999995" y1="146.13333333333335" x2="443.9" y2="146.13333333333335" stroke="#000" stroke-width="0.4"/>
<line x1="442.79999999999995" y1="144.4" x2="443.9" y2="144.4" stroke="#000" stroke-width="0.4"/>
<line x1="442.79999999999995" y1="142.66666666666669" x2="443.9" y2="142.66666666666669" stroke="#000" stroke-width="0.4"/>
<line x1="442.79999999999995" y1="140.93333333333334" x2="443.9" y2="140.93333333333334" stroke="#000" stroke-width="0.4"/>
<line x1="442.79999999999995" y1="139.20000000000002" x2="443.9" y2="139.20000000000002" stroke="#000" stroke-width="0.4"/>
<line x1="442.79999999999995" y1="137.46666666666667" x2="443.9" y2="137.46666666666667" stroke="#000" stroke-width="0.4"/>
<line x1="442.79999999999995" y1="135.73333333333335" x2="443.9" y2="135.73333333333335" stroke="#000" stroke-width="0.4"/>
<line x1="442.79999999999995" y1="134.0" x2="443.9" y2="134.0" stroke="#000" stroke-width="0.4"/>
<line x1="442.79999999999995" y1="132.26666666666668" x2="443.9" y2="132.26666666666668" stroke="#000" stroke-width="0.4"/>
<line x1="442.79999999999995" y1="130.53333333333333" x2="443.9" y2="130.53333333333333" stroke="#000" stroke-width="0.4"/>
<line x1="442.79999999999995" y1="128.8" x2="443.9" y2="128.8" stroke="#000" stroke-width="0.4"/>
<line x1="442.79999999999995" y1="127.06666666666666" x2="443.9" y2="127.06666666666666" stroke="#000" stroke-width="0.4"/>
<line x1="442.79999999999995" y1="125.33333333333334" x2="443.9" y2="125.33333333333334" stroke="#000" stroke-width="0.4"/>
<line x1="442.79999999999995" y1="123.60000000000001" x2="443.9" y2="123.60000000000001" stroke="#000" stroke-width="0.4"/>
<line x1="442.79999999999995" y1="121.86666666666667" x2="443.9" y2="121.86666666666667" stroke="#000" stroke-width="0.4"/>
<line x1="442.79999999999995" y1="120.13333333333334" x2="443.9" y2="120.13333333333334" stroke="#000" stroke-width="0.4"/>
<line x1="442.79999999999995" y1="118.4" x2="443.9" y2="118.4" stroke="#000" stroke-width="0.4"/>
<line x1="442.79999999999995" y1="116.66666666666667" x2="443.9" y2="116.66666666666667" stroke="#000" stroke-width="0.4"/>
<line x1="442.79999999999995" y1="114.93333333333334" x2="443.9" y2="114.93333333333334" stroke="#000" stroke-width="0.4"/>
<line x1="442.79999999999995" y1="113.19999999999999" x2="443.9" y2="113.19999999999999" stroke="#000" stroke-width="0.4"/>
<line x1="442.79999999999995" y1="111.46666666666667" x2="443.9" y2="111.46666666666667" stroke="#000" stroke-width="0.4"/>
<line x1="442.79999999999995" y1="109.73333333333332" x2="443.9" y2="109.73333333333332" stroke="#000" stroke-width="0.4"/>
<line x1="442.79999999999995" y1="108.0" x2="443.9" y2="108.0" stroke="#000" stroke-width="0.4"/>
<line x1="442.79999999999995" y1="106.26666666666667" x2="443.9" y2="106.26666666666667" stroke="#000" stroke-width="0.4"/>
<line x1="442.79999999999995" y1="104.53333333333333" x2="443.9" y2="104.53333333333333" stroke="#000" stroke-width="0.4"/>
<line x1="442.79999999999995" y1="102.8" x2="443.9" y2="102.8" stroke="#000" stroke-width="0.4"/>
<line x1="443.9" y1="154.8" x2="443.9" y2="155.9" stroke="#000" stroke-width="0.4"/>
<line x1="445.71666666666664" y1="154.8" x2="445.71666666666664" y2="155.9" stroke="#000" stroke-width="0.4"/>
<line x1="447.5333333333333" y1="154.8" x2="447.5333333333333" y2="155.9" stroke="#000" stroke-width="0.4"/>
<line x1="449.34999999999997" y1="154.8" x2="449.34999999999997" y2="155.9" stroke="#000" stroke-width="0.4"/>
<line x1="451.16666666666663" y1="154.8" x2="451.16666666666663" y2="155.9" stroke="#000" stroke-width="0.4"/>
<line x1="452.9833333333333" y1="154.8" x2="452.9833333333333" y2="155.9" stroke="#000" stroke-width="0.4"/>
<line x1="454.79999999999995" y1="154.8" x2="454.79999999999995" y2="155.9" stroke="#000" stroke-width="0.4"/>
<line x1="456.6166666666666" y1="154.8" x2="456.6166666666666" y2="155.9" stroke="#000" stroke-width="0.4"/>
<line x1="458.43333333333334" y1="154.8" x2="458.43333333333334" y2="155.9" stroke="#000" stroke-width="0.4"/>
<line x1="460.25" y1="154.8" x2="460.25" y2="155.9" stroke="#000" stroke-width="0.4"/>
<line x1="462.06666666666666" y1="154.8" x2="462.06666666666666" y2="155.9" stroke="#000" stroke-width="0.4"/>
<line x1="463.8833333333333" y1="154.8" x2="463.8833333333333" y2="155.9" stroke="#000" stroke-width="0.4"/>
<line x1="465.7" y1="154.8" x2="465.7" y2="155.9" stroke="#000" stroke-width="0.4"/>
<line x1="467.51666666666665" y1="154.8" x2="467.51666666666665" y2="155.9" stroke="#000" stroke-width="0.4"/>
<line x1="469.3333333333333" y1="154.8" x2="469.3333333333333" y2="155.9" stroke="#000" stroke-width="0.4"/>
<line x1="471.15" y1="154.8" x2="471.15" y2="155.9" stroke="#000" stroke-width="0.4"/>
<line x1="472.96666666666664" y1="154.8" x2="472.96666666666664" y2="155.9" stroke="#000" stroke-width="0.4"/>
<line x1="474.7833333333333" y1="154.8" x2="474.7833333333333" y2="155.9" stroke="#000" stroke-width="0.4"/>
<line x1="476.59999999999997" y1="154.8" x2="476.59999999999997" y2="155.9" stroke="#000" stroke-width="0.4"/>
<line x1="478.41666666666663" y1="154.8" x2="478.41666666666663" y2="155.9" stroke="#000" stroke-width="0.4"/>
<line x1="480.2333333333333" y1="154.8" x2="480.2333333333333" y2="155.9" stroke="#000" stroke-width="0.4"/>
<line x1="482.04999999999995" y1="154.8" x2="482.04999999999995" y2="155.9" stroke="#000" stroke-width="0.4"/>
<line x1="483.8666666666667" y1="154.8" x2="483.8666666666667" y2="155.9" stroke="#000" stroke-width="0.4"/>
<line x1="485.6833333333333" y1="154.8" x2="485.6833333333333" y2="155.9" stroke="#000" stroke-width="0.4"/>
<line x1="487.5" y1="154.8" x2="487.5" y2="155.9" stroke="#000" stroke-width="0.4"/>
<line x1="489.31666666666666" y1="154.8" x2="489.31666666666666" y2="155.9" stroke="#000" stroke-width="0.4"/>
<line x1="491.1333333333333" y1="154.8" x2="491.1333333333333" y2="155.9" stroke="#000" stroke-width="0.4"/>
<line x1="492.95" y1="154.8" x2="492.95" y2="155.9" stroke="#000" stroke-width="0.4"/>
<line x1="494.76666666666665" y1="154.8" x2="494.76666666666665" y2="155.9" stroke="#000" stroke-width="0.4"/>
<line x1="496.5833333333333" y1="154.8" x2="496.5833333333333" y2="155.9" stroke="#000" stroke-width="0.4"/>
<line x1="498.4" y1="154.8" x2="498.4" y2="155.9" stroke="#000" stroke-width="0.4"/>
<line x1="443.9" y1="102.8" x2="443.9" y2="154.8" stroke="#000" stroke-width="0.9"/>
<line x1="443.5" y1="154.8" x2="498.4" y2="154.8" stroke="#000" stroke-width="0.9"/>
<line x1="458.8" y1="102.8" x2="458.8" y2="154.8" stroke="#000" stroke-width="0.8"/>
<line x1="442.09999999999997" y1="105.18167938931298" x2="443.9" y2="105.18167938931298" stroke="#000" stroke-width="0.7"/>
<text x="441.59999999999997" y="105.18167938931298" font-size="2.9" font-family='"Liberation Sans", sans-serif' text-anchor="middle" fill="#222" stroke="#222" stroke-width="0.12" transform="rotate(-90 441.59999999999997 105.18167938931298)">250</text>
<line x1="442.09999999999997" y1="115.10534351145037" x2="443.9" y2="115.10534351145037" stroke="#000" stroke-width="0.7"/>
<text x="441.59999999999997" y="115.10534351145037" font-size="2.9" font-family='"Liberation Sans", sans-serif' text-anchor="middle" fill="#222" stroke="#222" stroke-width="0.12" transform="rotate(-90 441.59999999999997 115.10534351145037)">200</text>
<line x1="442.09999999999997" y1="125.0290076335878" x2="443.9" y2="125.0290076335878" stroke="#000" stroke-width="0.7"/>
<text x="441.59999999999997" y="125.0290076335878" font-size="2.9" font-family='"Liberation Sans", sans-serif' text-anchor="middle" fill="#222" stroke="#222" stroke-width="0.12" transform="rotate(-90 441.59999999999997 125.0290076335878)">150</text>
<line x1="442.09999999999997" y1="134.9526717557252" x2="443.9" y2="134.9526717557252" stroke="#000" stroke-width="0.7"/>
<text x="441.59999999999997" y="134.9526717557252" font-size="2.9" font-family='"Liberation Sans", sans-serif' text-anchor="middle" fill="#222" stroke="#222" stroke-width="0.12" transform="rotate(-90 441.59999999999997 134.9526717557252)">100</text>
<line x1="442.09999999999997" y1="144.8763358778626" x2="443.9" y2="144.8763358778626" stroke="#000" stroke-width="0.7"/>
<text x="441.59999999999997" y="144.8763358778626" font-size="2.9" font-family='"Liberation Sans", sans-serif' text-anchor="middle" fill="#222" stroke="#222" stroke-width="0.12" transform="rotate(-90 441.59999999999997 144.8763358778626)">50</text>
<text x="440.5" y="107.5" font-size="2.7" font-family='"Liberation Sans", sans-serif' text-anchor="middle" fill="#222" stroke="#222" stroke-width="0.12" transform="rotate(-90 440.5 107.5)">(x 1,000)</text>
<line x1="452" y1="154.8" x2="452" y2="156.8" stroke="#000" stroke-width="0.7"/>
<text x="451.2" y="160.8" font-size="3.2" font-family='"Liberation Sans", sans-serif' text-anchor="middle" fill="#222" stroke="#222" stroke-width="0.2" transform="rotate(-18 451.2 160.8)">10<tspan font-size="2.2399999999999998" dy="-1.2">2</tspan></text>
<line x1="465" y1="154.8" x2="465" y2="156.8" stroke="#000" stroke-width="0.7"/>
<text x="464.2" y="160.8" font-size="3.2" font-family='"Liberation Sans", sans-serif' text-anchor="middle" fill="#222" stroke="#222" stroke-width="0.2" transform="rotate(-18 464.2 160.8)">10<tspan font-size="2.2399999999999998" dy="-1.2">3</tspan></text>
<line x1="478.5" y1="154.8" x2="478.5" y2="156.8" stroke="#000" stroke-width="0.7"/>
<text x="477.7" y="160.8" font-size="3.2" font-family='"Liberation Sans", sans-serif' text-anchor="middle" fill="#222" stroke="#222" stroke-width="0.2" transform="rotate(-18 477.7 160.8)">10<tspan font-size="2.2399999999999998" dy="-1.2">4</tspan></text>
<line x1="492" y1="154.8" x2="492" y2="156.8" stroke="#000" stroke-width="0.7"/>
<text x="491.2" y="160.8" font-size="3.2" font-family='"Liberation Sans", sans-serif' text-anchor="middle" fill="#222" stroke="#222" stroke-width="0.2" transform="rotate(-18 491.2 160.8)">10<tspan font-size="2.2399999999999998" dy="-1.2">5</tspan></text>
<text x="446.1" y="111" font-size="6.4" font-family='"Liberation Sans", sans-serif' font-weight="normal" text-anchor="start" fill="#111" stroke="#111" stroke-width="0.22">0.5</text>
<text x="484" y="111" font-size="6.4" font-family='"Liberation Sans", sans-serif' font-weight="normal" text-anchor="start" fill="#111" stroke="#111" stroke-width="0.22">99.5</text>
<text x="437.2" y="128.3" font-size="6.2" font-family='"Liberation Sans", sans-serif' font-weight="normal" text-anchor="middle" fill="#111" stroke="#111" stroke-width="0.22" transform="rotate(-90 437.2 128.3)">SSC</text>
<text x="473.8" y="170.5" font-size="6.3" font-family='"Liberation Sans", sans-serif' font-weight="normal" text-anchor="middle" fill="#111" stroke="#111" stroke-width="0.22">TCR Vβ 11</text>
<text x="21.9" y="196.1" font-size="6.22" font-family='"Liberation Sans", sans-serif' font-weight="normal" text-anchor="start" fill="#111" stroke="#111" stroke-width="0.22">Skin lesion: Pt 036 Stage IIB MF</text>
<line x1="19.2" y1="201.4" x2="116" y2="201.4" stroke="#666" stroke-width="0.8"/>
<line x1="116" y1="201.4" x2="116" y2="260.3" stroke="#666" stroke-width="0.8"/>
<line x1="17.7" y1="260.3" x2="19.2" y2="260.3" stroke="#000" stroke-width="0.6"/>
<text x="17.7" y="261.90000000000003" font-size="4.8" font-family='"Liberation Sans", sans-serif' text-anchor="end" fill="#222" stroke="#222" stroke-width="0.15" letter-spacing="-0.1">0</text>
<line x1="17.7" y1="250.48333333333335" x2="19.2" y2="250.48333333333335" stroke="#000" stroke-width="0.6"/>
<text x="17.7" y="252.08333333333334" font-size="4.8" font-family='"Liberation Sans", sans-serif' text-anchor="end" fill="#222" stroke="#222" stroke-width="0.15" letter-spacing="-0.1">10</text>
<line x1="17.7" y1="240.66666666666669" x2="19.2" y2="240.66666666666669" stroke="#000" stroke-width="0.6"/>
<text x="17.7" y="242.26666666666668" font-size="4.8" font-family='"Liberation Sans", sans-serif' text-anchor="end" fill="#222" stroke="#222" stroke-width="0.15" letter-spacing="-0.1">20</text>
<line x1="17.7" y1="230.85000000000002" x2="19.2" y2="230.85000000000002" stroke="#000" stroke-width="0.6"/>
<text x="17.7" y="232.45000000000002" font-size="4.8" font-family='"Liberation Sans", sans-serif' text-anchor="end" fill="#222" stroke="#222" stroke-width="0.15" letter-spacing="-0.1">30</text>
<line x1="17.7" y1="221.03333333333333" x2="19.2" y2="221.03333333333333" stroke="#000" stroke-width="0.6"/>
<text x="17.7" y="222.63333333333333" font-size="4.8" font-family='"Liberation Sans", sans-serif' text-anchor="end" fill="#222" stroke="#222" stroke-width="0.15" letter-spacing="-0.1">40</text>
<line x1="17.7" y1="211.21666666666667" x2="19.2" y2="211.21666666666667" stroke="#000" stroke-width="0.6"/>
<text x="17.7" y="212.81666666666666" font-size="4.8" font-family='"Liberation Sans", sans-serif' text-anchor="end" fill="#222" stroke="#222" stroke-width="0.15" letter-spacing="-0.1">50</text>
<line x1="17.7" y1="201.4" x2="19.2" y2="201.4" stroke="#000" stroke-width="0.6"/>
<text x="17.7" y="203.0" font-size="4.8" font-family='"Liberation Sans", sans-serif' text-anchor="end" fill="#222" stroke="#222" stroke-width="0.15" letter-spacing="-0.1">60</text>
<rect x="19.7" y="259.80916666666667" width="3" height="0.4908333333333334" fill="#5a5a5a" stroke="#222" stroke-width="0.4"/>
<rect x="29.2" y="210.62766666666667" width="3" height="49.672333333333334" fill="#5a5a5a" stroke="#222" stroke-width="0.4"/>
<rect x="43.4" y="259.5146666666667" width="3" height="0.7853333333333334" fill="#5a5a5a" stroke="#222" stroke-width="0.4"/>
<rect x="47.6" y="259.5146666666667" width="3" height="0.7853333333333334" fill="#5a5a5a" stroke="#222" stroke-width="0.4"/>
<rect x="52.1" y="253.62466666666668" width="3" height="6.675333333333334" fill="#5a5a5a" stroke="#222" stroke-width="0.4"/>
<rect x="56.9" y="257.7476666666667" width="3" height="2.552333333333334" fill="#5a5a5a" stroke="#222" stroke-width="0.4"/>
<rect x="61.2" y="259.3183333333333" width="3" height="0.9816666666666668" fill="#5a5a5a" stroke="#222" stroke-width="0.4"/>
<rect x="65.1" y="256.37333333333333" width="3" height="3.926666666666667" fill="#5a5a5a" stroke="#222" stroke-width="0.4"/>
<rect x="68.2" y="258.3366666666667" width="3" height="1.9633333333333336" fill="#5a5a5a" stroke="#222" stroke-width="0.4"/>
<rect x="71.6" y="258.3366666666667" width="3" height="1.9633333333333336" fill="#5a5a5a" stroke="#222" stroke-width="0.4"/>
<rect x="75.2" y="258.3366666666667" width="3" height="1.9633333333333336" fill="#5a5a5a" stroke="#222" stroke-width="0.4"/>
<rect x="83.9" y="259.3183333333333" width="3" height="0.9816666666666668" fill="#5a5a5a" stroke="#222" stroke-width="0.4"/>
<rect x="87.9" y="258.9256666666667" width="3" height="1.3743333333333334" fill="#5a5a5a" stroke="#222" stroke-width="0.4"/>
<rect x="92.5" y="259.3183333333333" width="3" height="0.9816666666666668" fill="#5a5a5a" stroke="#222" stroke-width="0.4"/>
<rect x="96.6" y="258.9256666666667" width="3" height="1.3743333333333334" fill="#5a5a5a" stroke="#222" stroke-width="0.4"/>
<rect x="101.2" y="259.3183333333333" width="3" height="0.9816666666666668" fill="#5a5a5a" stroke="#222" stroke-width="0.4"/>
<rect x="105.3" y="259.80916666666667" width="3" height="0.4908333333333334" fill="#5a5a5a" stroke="#222" stroke-width="0.4"/>
<rect x="111.6" y="256.37333333333333" width="3" height="3.926666666666667" fill="#5a5a5a" stroke="#222" stroke-width="0.4"/>
<line x1="19.2" y1="201.4" x2="19.2" y2="260.3" stroke="#111" stroke-width="0.8"/>
<line x1="19.2" y1="260.3" x2="116" y2="260.3" stroke="#111" stroke-width="0.8"/>
<line x1="21.0" y1="260.3" x2="21.0" y2="261.5" stroke="#000" stroke-width="0.4"/>
<text x="19.2" y="264.3" font-size="3.8" font-family='"Liberation Sans", sans-serif' text-anchor="start" fill="#333" stroke="#333" stroke-width="0.2" transform="rotate(50 19.2 264.3)">1</text>
<line x1="25.2" y1="260.3" x2="25.2" y2="261.5" stroke="#000" stroke-width="0.4"/>
<text x="23.4" y="264.3" font-size="3.8" font-family='"Liberation Sans", sans-serif' text-anchor="start" fill="#333" stroke="#333" stroke-width="0.2" transform="rotate(50 23.4 264.3)">2</text>
<line x1="29.4" y1="260.3" x2="29.4" y2="261.5" stroke="#000" stroke-width="0.4"/>
<text x="27.599999999999998" y="264.3" font-size="3.8" font-family='"Liberation Sans", sans-serif' text-anchor="start" fill="#333" stroke="#333" stroke-width="0.2" transform="rotate(50 27.599999999999998 264.3)">3</text>
<line x1="33.6" y1="260.3" x2="33.6" y2="261.5" stroke="#000" stroke-width="0.4"/>
<text x="31.8" y="264.3" font-size="3.8" font-family='"Liberation Sans", sans-serif' text-anchor="start" fill="#333" stroke="#333" stroke-width="0.2" transform="rotate(50 31.8 264.3)">4</text>
<line x1="37.8" y1="260.3" x2="37.8" y2="261.5" stroke="#000" stroke-width="0.4"/>
<text x="36.0" y="264.3" font-size="3.8" font-family='"Liberation Sans", sans-serif' text-anchor="start" fill="#333" stroke="#333" stroke-width="0.2" transform="rotate(50 36.0 264.3)">5.1</text>
<line x1="42.0" y1="260.3" x2="42.0" y2="261.5" stroke="#000" stroke-width="0.4"/>
<text x="40.2" y="264.3" font-size="3.8" font-family='"Liberation Sans", sans-serif' text-anchor="start" fill="#333" stroke="#333" stroke-width="0.2" transform="rotate(50 40.2 264.3)">5.2</text>
<line x1="46.2" y1="260.3" x2="46.2" y2="261.5" stroke="#000" stroke-width="0.4"/>
<text x="44.400000000000006" y="264.3" font-size="3.8" font-family='"Liberation Sans", sans-serif' text-anchor="start" fill="#333" stroke="#333" stroke-width="0.2" transform="rotate(50 44.400000000000006 264.3)">5.3</text>
<line x1="50.400000000000006" y1="260.3" x2="50.400000000000006" y2="261.5" stroke="#000" stroke-width="0.4"/>
<text x="48.60000000000001" y="264.3" font-size="3.8" font-family='"Liberation Sans", sans-serif' text-anchor="start" fill="#333" stroke="#333" stroke-width="0.2" transform="rotate(50 48.60000000000001 264.3)">6.1</text>
<line x1="54.6" y1="260.3" x2="54.6" y2="261.5" stroke="#000" stroke-width="0.4"/>
<text x="52.800000000000004" y="264.3" font-size="3.8" font-family='"Liberation Sans", sans-serif' text-anchor="start" fill="#333" stroke="#333" stroke-width="0.2" transform="rotate(50 52.800000000000004 264.3)">7</text>
<line x1="58.800000000000004" y1="260.3" x2="58.800000000000004" y2="261.5" stroke="#000" stroke-width="0.4"/>
<text x="57.00000000000001" y="264.3" font-size="3.8" font-family='"Liberation Sans", sans-serif' text-anchor="start" fill="#333" stroke="#333" stroke-width="0.2" transform="rotate(50 57.00000000000001 264.3)">8</text>
<line x1="63.0" y1="260.3" x2="63.0" y2="261.5" stroke="#000" stroke-width="0.4"/>
<text x="61.2" y="264.3" font-size="3.8" font-family='"Liberation Sans", sans-serif' text-anchor="start" fill="#333" stroke="#333" stroke-width="0.2" transform="rotate(50 61.2 264.3)">9</text>
<line x1="67.2" y1="260.3" x2="67.2" y2="261.5" stroke="#000" stroke-width="0.4"/>
<text x="65.4" y="264.3" font-size="3.8" font-family='"Liberation Sans", sans-serif' text-anchor="start" fill="#333" stroke="#333" stroke-width="0.2" transform="rotate(50 65.4 264.3)">11</text>
<line x1="71.4" y1="260.3" x2="71.4" y2="261.5" stroke="#000" stroke-width="0.4"/>
<text x="69.60000000000001" y="264.3" font-size="3.8" font-family='"Liberation Sans", sans-serif' text-anchor="start" fill="#333" stroke="#333" stroke-width="0.2" transform="rotate(50 69.60000000000001 264.3)">12</text>
<line x1="75.6" y1="260.3" x2="75.6" y2="261.5" stroke="#000" stroke-width="0.4"/>
<text x="73.8" y="264.3" font-size="3.8" font-family='"Liberation Sans", sans-serif' text-anchor="start" fill="#333" stroke="#333" stroke-width="0.2" transform="rotate(50 73.8 264.3)">13.1</text>
<line x1="79.80000000000001" y1="260.3" x2="79.80000000000001" y2="261.5" stroke="#000" stroke-width="0.4"/>
<text x="78.00000000000001" y="264.3" font-size="3.8" font-family='"Liberation Sans", sans-serif' text-anchor="start" fill="#333" stroke="#333" stroke-width="0.2" transform="rotate(50 78.00000000000001 264.3)">13.2</text>
<line x1="84.0" y1="260.3" x2="84.0" y2="261.5" stroke="#000" stroke-width="0.4"/>
<text x="82.2" y="264.3" font-size="3.8" font-family='"Liberation Sans", sans-serif' text-anchor="start" fill="#333" stroke="#333" stroke-width="0.2" transform="rotate(50 82.2 264.3)">13.6</text>
<line x1="88.2" y1="260.3" x2="88.2" y2="261.5" stroke="#000" stroke-width="0.4"/>
<text x="86.4" y="264.3" font-size="3.8" font-family='"Liberation Sans", sans-serif' text-anchor="start" fill="#333" stroke="#333" stroke-width="0.2" transform="rotate(50 86.4 264.3)">14</text>
<line x1="92.4" y1="260.3" x2="92.4" y2="261.5" stroke="#000" stroke-width="0.4"/>
<text x="90.60000000000001" y="264.3" font-size="3.8" font-family='"Liberation Sans", sans-serif' text-anchor="start" fill="#333" stroke="#333" stroke-width="0.2" transform="rotate(50 90.60000000000001 264.3)">16</text>
<line x1="96.60000000000001" y1="260.3" x2="96.60000000000001" y2="261.5" stroke="#000" stroke-width="0.4"/>
<text x="94.80000000000001" y="264.3" font-size="3.8" font-family='"Liberation Sans", sans-serif' text-anchor="start" fill="#333" stroke="#333" stroke-width="0.2" transform="rotate(50 94.80000000000001 264.3)">17</text>
<line x1="100.8" y1="260.3" x2="100.8" y2="261.5" stroke="#000" stroke-width="0.4"/>
<text x="99.0" y="264.3" font-size="3.8" font-family='"Liberation Sans", sans-serif' text-anchor="start" fill="#333" stroke="#333" stroke-width="0.2" transform="rotate(50 99.0 264.3)">18</text>
<line x1="105.0" y1="260.3" x2="105.0" y2="261.5" stroke="#000" stroke-width="0.4"/>
<text x="103.2" y="264.3" font-size="3.8" font-family='"Liberation Sans", sans-serif' text-anchor="start" fill="#333" stroke="#333" stroke-width="0.2" transform="rotate(50 103.2 264.3)">20</text>
<line x1="109.2" y1="260.3" x2="109.2" y2="261.5" stroke="#000" stroke-width="0.4"/>
<text x="107.4" y="264.3" font-size="3.8" font-family='"Liberation Sans", sans-serif' text-anchor="start" fill="#333" stroke="#333" stroke-width="0.2" transform="rotate(50 107.4 264.3)">21</text>
<line x1="113.4" y1="260.3" x2="113.4" y2="261.5" stroke="#000" stroke-width="0.4"/>
<text x="111.60000000000001" y="264.3" font-size="3.8" font-family='"Liberation Sans", sans-serif' text-anchor="start" fill="#333" stroke="#333" stroke-width="0.2" transform="rotate(50 111.60000000000001 264.3)">22</text>
<line x1="117.60000000000001" y1="260.3" x2="117.60000000000001" y2="261.5" stroke="#000" stroke-width="0.4"/>
<text x="115.80000000000001" y="264.3" font-size="3.8" font-family='"Liberation Sans", sans-serif' text-anchor="start" fill="#333" stroke="#333" stroke-width="0.2" transform="rotate(50 115.80000000000001 264.3)">23</text>
<text x="7.6" y="231.3" font-size="6.2" font-family='"Liberation Sans", sans-serif' font-weight="normal" text-anchor="middle" fill="#111" stroke="#111" stroke-width="0.22" transform="rotate(-90 7.6 231.3)">% T cells</text>
<text x="70.5" y="277.6" font-size="6.35" font-family='"Liberation Sans", sans-serif' font-weight="normal" text-anchor="middle" fill="#111" stroke="#111" stroke-width="0.22">TCR Vβ subfamily</text>
<path d="M152.6 234.0h1v1h-1zM150.6 235.0h1v1h-1zM154.6 235.0h1v1h-1zM158.6 235.0h1v1h-1zM151.6 236.0h2v1h-2zM159.6 236.0h1v1h-1zM145.6 237.0h1v1h-1zM152.6 237.0h1v1h-1zM155.6 237.0h1v1h-1zM146.6 238.0h2v1h-2zM151.6 238.0h1v1h-1zM153.6 238.0h2v1h-2zM161.6 238.0h1v1h-1zM148.6 239.0h2v1h-2zM152.6 239.0h2v1h-2zM155.6 239.0h1v1h-1zM149.6 240.0h1v1h-1zM151.6 240.0h1v1h-1zM155.6 240.0h1v1h-1zM146.6 241.0h1v1h-1zM148.6 241.0h1v1h-1zM146.6 242.0h1v1h-1zM148.6 242.0h1v1h-1zM152.6 242.0h1v1h-1zM154.6 242.0h3v1h-3zM149.6 243.0h1v1h-1zM151.6 243.0h1v1h-1zM153.6 243.0h2v1h-2zM156.6 243.0h1v1h-1zM146.6 244.0h1v1h-1zM153.6 244.0h3v1h-3zM143.6 246.0h1v1h-1zM146.6 246.0h1v1h-1zM148.6 246.0h1v1h-1zM153.6 246.0h1v1h-1zM143.6 247.0h1v1h-1zM146.6 247.0h1v1h-1zM152.6 247.0h1v1h-1zM145.6 248.0h1v1h-1zM151.6 248.0h1v1h-1zM139.6 249.0h1v1h-1zM146.6 249.0h1v1h-1zM148.6 249.0h2v1h-2zM152.6 249.0h1v1h-1zM144.6 250.0h1v1h-1zM146.6 250.0h3v1h-3zM150.6 250.0h1v1h-1zM145.6 251.0h2v1h-2zM141.6 252.0h3v1h-3zM145.6 252.0h1v1h-1zM147.6 252.0h1v1h-1zM145.6 253.0h1v1h-1zM142.6 254.0h1v1h-1zM145.6 254.0h1v1h-1zM150.6 254.0h1v1h-1zM143.6 255.0h1v1h-1z" fill="rgb(170,170,170)"/>
<path d="M151.6 237.0h1v1h-1zM151.6 239.0h1v1h-1zM148.6 240.0h1v1h-1zM150.6 240.0h1v1h-1zM152.6 240.0h1v1h-1zM149.6 241.0h1v1h-1zM153.6 241.0h1v1h-1zM147.6 242.0h1v1h-1zM151.6 242.0h1v1h-1zM153.6 242.0h1v1h-1zM146.6 243.0h2v1h-2zM150.6 243.0h1v1h-1zM151.6 244.0h1v1h-1zM152.6 245.0h1v1h-1zM147.6 247.0h1v1h-1zM151.6 247.0h1v1h-1zM147.6 248.0h3v1h-3zM147.6 249.0h1v1h-1zM148.6 251.0h1v1h-1zM144.6 252.0h1v1h-1zM150.6 252.0h1v1h-1zM141.6 253.0h1v1h-1zM144.6 253.0h1v1h-1zM144.6 255.0h1v1h-1zM142.6 256.0h1v1h-1z" fill="rgb(128,128,128)"/>
<path d="M154.6 239.0h1v1h-1zM154.6 240.0h1v1h-1zM150.6 241.0h3v1h-3zM148.6 243.0h1v1h-1zM150.6 244.0h1v1h-1zM152.6 244.0h1v1h-1zM147.6 245.0h1v1h-1zM151.6 245.0h1v1h-1zM147.6 246.0h1v1h-1zM151.6 246.0h1v1h-1zM150.6 247.0h1v1h-1zM145.6 250.0h1v1h-1zM141.6 254.0h1v1h-1z" fill="rgb(85,85,85)"/>
<path d="M150.6 242.0h1v1h-1zM152.6 243.0h1v1h-1zM148.6 244.0h2v1h-2zM149.6 245.0h1v1h-1zM149.6 246.0h2v1h-2zM149.6 247.0h1v1h-1zM142.6 253.0h2v1h-2zM143.6 254.0h2v1h-2zM142.6 255.0h1v1h-1z" fill="rgb(42,42,42)"/>
<path d="M148.6 245.0h1v1h-1zM150.6 245.0h1v1h-1zM148.6 247.0h1v1h-1z" fill="rgb(0,0,0)"/>
<line x1="134.6" y1="207" x2="185.2" y2="207" stroke="#777" stroke-width="0.8"/>
<line x1="185.2" y1="207" x2="185.2" y2="256.8" stroke="#777" stroke-width="0.8"/>
<line x1="133.5" y1="256.8" x2="134.6" y2="256.8" stroke="#000" stroke-width="0.4"/>
<line x1="133.5" y1="255.14000000000001" x2="134.6" y2="255.14000000000001" stroke="#000" stroke-width="0.4"/>
<line x1="133.5" y1="253.48000000000002" x2="134.6" y2="253.48000000000002" stroke="#000" stroke-width="0.4"/>
<line x1="133.5" y1="251.82000000000002" x2="134.6" y2="251.82000000000002" stroke="#000" stroke-width="0.4"/>
<line x1="133.5" y1="250.16" x2="134.6" y2="250.16" stroke="#000" stroke-width="0.4"/>
<line x1="133.5" y1="248.5" x2="134.6" y2="248.5" stroke="#000" stroke-width="0.4"/>
<line x1="133.5" y1="246.84" x2="134.6" y2="246.84" stroke="#000" stroke-width="0.4"/>
<line x1="133.5" y1="245.18" x2="134.6" y2="245.18" stroke="#000" stroke-width="0.4"/>
<line x1="133.5" y1="243.52" x2="134.6" y2="243.52" stroke="#000" stroke-width="0.4"/>
<line x1="133.5" y1="241.86" x2="134.6" y2="241.86" stroke="#000" stroke-width="0.4"/>
<line x1="133.5" y1="240.20000000000002" x2="134.6" y2="240.20000000000002" stroke="#000" stroke-width="0.4"/>
<line x1="133.5" y1="238.54000000000002" x2="134.6" y2="238.54000000000002" stroke="#000" stroke-width="0.4"/>
<line x1="133.5" y1="236.88" x2="134.6" y2="236.88" stroke="#000" stroke-width="0.4"/>
<line x1="133.5" y1="235.22" x2="134.6" y2="235.22" stroke="#000" stroke-width="0.4"/>
<line x1="133.5" y1="233.56" x2="134.6" y2="233.56" stroke="#000" stroke-width="0.4"/>
<line x1="133.5" y1="231.9" x2="134.6" y2="231.9" stroke="#000" stroke-width="0.4"/>
<line x1="133.5" y1="230.24" x2="134.6" y2="230.24" stroke="#000" stroke-width="0.4"/>
<line x1="133.5" y1="228.58" x2="134.6" y2="228.58" stroke="#000" stroke-width="0.4"/>
<line x1="133.5" y1="226.92000000000002" x2="134.6" y2="226.92000000000002" stroke="#000" stroke-width="0.4"/>
<line x1="133.5" y1="225.26" x2="134.6" y2="225.26" stroke="#000" stroke-width="0.4"/>
<line x1="133.5" y1="223.6" x2="134.6" y2="223.6" stroke="#000" stroke-width="0.4"/>
<line x1="133.5" y1="221.94" x2="134.6" y2="221.94" stroke="#000" stroke-width="0.4"/>
<line x1="133.5" y1="220.28" x2="134.6" y2="220.28" stroke="#000" stroke-width="0.4"/>
<line x1="133.5" y1="218.62" x2="134.6" y2="218.62" stroke="#000" stroke-width="0.4"/>
<line x1="133.5" y1="216.96" x2="134.6" y2="216.96" stroke="#000" stroke-width="0.4"/>
<line x1="133.5" y1="215.3" x2="134.6" y2="215.3" stroke="#000" stroke-width="0.4"/>
<line x1="133.5" y1="213.64000000000001" x2="134.6" y2="213.64000000000001" stroke="#000" stroke-width="0.4"/>
<line x1="133.5" y1="211.98" x2="134.6" y2="211.98" stroke="#000" stroke-width="0.4"/>
<line x1="133.5" y1="210.32" x2="134.6" y2="210.32" stroke="#000" stroke-width="0.4"/>
<line x1="133.5" y1="208.66" x2="134.6" y2="208.66" stroke="#000" stroke-width="0.4"/>
<line x1="133.5" y1="207.0" x2="134.6" y2="207.0" stroke="#000" stroke-width="0.4"/>
<line x1="134.6" y1="256.8" x2="134.6" y2="257.90000000000003" stroke="#000" stroke-width="0.4"/>
<line x1="136.28666666666666" y1="256.8" x2="136.28666666666666" y2="257.90000000000003" stroke="#000" stroke-width="0.4"/>
<line x1="137.97333333333333" y1="256.8" x2="137.97333333333333" y2="257.90000000000003" stroke="#000" stroke-width="0.4"/>
<line x1="139.66" y1="256.8" x2="139.66" y2="257.90000000000003" stroke="#000" stroke-width="0.4"/>
<line x1="141.34666666666666" y1="256.8" x2="141.34666666666666" y2="257.90000000000003" stroke="#000" stroke-width="0.4"/>
<line x1="143.03333333333333" y1="256.8" x2="143.03333333333333" y2="257.90000000000003" stroke="#000" stroke-width="0.4"/>
<line x1="144.72" y1="256.8" x2="144.72" y2="257.90000000000003" stroke="#000" stroke-width="0.4"/>
<line x1="146.40666666666667" y1="256.8" x2="146.40666666666667" y2="257.90000000000003" stroke="#000" stroke-width="0.4"/>
<line x1="148.09333333333333" y1="256.8" x2="148.09333333333333" y2="257.90000000000003" stroke="#000" stroke-width="0.4"/>
<line x1="149.78" y1="256.8" x2="149.78" y2="257.90000000000003" stroke="#000" stroke-width="0.4"/>
<line x1="151.46666666666667" y1="256.8" x2="151.46666666666667" y2="257.90000000000003" stroke="#000" stroke-width="0.4"/>
<line x1="153.15333333333334" y1="256.8" x2="153.15333333333334" y2="257.90000000000003" stroke="#000" stroke-width="0.4"/>
<line x1="154.84" y1="256.8" x2="154.84" y2="257.90000000000003" stroke="#000" stroke-width="0.4"/>
<line x1="156.52666666666667" y1="256.8" x2="156.52666666666667" y2="257.90000000000003" stroke="#000" stroke-width="0.4"/>
<line x1="158.2133333333333" y1="256.8" x2="158.2133333333333" y2="257.90000000000003" stroke="#000" stroke-width="0.4"/>
<line x1="159.89999999999998" y1="256.8" x2="159.89999999999998" y2="257.90000000000003" stroke="#000" stroke-width="0.4"/>
<line x1="161.58666666666664" y1="256.8" x2="161.58666666666664" y2="257.90000000000003" stroke="#000" stroke-width="0.4"/>
<line x1="163.2733333333333" y1="256.8" x2="163.2733333333333" y2="257.90000000000003" stroke="#000" stroke-width="0.4"/>
<line x1="164.95999999999998" y1="256.8" x2="164.95999999999998" y2="257.90000000000003" stroke="#000" stroke-width="0.4"/>
<line x1="166.64666666666665" y1="256.8" x2="166.64666666666665" y2="257.90000000000003" stroke="#000" stroke-width="0.4"/>
<line x1="168.33333333333331" y1="256.8" x2="168.33333333333331" y2="257.90000000000003" stroke="#000" stroke-width="0.4"/>
<line x1="170.01999999999998" y1="256.8" x2="170.01999999999998" y2="257.90000000000003" stroke="#000" stroke-width="0.4"/>
<line x1="171.70666666666665" y1="256.8" x2="171.70666666666665" y2="257.90000000000003" stroke="#000" stroke-width="0.4"/>
<line x1="173.39333333333332" y1="256.8" x2="173.39333333333332" y2="257.90000000000003" stroke="#000" stroke-width="0.4"/>
<line x1="175.07999999999998" y1="256.8" x2="175.07999999999998" y2="257.90000000000003" stroke="#000" stroke-width="0.4"/>
<line x1="176.76666666666665" y1="256.8" x2="176.76666666666665" y2="257.90000000000003" stroke="#000" stroke-width="0.4"/>
<line x1="178.45333333333332" y1="256.8" x2="178.45333333333332" y2="257.90000000000003" stroke="#000" stroke-width="0.4"/>
<line x1="180.14" y1="256.8" x2="180.14" y2="257.90000000000003" stroke="#000" stroke-width="0.4"/>
<line x1="181.82666666666665" y1="256.8" x2="181.82666666666665" y2="257.90000000000003" stroke="#000" stroke-width="0.4"/>
<line x1="183.51333333333332" y1="256.8" x2="183.51333333333332" y2="257.90000000000003" stroke="#000" stroke-width="0.4"/>
<line x1="185.2" y1="256.8" x2="185.2" y2="257.90000000000003" stroke="#000" stroke-width="0.4"/>
<line x1="134.6" y1="207" x2="134.6" y2="256.8" stroke="#000" stroke-width="0.9"/>
<line x1="134.2" y1="256.8" x2="185.2" y2="256.8" stroke="#000" stroke-width="0.9"/>
<ellipse cx="151.7" cy="243.6" rx="9.85" ry="5.1" transform="rotate(-56.7 151.7 243.6)" fill="none" stroke="#000" stroke-width="0.75"/>
<ellipse cx="151.1" cy="244.4" rx="6.2" ry="3.2" transform="rotate(-56.7 151.1 244.4)" fill="none" stroke="#666" stroke-width="0.35"/>
<ellipse cx="150.6" cy="245.0" rx="3.8" ry="2.0" transform="rotate(-56.7 150.6 245.0)" fill="none" stroke="#666" stroke-width="0.35"/>
<line x1="132.79999999999998" y1="209.28091603053434" x2="134.6" y2="209.28091603053434" stroke="#000" stroke-width="0.7"/>
<text x="132.29999999999998" y="209.28091603053434" font-size="2.9" font-family='"Liberation Sans", sans-serif' text-anchor="middle" fill="#222" stroke="#222" stroke-width="0.12" transform="rotate(-90 132.29999999999998 209.28091603053434)">250</text>
<line x1="132.79999999999998" y1="218.78473282442746" x2="134.6" y2="218.78473282442746" stroke="#000" stroke-width="0.7"/>
<text x="132.29999999999998" y="218.78473282442746" font-size="2.9" font-family='"Liberation Sans", sans-serif' text-anchor="middle" fill="#222" stroke="#222" stroke-width="0.12" transform="rotate(-90 132.29999999999998 218.78473282442746)">200</text>
<line x1="132.79999999999998" y1="228.28854961832062" x2="134.6" y2="228.28854961832062" stroke="#000" stroke-width="0.7"/>
<text x="132.29999999999998" y="228.28854961832062" font-size="2.9" font-family='"Liberation Sans", sans-serif' text-anchor="middle" fill="#222" stroke="#222" stroke-width="0.12" transform="rotate(-90 132.29999999999998 228.28854961832062)">150</text>
<line x1="132.79999999999998" y1="237.79236641221374" x2="134.6" y2="237.79236641221374" stroke="#000" stroke-width="0.7"/>
<text x="132.29999999999998" y="237.79236641221374" font-size="2.9" font-family='"Liberation Sans", sans-serif' text-anchor="middle" fill="#222" stroke="#222" stroke-width="0.12" transform="rotate(-90 132.29999999999998 237.79236641221374)">100</text>
<line x1="132.79999999999998" y1="247.2961832061069" x2="134.6" y2="247.2961832061069" stroke="#000" stroke-width="0.7"/>
<text x="132.29999999999998" y="247.2961832061069" font-size="2.9" font-family='"Liberation Sans", sans-serif' text-anchor="middle" fill="#222" stroke="#222" stroke-width="0.12" transform="rotate(-90 132.29999999999998 247.2961832061069)">50</text>
<line x1="142.9618320610687" y1="256.8" x2="142.9618320610687" y2="258.6" stroke="#000" stroke-width="0.7"/>
<text x="142.9618320610687" y="263.1" font-size="2.9" font-family='"Liberation Sans", sans-serif' text-anchor="middle" fill="#222" stroke="#222" stroke-width="0.15">50</text>
<line x1="152.9236641221374" y1="256.8" x2="152.9236641221374" y2="258.6" stroke="#000" stroke-width="0.7"/>
<text x="152.9236641221374" y="263.1" font-size="2.9" font-family='"Liberation Sans", sans-serif' text-anchor="middle" fill="#222" stroke="#222" stroke-width="0.15">100</text>
<line x1="162.8854961832061" y1="256.8" x2="162.8854961832061" y2="258.6" stroke="#000" stroke-width="0.7"/>
<text x="162.8854961832061" y="263.1" font-size="2.9" font-family='"Liberation Sans", sans-serif' text-anchor="middle" fill="#222" stroke="#222" stroke-width="0.15">150</text>
<line x1="172.84732824427482" y1="256.8" x2="172.84732824427482" y2="258.6" stroke="#000" stroke-width="0.7"/>
<text x="172.84732824427482" y="263.1" font-size="2.9" font-family='"Liberation Sans", sans-serif' text-anchor="middle" fill="#222" stroke="#222" stroke-width="0.15">200</text>
<line x1="182.8091603053435" y1="256.8" x2="182.8091603053435" y2="258.6" stroke="#000" stroke-width="0.7"/>
<text x="182.8091603053435" y="263.1" font-size="2.9" font-family='"Liberation Sans", sans-serif' text-anchor="middle" fill="#222" stroke="#222" stroke-width="0.15">250</text>
<text x="131" y="215" font-size="2.7" font-family='"Liberation Sans", sans-serif' text-anchor="middle" fill="#222" stroke="#222" stroke-width="0.12" transform="rotate(-90 131 215)">(x 1,000)</text>
<text x="178.9" y="266.5" font-size="2.8" font-family='"Liberation Sans", sans-serif' text-anchor="middle" fill="#222" stroke="#222" stroke-width="0.12">(x 1,000)</text>
<text x="158.5" y="271.9" font-size="6.4" font-family='"Liberation Sans", sans-serif' font-weight="normal" text-anchor="middle" fill="#111" stroke="#111" stroke-width="0.22">FSC</text>
<text x="126.3" y="231.8" font-size="6.2" font-family='"Liberation Sans", sans-serif' font-weight="normal" text-anchor="middle" fill="#111" stroke="#111" stroke-width="0.22" transform="rotate(-90 126.3 231.8)">SSC</text>
<text x="133.7" y="205" font-size="6.45" font-family='"Liberation Sans", sans-serif' fill="#111" stroke="#111" stroke-width="0.15">Skin CD3<tspan font-size="3.8" dy="-2.4">+</tspan><tspan dy="2.4"> T cells</tspan></text>
<line x1="158.2" y1="244.5" x2="211" y2="244.5" stroke="#000" stroke-width="0.75"/>
<path d="M209.5 243.0L212.5 244.5L209.5 246.0z" fill="#000"/>
<path d="M226.9 222.3h1v1h-1zM238.9 223.3h1v1h-1zM215.9 226.3h1v1h-1zM234.9 234.3h1v1h-1zM231.9 235.3h1v1h-1zM233.9 235.3h1v1h-1zM229.9 236.3h1v1h-1zM231.9 236.3h2v1h-2zM205.9 237.3h1v1h-1zM227.9 237.3h1v1h-1zM230.9 237.3h1v1h-1zM233.9 237.3h1v1h-1zM239.9 238.3h1v1h-1zM227.9 239.3h2v1h-2zM233.9 239.3h2v1h-2zM238.9 239.3h1v1h-1zM216.9 240.3h1v1h-1zM221.9 240.3h1v1h-1zM225.9 240.3h1v1h-1zM228.9 240.3h1v1h-1zM234.9 240.3h1v1h-1zM229.9 241.3h1v1h-1zM234.9 241.3h2v1h-2zM223.9 242.3h1v1h-1zM231.9 242.3h1v1h-1zM235.9 243.3h2v1h-2zM225.9 244.3h1v1h-1zM236.9 244.3h1v1h-1zM222.9 245.3h1v1h-1zM229.9 245.3h1v1h-1zM234.9 245.3h1v1h-1zM227.9 246.3h1v1h-1zM229.9 246.3h1v1h-1zM231.9 246.3h2v1h-2zM204.9 248.3h1v1h-1zM226.9 248.3h1v1h-1zM228.9 248.3h1v1h-1zM230.9 248.3h1v1h-1zM224.9 249.3h1v1h-1zM231.9 250.3h1v1h-1zM214.9 256.3h1v1h-1z" fill="rgb(170,170,170)"/>
<path d="M231.9 237.3h1v1h-1zM230.9 238.3h1v1h-1zM231.9 239.3h1v1h-1zM230.9 240.3h1v1h-1zM225.9 241.3h1v1h-1zM228.9 241.3h1v1h-1zM227.9 242.3h1v1h-1zM230.9 242.3h1v1h-1zM228.9 243.3h1v1h-1zM234.9 243.3h1v1h-1zM228.9 245.3h1v1h-1zM232.9 245.3h2v1h-2zM230.9 246.3h1v1h-1zM233.9 246.3h1v1h-1zM228.9 247.3h1v1h-1zM231.9 247.3h1v1h-1zM229.9 249.3h1v1h-1zM231.9 249.3h1v1h-1z" fill="rgb(128,128,128)"/>
<path d="M232.9 237.3h1v1h-1zM230.9 239.3h1v1h-1zM231.9 240.3h1v1h-1zM230.9 241.3h2v1h-2zM231.9 243.3h1v1h-1zM229.9 244.3h1v1h-1z" fill="rgb(85,85,85)"/>
<path d="M232.9 240.3h1v1h-1zM229.9 242.3h1v1h-1zM232.9 242.3h1v1h-1zM229.9 243.3h2v1h-2zM232.9 243.3h2v1h-2zM230.9 244.3h4v1h-4zM231.9 245.3h1v1h-1z" fill="rgb(42,42,42)"/>
<path d="M230.9 245.3h1v1h-1z" fill="rgb(0,0,0)"/>
<ellipse cx="232" cy="243.4" rx="3.6" ry="5" fill="none" stroke="#555" stroke-width="0.4"/>
<ellipse cx="232" cy="243.4" rx="2.2" ry="3.2" fill="none" stroke="#555" stroke-width="0.4"/>
<line x1="203.9" y1="207.3" x2="254" y2="207.3" stroke="#777" stroke-width="0.8"/>
<line x1="254" y1="207.3" x2="254" y2="257" stroke="#777" stroke-width="0.8"/>
<line x1="202.8" y1="257.0" x2="203.9" y2="257.0" stroke="#000" stroke-width="0.4"/>
<line x1="202.8" y1="255.34333333333333" x2="203.9" y2="255.34333333333333" stroke="#000" stroke-width="0.4"/>
<line x1="202.8" y1="253.68666666666667" x2="203.9" y2="253.68666666666667" stroke="#000" stroke-width="0.4"/>
<line x1="202.8" y1="252.03" x2="203.9" y2="252.03" stroke="#000" stroke-width="0.4"/>
<line x1="202.8" y1="250.37333333333333" x2="203.9" y2="250.37333333333333" stroke="#000" stroke-width="0.4"/>
<line x1="202.8" y1="248.71666666666667" x2="203.9" y2="248.71666666666667" stroke="#000" stroke-width="0.4"/>
<line x1="202.8" y1="247.06" x2="203.9" y2="247.06" stroke="#000" stroke-width="0.4"/>
<line x1="202.8" y1="245.40333333333334" x2="203.9" y2="245.40333333333334" stroke="#000" stroke-width="0.4"/>
<line x1="202.8" y1="243.74666666666667" x2="203.9" y2="243.74666666666667" stroke="#000" stroke-width="0.4"/>
<line x1="202.8" y1="242.09" x2="203.9" y2="242.09" stroke="#000" stroke-width="0.4"/>
<line x1="202.8" y1="240.43333333333334" x2="203.9" y2="240.43333333333334" stroke="#000" stroke-width="0.4"/>
<line x1="202.8" y1="238.77666666666667" x2="203.9" y2="238.77666666666667" stroke="#000" stroke-width="0.4"/>
<line x1="202.8" y1="237.12" x2="203.9" y2="237.12" stroke="#000" stroke-width="0.4"/>
<line x1="202.8" y1="235.46333333333334" x2="203.9" y2="235.46333333333334" stroke="#000" stroke-width="0.4"/>
<line x1="202.8" y1="233.80666666666667" x2="203.9" y2="233.80666666666667" stroke="#000" stroke-width="0.4"/>
<line x1="202.8" y1="232.15" x2="203.9" y2="232.15" stroke="#000" stroke-width="0.4"/>
<line x1="202.8" y1="230.49333333333334" x2="203.9" y2="230.49333333333334" stroke="#000" stroke-width="0.4"/>
<line x1="202.8" y1="228.83666666666667" x2="203.9" y2="228.83666666666667" stroke="#000" stroke-width="0.4"/>
<line x1="202.8" y1="227.18" x2="203.9" y2="227.18" stroke="#000" stroke-width="0.4"/>
<line x1="202.8" y1="225.52333333333334" x2="203.9" y2="225.52333333333334" stroke="#000" stroke-width="0.4"/>
<line x1="202.8" y1="223.86666666666667" x2="203.9" y2="223.86666666666667" stroke="#000" stroke-width="0.4"/>
<line x1="202.8" y1="222.21" x2="203.9" y2="222.21" stroke="#000" stroke-width="0.4"/>
<line x1="202.8" y1="220.55333333333334" x2="203.9" y2="220.55333333333334" stroke="#000" stroke-width="0.4"/>
<line x1="202.8" y1="218.89666666666668" x2="203.9" y2="218.89666666666668" stroke="#000" stroke-width="0.4"/>
<line x1="202.8" y1="217.24" x2="203.9" y2="217.24" stroke="#000" stroke-width="0.4"/>
<line x1="202.8" y1="215.58333333333334" x2="203.9" y2="215.58333333333334" stroke="#000" stroke-width="0.4"/>
<line x1="202.8" y1="213.92666666666668" x2="203.9" y2="213.92666666666668" stroke="#000" stroke-width="0.4"/>
<line x1="202.8" y1="212.27" x2="203.9" y2="212.27" stroke="#000" stroke-width="0.4"/>
<line x1="202.8" y1="210.61333333333334" x2="203.9" y2="210.61333333333334" stroke="#000" stroke-width="0.4"/>
<line x1="202.8" y1="208.95666666666668" x2="203.9" y2="208.95666666666668" stroke="#000" stroke-width="0.4"/>
<line x1="202.8" y1="207.3" x2="203.9" y2="207.3" stroke="#000" stroke-width="0.4"/>
<line x1="203.9" y1="257" x2="203.9" y2="258.1" stroke="#000" stroke-width="0.4"/>
<line x1="205.57" y1="257" x2="205.57" y2="258.1" stroke="#000" stroke-width="0.4"/>
<line x1="207.24" y1="257" x2="207.24" y2="258.1" stroke="#000" stroke-width="0.4"/>
<line x1="208.91" y1="257" x2="208.91" y2="258.1" stroke="#000" stroke-width="0.4"/>
<line x1="210.58" y1="257" x2="210.58" y2="258.1" stroke="#000" stroke-width="0.4"/>
<line x1="212.25" y1="257" x2="212.25" y2="258.1" stroke="#000" stroke-width="0.4"/>
<line x1="213.92000000000002" y1="257" x2="213.92000000000002" y2="258.1" stroke="#000" stroke-width="0.4"/>
<line x1="215.59" y1="257" x2="215.59" y2="258.1" stroke="#000" stroke-width="0.4"/>
<line x1="217.26" y1="257" x2="217.26" y2="258.1" stroke="#000" stroke-width="0.4"/>
<line x1="218.93" y1="257" x2="218.93" y2="258.1" stroke="#000" stroke-width="0.4"/>
<line x1="220.6" y1="257" x2="220.6" y2="258.1" stroke="#000" stroke-width="0.4"/>
<line x1="222.27" y1="257" x2="222.27" y2="258.1" stroke="#000" stroke-width="0.4"/>
<line x1="223.94" y1="257" x2="223.94" y2="258.1" stroke="#000" stroke-width="0.4"/>
<line x1="225.61" y1="257" x2="225.61" y2="258.1" stroke="#000" stroke-width="0.4"/>
<line x1="227.28" y1="257" x2="227.28" y2="258.1" stroke="#000" stroke-width="0.4"/>
<line x1="228.95" y1="257" x2="228.95" y2="258.1" stroke="#000" stroke-width="0.4"/>
<line x1="230.62" y1="257" x2="230.62" y2="258.1" stroke="#000" stroke-width="0.4"/>
<line x1="232.29" y1="257" x2="232.29" y2="258.1" stroke="#000" stroke-width="0.4"/>
<line x1="233.96" y1="257" x2="233.96" y2="258.1" stroke="#000" stroke-width="0.4"/>
<line x1="235.63" y1="257" x2="235.63" y2="258.1" stroke="#000" stroke-width="0.4"/>
<line x1="237.3" y1="257" x2="237.3" y2="258.1" stroke="#000" stroke-width="0.4"/>
<line x1="238.97" y1="257" x2="238.97" y2="258.1" stroke="#000" stroke-width="0.4"/>
<line x1="240.64" y1="257" x2="240.64" y2="258.1" stroke="#000" stroke-width="0.4"/>
<line x1="242.31" y1="257" x2="242.31" y2="258.1" stroke="#000" stroke-width="0.4"/>
<line x1="243.98000000000002" y1="257" x2="243.98000000000002" y2="258.1" stroke="#000" stroke-width="0.4"/>
<line x1="245.65" y1="257" x2="245.65" y2="258.1" stroke="#000" stroke-width="0.4"/>
<line x1="247.32" y1="257" x2="247.32" y2="258.1" stroke="#000" stroke-width="0.4"/>
<line x1="248.99" y1="257" x2="248.99" y2="258.1" stroke="#000" stroke-width="0.4"/>
<line x1="250.66" y1="257" x2="250.66" y2="258.1" stroke="#000" stroke-width="0.4"/>
<line x1="252.32999999999998" y1="257" x2="252.32999999999998" y2="258.1" stroke="#000" stroke-width="0.4"/>
<line x1="254.0" y1="257" x2="254.0" y2="258.1" stroke="#000" stroke-width="0.4"/>
<line x1="203.9" y1="207.3" x2="203.9" y2="257" stroke="#000" stroke-width="0.9"/>
<line x1="203.5" y1="257" x2="254" y2="257" stroke="#000" stroke-width="0.9"/>
<line x1="221.6" y1="207.3" x2="221.6" y2="257" stroke="#000" stroke-width="0.8"/>
<line x1="202.1" y1="209.57633587786262" x2="203.9" y2="209.57633587786262" stroke="#000" stroke-width="0.7"/>
<text x="201.6" y="209.57633587786262" font-size="2.9" font-family='"Liberation Sans", sans-serif' text-anchor="middle" fill="#222" stroke="#222" stroke-width="0.12" transform="rotate(-90 201.6 209.57633587786262)">250</text>
<line x1="202.1" y1="219.06106870229007" x2="203.9" y2="219.06106870229007" stroke="#000" stroke-width="0.7"/>
<text x="201.6" y="219.06106870229007" font-size="2.9" font-family='"Liberation Sans", sans-serif' text-anchor="middle" fill="#222" stroke="#222" stroke-width="0.12" transform="rotate(-90 201.6 219.06106870229007)">200</text>
<line x1="202.1" y1="228.54580152671755" x2="203.9" y2="228.54580152671755" stroke="#000" stroke-width="0.7"/>
<text x="201.6" y="228.54580152671755" font-size="2.9" font-family='"Liberation Sans", sans-serif' text-anchor="middle" fill="#222" stroke="#222" stroke-width="0.12" transform="rotate(-90 201.6 228.54580152671755)">150</text>
<line x1="202.1" y1="238.03053435114504" x2="203.9" y2="238.03053435114504" stroke="#000" stroke-width="0.7"/>
<text x="201.6" y="238.03053435114504" font-size="2.9" font-family='"Liberation Sans", sans-serif' text-anchor="middle" fill="#222" stroke="#222" stroke-width="0.12" transform="rotate(-90 201.6 238.03053435114504)">100</text>
<line x1="202.1" y1="247.51526717557252" x2="203.9" y2="247.51526717557252" stroke="#000" stroke-width="0.7"/>
<text x="201.6" y="247.51526717557252" font-size="2.9" font-family='"Liberation Sans", sans-serif' text-anchor="middle" fill="#222" stroke="#222" stroke-width="0.12" transform="rotate(-90 201.6 247.51526717557252)">50</text>
<text x="200.5" y="214" font-size="2.7" font-family='"Liberation Sans", sans-serif' text-anchor="middle" fill="#222" stroke="#222" stroke-width="0.12" transform="rotate(-90 200.5 214)">(x 1,000)</text>
<line x1="210.7" y1="257" x2="210.7" y2="259" stroke="#000" stroke-width="0.7"/>
<text x="209.89999999999998" y="263" font-size="3.2" font-family='"Liberation Sans", sans-serif' text-anchor="middle" fill="#222" stroke="#222" stroke-width="0.2" transform="rotate(-18 209.89999999999998 263)">10<tspan font-size="2.2399999999999998" dy="-1.2">2</tspan></text>
<line x1="223" y1="257" x2="223" y2="259" stroke="#000" stroke-width="0.7"/>
<text x="222.2" y="263" font-size="3.2" font-family='"Liberation Sans", sans-serif' text-anchor="middle" fill="#222" stroke="#222" stroke-width="0.2" transform="rotate(-18 222.2 263)">10<tspan font-size="2.2399999999999998" dy="-1.2">3</tspan></text>
<line x1="236.4" y1="257" x2="236.4" y2="259" stroke="#000" stroke-width="0.7"/>
<text x="235.6" y="263" font-size="3.2" font-family='"Liberation Sans", sans-serif' text-anchor="middle" fill="#222" stroke="#222" stroke-width="0.2" transform="rotate(-18 235.6 263)">10<tspan font-size="2.2399999999999998" dy="-1.2">4</tspan></text>
<line x1="248.8" y1="257" x2="248.8" y2="259" stroke="#000" stroke-width="0.7"/>
<text x="248.0" y="263" font-size="3.2" font-family='"Liberation Sans", sans-serif' text-anchor="middle" fill="#222" stroke="#222" stroke-width="0.2" transform="rotate(-18 248.0 263)">10<tspan font-size="2.2399999999999998" dy="-1.2">5</tspan></text>
<text x="206" y="214.2" font-size="6.4" font-family='"Liberation Sans", sans-serif' font-weight="normal" text-anchor="start" fill="#111" stroke="#111" stroke-width="0.22">0.5</text>
<text x="241" y="214.2" font-size="6.4" font-family='"Liberation Sans", sans-serif' font-weight="normal" text-anchor="start" fill="#111" stroke="#111" stroke-width="0.22">99.5</text>
<text x="195.5" y="231.9" font-size="6.2" font-family='"Liberation Sans", sans-serif' font-weight="normal" text-anchor="middle" fill="#111" stroke="#111" stroke-width="0.22" transform="rotate(-90 195.5 231.9)">SSC</text>
<text x="232.5" y="271.5" font-size="6.2" font-family='"Liberation Sans", sans-serif' font-weight="normal" text-anchor="middle" fill="#111" stroke="#111" stroke-width="0.22">TCR Vβ 3</text>
<text x="290.8" y="190.6" font-size="6.35" font-family='"Liberation Sans", sans-serif' font-weight="normal" text-anchor="start" fill="#111" stroke="#111" stroke-width="0.22">Skin lesion: Pt 057 sudden</text>
<text x="290.8" y="198.3" font-size="6.35" font-family='"Liberation Sans", sans-serif' font-weight="normal" text-anchor="start" fill="#111" stroke="#111" stroke-width="0.22">progression Stage IA→IB</text>
<line x1="282.3" y1="202.1" x2="378.6" y2="202.1" stroke="#666" stroke-width="0.8"/>
<line x1="378.6" y1="202.1" x2="378.6" y2="261.1" stroke="#666" stroke-width="0.8"/>
<line x1="280.8" y1="261.1" x2="282.3" y2="261.1" stroke="#000" stroke-width="0.6"/>
<text x="280.8" y="262.70000000000005" font-size="4.9" font-family='"Liberation Sans", sans-serif' text-anchor="end" fill="#222" stroke="#222" stroke-width="0.15" letter-spacing="-0.1">0</text>
<line x1="280.8" y1="254.54444444444445" x2="282.3" y2="254.54444444444445" stroke="#000" stroke-width="0.6"/>
<text x="280.8" y="256.14444444444445" font-size="4.9" font-family='"Liberation Sans", sans-serif' text-anchor="end" fill="#222" stroke="#222" stroke-width="0.15" letter-spacing="-0.1">10</text>
<line x1="280.8" y1="247.9888888888889" x2="282.3" y2="247.9888888888889" stroke="#000" stroke-width="0.6"/>
<text x="280.8" y="249.5888888888889" font-size="4.9" font-family='"Liberation Sans", sans-serif' text-anchor="end" fill="#222" stroke="#222" stroke-width="0.15" letter-spacing="-0.1">20</text>
<line x1="280.8" y1="241.43333333333334" x2="282.3" y2="241.43333333333334" stroke="#000" stroke-width="0.6"/>
<text x="280.8" y="243.03333333333333" font-size="4.9" font-family='"Liberation Sans", sans-serif' text-anchor="end" fill="#222" stroke="#222" stroke-width="0.15" letter-spacing="-0.1">30</text>
<line x1="280.8" y1="234.8777777777778" x2="282.3" y2="234.8777777777778" stroke="#000" stroke-width="0.6"/>
<text x="280.8" y="236.4777777777778" font-size="4.9" font-family='"Liberation Sans", sans-serif' text-anchor="end" fill="#222" stroke="#222" stroke-width="0.15" letter-spacing="-0.1">40</text>
<line x1="280.8" y1="228.32222222222222" x2="282.3" y2="228.32222222222222" stroke="#000" stroke-width="0.6"/>
<text x="280.8" y="229.92222222222222" font-size="4.9" font-family='"Liberation Sans", sans-serif' text-anchor="end" fill="#222" stroke="#222" stroke-width="0.15" letter-spacing="-0.1">50</text>
<line x1="280.8" y1="221.76666666666668" x2="282.3" y2="221.76666666666668" stroke="#000" stroke-width="0.6"/>
<text x="280.8" y="223.36666666666667" font-size="4.9" font-family='"Liberation Sans", sans-serif' text-anchor="end" fill="#222" stroke="#222" stroke-width="0.15" letter-spacing="-0.1">60</text>
<line x1="280.8" y1="215.2111111111111" x2="282.3" y2="215.2111111111111" stroke="#000" stroke-width="0.6"/>
<text x="280.8" y="216.8111111111111" font-size="4.9" font-family='"Liberation Sans", sans-serif' text-anchor="end" fill="#222" stroke="#222" stroke-width="0.15" letter-spacing="-0.1">70</text>
<line x1="280.8" y1="208.65555555555557" x2="282.3" y2="208.65555555555557" stroke="#000" stroke-width="0.6"/>
<text x="280.8" y="210.25555555555556" font-size="4.9" font-family='"Liberation Sans", sans-serif' text-anchor="end" fill="#222" stroke="#222" stroke-width="0.15" letter-spacing="-0.1">80</text>
<line x1="280.8" y1="202.1" x2="282.3" y2="202.1" stroke="#000" stroke-width="0.6"/>
<text x="280.8" y="203.7" font-size="4.9" font-family='"Liberation Sans", sans-serif' text-anchor="end" fill="#222" stroke="#222" stroke-width="0.15" letter-spacing="-0.1">90</text>
<rect x="282.8" y="260.31333333333333" width="3.2" height="0.786666666666667" fill="#5a5a5a" stroke="#222" stroke-width="0.4"/>
<rect x="335.4" y="206.68888888888887" width="3.2" height="54.41111111111114" fill="#5a5a5a" stroke="#222" stroke-width="0.4"/>
<rect x="343.2" y="260.5755555555556" width="3.2" height="0.5244444444444447" fill="#5a5a5a" stroke="#222" stroke-width="0.4"/>
<rect x="352" y="260.8377777777778" width="3.2" height="0.26222222222222236" fill="#5a5a5a" stroke="#222" stroke-width="0.4"/>
<rect x="363" y="260.77222222222224" width="3.2" height="0.32777777777777795" fill="#5a5a5a" stroke="#222" stroke-width="0.4"/>
<rect x="372" y="260.8377777777778" width="3.2" height="0.26222222222222236" fill="#5a5a5a" stroke="#222" stroke-width="0.4"/>
<line x1="282.3" y1="202.1" x2="282.3" y2="261.1" stroke="#111" stroke-width="0.8"/>
<line x1="282.3" y1="261.1" x2="378.6" y2="261.1" stroke="#111" stroke-width="0.8"/>
<line x1="284.0" y1="261.1" x2="284.0" y2="262.3" stroke="#000" stroke-width="0.4"/>
<text x="282.2" y="265.1" font-size="3.5" font-family='"Liberation Sans", sans-serif' text-anchor="start" fill="#333" stroke="#333" stroke-width="0.2" transform="rotate(50 282.2 265.1)">1</text>
<line x1="286.9" y1="261.1" x2="286.9" y2="262.3" stroke="#000" stroke-width="0.4"/>
<text x="285.09999999999997" y="265.1" font-size="3.5" font-family='"Liberation Sans", sans-serif' text-anchor="start" fill="#333" stroke="#333" stroke-width="0.2" transform="rotate(50 285.09999999999997 265.1)">2</text>
<line x1="289.8" y1="261.1" x2="289.8" y2="262.3" stroke="#000" stroke-width="0.4"/>
<text x="288.0" y="265.1" font-size="3.5" font-family='"Liberation Sans", sans-serif' text-anchor="start" fill="#333" stroke="#333" stroke-width="0.2" transform="rotate(50 288.0 265.1)">3</text>
<line x1="292.7" y1="261.1" x2="292.7" y2="262.3" stroke="#000" stroke-width="0.4"/>
<text x="290.9" y="265.1" font-size="3.5" font-family='"Liberation Sans", sans-serif' text-anchor="start" fill="#333" stroke="#333" stroke-width="0.2" transform="rotate(50 290.9 265.1)">4</text>
<line x1="295.6" y1="261.1" x2="295.6" y2="262.3" stroke="#000" stroke-width="0.4"/>
<text x="293.8" y="265.1" font-size="3.5" font-family='"Liberation Sans", sans-serif' text-anchor="start" fill="#333" stroke="#333" stroke-width="0.2" transform="rotate(50 293.8 265.1)">5.1</text>
<line x1="298.5" y1="261.1" x2="298.5" y2="262.3" stroke="#000" stroke-width="0.4"/>
<text x="296.7" y="265.1" font-size="3.5" font-family='"Liberation Sans", sans-serif' text-anchor="start" fill="#333" stroke="#333" stroke-width="0.2" transform="rotate(50 296.7 265.1)">5.2</text>
<line x1="301.4" y1="261.1" x2="301.4" y2="262.3" stroke="#000" stroke-width="0.4"/>
<text x="299.59999999999997" y="265.1" font-size="3.5" font-family='"Liberation Sans", sans-serif' text-anchor="start" fill="#333" stroke="#333" stroke-width="0.2" transform="rotate(50 299.59999999999997 265.1)">5.3</text>
<line x1="304.3" y1="261.1" x2="304.3" y2="262.3" stroke="#000" stroke-width="0.4"/>
<text x="302.5" y="265.1" font-size="3.5" font-family='"Liberation Sans", sans-serif' text-anchor="start" fill="#333" stroke="#333" stroke-width="0.2" transform="rotate(50 302.5 265.1)">5.4</text>
<line x1="307.2" y1="261.1" x2="307.2" y2="262.3" stroke="#000" stroke-width="0.4"/>
<text x="305.4" y="265.1" font-size="3.5" font-family='"Liberation Sans", sans-serif' text-anchor="start" fill="#333" stroke="#333" stroke-width="0.2" transform="rotate(50 305.4 265.1)">5.5</text>
<line x1="310.1" y1="261.1" x2="310.1" y2="262.3" stroke="#000" stroke-width="0.4"/>
<text x="308.3" y="265.1" font-size="3.5" font-family='"Liberation Sans", sans-serif' text-anchor="start" fill="#333" stroke="#333" stroke-width="0.2" transform="rotate(50 308.3 265.1)">6.1</text>
<line x1="313.0" y1="261.1" x2="313.0" y2="262.3" stroke="#000" stroke-width="0.4"/>
<text x="311.2" y="265.1" font-size="3.5" font-family='"Liberation Sans", sans-serif' text-anchor="start" fill="#333" stroke="#333" stroke-width="0.2" transform="rotate(50 311.2 265.1)">6.2</text>
<line x1="315.9" y1="261.1" x2="315.9" y2="262.3" stroke="#000" stroke-width="0.4"/>
<text x="314.09999999999997" y="265.1" font-size="3.5" font-family='"Liberation Sans", sans-serif' text-anchor="start" fill="#333" stroke="#333" stroke-width="0.2" transform="rotate(50 314.09999999999997 265.1)">6.3</text>
<line x1="318.8" y1="261.1" x2="318.8" y2="262.3" stroke="#000" stroke-width="0.4"/>
<text x="317.0" y="265.1" font-size="3.5" font-family='"Liberation Sans", sans-serif' text-anchor="start" fill="#333" stroke="#333" stroke-width="0.2" transform="rotate(50 317.0 265.1)">6.4</text>
<line x1="321.7" y1="261.1" x2="321.7" y2="262.3" stroke="#000" stroke-width="0.4"/>
<text x="319.9" y="265.1" font-size="3.5" font-family='"Liberation Sans", sans-serif' text-anchor="start" fill="#333" stroke="#333" stroke-width="0.2" transform="rotate(50 319.9 265.1)">7</text>
<line x1="324.6" y1="261.1" x2="324.6" y2="262.3" stroke="#000" stroke-width="0.4"/>
<text x="322.8" y="265.1" font-size="3.5" font-family='"Liberation Sans", sans-serif' text-anchor="start" fill="#333" stroke="#333" stroke-width="0.2" transform="rotate(50 322.8 265.1)">8</text>
<line x1="327.5" y1="261.1" x2="327.5" y2="262.3" stroke="#000" stroke-width="0.4"/>
<text x="325.7" y="265.1" font-size="3.5" font-family='"Liberation Sans", sans-serif' text-anchor="start" fill="#333" stroke="#333" stroke-width="0.2" transform="rotate(50 325.7 265.1)">9</text>
<line x1="330.4" y1="261.1" x2="330.4" y2="262.3" stroke="#000" stroke-width="0.4"/>
<text x="328.59999999999997" y="265.1" font-size="3.5" font-family='"Liberation Sans", sans-serif' text-anchor="start" fill="#333" stroke="#333" stroke-width="0.2" transform="rotate(50 328.59999999999997 265.1)">10</text>
<line x1="333.3" y1="261.1" x2="333.3" y2="262.3" stroke="#000" stroke-width="0.4"/>
<text x="331.5" y="265.1" font-size="3.5" font-family='"Liberation Sans", sans-serif' text-anchor="start" fill="#333" stroke="#333" stroke-width="0.2" transform="rotate(50 331.5 265.1)">11</text>
<line x1="336.2" y1="261.1" x2="336.2" y2="262.3" stroke="#000" stroke-width="0.4"/>
<text x="334.4" y="265.1" font-size="3.5" font-family='"Liberation Sans", sans-serif' text-anchor="start" fill="#333" stroke="#333" stroke-width="0.2" transform="rotate(50 334.4 265.1)">12</text>
<line x1="339.1" y1="261.1" x2="339.1" y2="262.3" stroke="#000" stroke-width="0.4"/>
<text x="337.3" y="265.1" font-size="3.5" font-family='"Liberation Sans", sans-serif' text-anchor="start" fill="#333" stroke="#333" stroke-width="0.2" transform="rotate(50 337.3 265.1)">13.1</text>
<line x1="342.0" y1="261.1" x2="342.0" y2="262.3" stroke="#000" stroke-width="0.4"/>
<text x="340.2" y="265.1" font-size="3.5" font-family='"Liberation Sans", sans-serif' text-anchor="start" fill="#333" stroke="#333" stroke-width="0.2" transform="rotate(50 340.2 265.1)">13.2</text>
<line x1="344.9" y1="261.1" x2="344.9" y2="262.3" stroke="#000" stroke-width="0.4"/>
<text x="343.09999999999997" y="265.1" font-size="3.5" font-family='"Liberation Sans", sans-serif' text-anchor="start" fill="#333" stroke="#333" stroke-width="0.2" transform="rotate(50 343.09999999999997 265.1)">13.3</text>
<line x1="347.8" y1="261.1" x2="347.8" y2="262.3" stroke="#000" stroke-width="0.4"/>
<text x="346.0" y="265.1" font-size="3.5" font-family='"Liberation Sans", sans-serif' text-anchor="start" fill="#333" stroke="#333" stroke-width="0.2" transform="rotate(50 346.0 265.1)">13.4</text>
<line x1="350.7" y1="261.1" x2="350.7" y2="262.3" stroke="#000" stroke-width="0.4"/>
<text x="348.9" y="265.1" font-size="3.5" font-family='"Liberation Sans", sans-serif' text-anchor="start" fill="#333" stroke="#333" stroke-width="0.2" transform="rotate(50 348.9 265.1)">14</text>
<line x1="353.6" y1="261.1" x2="353.6" y2="262.3" stroke="#000" stroke-width="0.4"/>
<text x="351.8" y="265.1" font-size="3.5" font-family='"Liberation Sans", sans-serif' text-anchor="start" fill="#333" stroke="#333" stroke-width="0.2" transform="rotate(50 351.8 265.1)">16</text>
<line x1="356.5" y1="261.1" x2="356.5" y2="262.3" stroke="#000" stroke-width="0.4"/>
<text x="354.7" y="265.1" font-size="3.5" font-family='"Liberation Sans", sans-serif' text-anchor="start" fill="#333" stroke="#333" stroke-width="0.2" transform="rotate(50 354.7 265.1)">17</text>
<line x1="359.4" y1="261.1" x2="359.4" y2="262.3" stroke="#000" stroke-width="0.4"/>
<text x="357.59999999999997" y="265.1" font-size="3.5" font-family='"Liberation Sans", sans-serif' text-anchor="start" fill="#333" stroke="#333" stroke-width="0.2" transform="rotate(50 357.59999999999997 265.1)">18</text>
<line x1="362.3" y1="261.1" x2="362.3" y2="262.3" stroke="#000" stroke-width="0.4"/>
<text x="360.5" y="265.1" font-size="3.5" font-family='"Liberation Sans", sans-serif' text-anchor="start" fill="#333" stroke="#333" stroke-width="0.2" transform="rotate(50 360.5 265.1)">20</text>
<line x1="365.2" y1="261.1" x2="365.2" y2="262.3" stroke="#000" stroke-width="0.4"/>
<text x="363.4" y="265.1" font-size="3.5" font-family='"Liberation Sans", sans-serif' text-anchor="start" fill="#333" stroke="#333" stroke-width="0.2" transform="rotate(50 363.4 265.1)">21</text>
<line x1="368.1" y1="261.1" x2="368.1" y2="262.3" stroke="#000" stroke-width="0.4"/>
<text x="366.3" y="265.1" font-size="3.5" font-family='"Liberation Sans", sans-serif' text-anchor="start" fill="#333" stroke="#333" stroke-width="0.2" transform="rotate(50 366.3 265.1)">22</text>
<line x1="371.0" y1="261.1" x2="371.0" y2="262.3" stroke="#000" stroke-width="0.4"/>
<text x="369.2" y="265.1" font-size="3.5" font-family='"Liberation Sans", sans-serif' text-anchor="start" fill="#333" stroke="#333" stroke-width="0.2" transform="rotate(50 369.2 265.1)">23</text>
<line x1="373.9" y1="261.1" x2="373.9" y2="262.3" stroke="#000" stroke-width="0.4"/>
<text x="372.09999999999997" y="265.1" font-size="3.5" font-family='"Liberation Sans", sans-serif' text-anchor="start" fill="#333" stroke="#333" stroke-width="0.2" transform="rotate(50 372.09999999999997 265.1)">24</text>
<text x="270.6" y="231.3" font-size="6.2" font-family='"Liberation Sans", sans-serif' font-weight="normal" text-anchor="middle" fill="#111" stroke="#111" stroke-width="0.22" transform="rotate(-90 270.6 231.3)">% T cells</text>
<text x="332.75" y="277.7" font-size="6.4" font-family='"Liberation Sans", sans-serif' font-weight="normal" text-anchor="middle" fill="#111" stroke="#111" stroke-width="0.22">TCR Vβ subfamily</text>
<path d="M424.0 239.6h1v1h-1zM430.0 239.6h1v1h-1zM426.0 240.6h1v1h-1zM428.0 240.6h1v1h-1zM445.0 240.6h1v1h-1zM422.0 241.6h1v1h-1zM426.0 241.6h1v1h-1zM428.0 241.6h1v1h-1zM431.0 241.6h1v1h-1zM433.0 241.6h1v1h-1zM435.0 241.6h1v1h-1zM424.0 242.6h2v1h-2zM427.0 242.6h2v1h-2zM431.0 242.6h1v1h-1zM433.0 242.6h1v1h-1zM420.0 243.6h1v1h-1zM425.0 243.6h1v1h-1zM427.0 243.6h1v1h-1zM434.0 244.6h2v1h-2zM437.0 244.6h1v1h-1zM432.0 245.6h1v1h-1zM438.0 245.6h1v1h-1zM434.0 246.6h2v1h-2zM419.0 247.6h2v1h-2zM431.0 247.6h1v1h-1zM432.0 248.6h1v1h-1zM416.0 249.6h1v1h-1zM430.0 249.6h2v1h-2zM433.0 249.6h1v1h-1zM414.0 250.6h1v1h-1zM426.0 250.6h1v1h-1zM429.0 250.6h1v1h-1zM431.0 250.6h1v1h-1zM413.0 251.6h1v1h-1zM422.0 251.6h1v1h-1zM411.0 252.6h2v1h-2zM420.0 252.6h1v1h-1zM430.0 252.6h1v1h-1zM418.0 253.6h1v1h-1zM410.0 255.6h1v1h-1z" fill="rgb(170,170,170)"/>
<path d="M426.0 238.6h1v1h-1zM430.0 240.6h1v1h-1zM430.0 241.6h1v1h-1zM429.0 242.6h1v1h-1zM423.0 243.6h1v1h-1zM428.0 243.6h1v1h-1zM422.0 244.6h1v1h-1zM424.0 244.6h1v1h-1zM433.0 244.6h1v1h-1zM423.0 245.6h1v1h-1zM424.0 246.6h1v1h-1zM430.0 247.6h1v1h-1zM428.0 248.6h1v1h-1zM431.0 248.6h1v1h-1zM417.0 249.6h1v1h-1zM420.0 251.6h1v1h-1zM412.0 253.6h1v1h-1zM417.0 253.6h1v1h-1zM414.0 254.6h1v1h-1zM417.0 254.6h1v1h-1z" fill="rgb(85,85,85)"/>
<path d="M429.0 240.6h1v1h-1zM430.0 242.6h1v1h-1zM426.0 243.6h1v1h-1zM430.0 243.6h1v1h-1zM432.0 243.6h2v1h-2zM425.0 244.6h1v1h-1zM428.0 244.6h1v1h-1zM432.0 244.6h1v1h-1zM424.0 245.6h1v1h-1zM427.0 245.6h1v1h-1zM430.0 245.6h1v1h-1zM421.0 246.6h1v1h-1zM428.0 246.6h1v1h-1zM433.0 246.6h1v1h-1zM428.0 247.6h1v1h-1zM418.0 248.6h1v1h-1zM426.0 248.6h1v1h-1zM430.0 248.6h1v1h-1zM418.0 249.6h1v1h-1zM429.0 249.6h1v1h-1zM415.0 250.6h1v1h-1zM423.0 250.6h1v1h-1zM421.0 251.6h1v1h-1zM413.0 252.6h1v1h-1zM418.0 252.6h2v1h-2zM413.0 253.6h1v1h-1zM413.0 254.6h1v1h-1zM415.0 254.6h1v1h-1z" fill="rgb(42,42,42)"/>
<path d="M429.0 243.6h1v1h-1zM431.0 243.6h1v1h-1zM426.0 244.6h2v1h-2zM429.0 244.6h3v1h-3zM425.0 245.6h2v1h-2zM428.0 245.6h2v1h-2zM431.0 245.6h1v1h-1zM422.0 246.6h2v1h-2zM425.0 246.6h3v1h-3zM429.0 246.6h3v1h-3zM421.0 247.6h7v1h-7zM419.0 248.6h7v1h-7zM427.0 248.6h1v1h-1zM419.0 249.6h7v1h-7zM416.0 250.6h7v1h-7zM414.0 251.6h6v1h-6zM414.0 252.6h4v1h-4zM414.0 253.6h3v1h-3z" fill="rgb(0,0,0)"/>
<line x1="397" y1="208.6" x2="448.3" y2="208.6" stroke="#777" stroke-width="0.8"/>
<line x1="448.3" y1="208.6" x2="448.3" y2="258" stroke="#777" stroke-width="0.8"/>
<line x1="395.9" y1="258.0" x2="397" y2="258.0" stroke="#000" stroke-width="0.4"/>
<line x1="395.9" y1="256.35333333333335" x2="397" y2="256.35333333333335" stroke="#000" stroke-width="0.4"/>
<line x1="395.9" y1="254.70666666666668" x2="397" y2="254.70666666666668" stroke="#000" stroke-width="0.4"/>
<line x1="395.9" y1="253.06" x2="397" y2="253.06" stroke="#000" stroke-width="0.4"/>
<line x1="395.9" y1="251.41333333333333" x2="397" y2="251.41333333333333" stroke="#000" stroke-width="0.4"/>
<line x1="395.9" y1="249.76666666666665" x2="397" y2="249.76666666666665" stroke="#000" stroke-width="0.4"/>
<line x1="395.9" y1="248.12" x2="397" y2="248.12" stroke="#000" stroke-width="0.4"/>
<line x1="395.9" y1="246.47333333333333" x2="397" y2="246.47333333333333" stroke="#000" stroke-width="0.4"/>
<line x1="395.9" y1="244.82666666666665" x2="397" y2="244.82666666666665" stroke="#000" stroke-width="0.4"/>
<line x1="395.9" y1="243.18" x2="397" y2="243.18" stroke="#000" stroke-width="0.4"/>
<line x1="395.9" y1="241.53333333333333" x2="397" y2="241.53333333333333" stroke="#000" stroke-width="0.4"/>
<line x1="395.9" y1="239.88666666666666" x2="397" y2="239.88666666666666" stroke="#000" stroke-width="0.4"/>
<line x1="395.9" y1="238.24" x2="397" y2="238.24" stroke="#000" stroke-width="0.4"/>
<line x1="395.9" y1="236.59333333333333" x2="397" y2="236.59333333333333" stroke="#000" stroke-width="0.4"/>
<line x1="395.9" y1="234.94666666666666" x2="397" y2="234.94666666666666" stroke="#000" stroke-width="0.4"/>
<line x1="395.9" y1="233.3" x2="397" y2="233.3" stroke="#000" stroke-width="0.4"/>
<line x1="395.9" y1="231.65333333333334" x2="397" y2="231.65333333333334" stroke="#000" stroke-width="0.4"/>
<line x1="395.9" y1="230.00666666666666" x2="397" y2="230.00666666666666" stroke="#000" stroke-width="0.4"/>
<line x1="395.9" y1="228.36" x2="397" y2="228.36" stroke="#000" stroke-width="0.4"/>
<line x1="395.9" y1="226.71333333333334" x2="397" y2="226.71333333333334" stroke="#000" stroke-width="0.4"/>
<line x1="395.9" y1="225.06666666666666" x2="397" y2="225.06666666666666" stroke="#000" stroke-width="0.4"/>
<line x1="395.9" y1="223.42" x2="397" y2="223.42" stroke="#000" stroke-width="0.4"/>
<line x1="395.9" y1="221.7733333333333" x2="397" y2="221.7733333333333" stroke="#000" stroke-width="0.4"/>
<line x1="395.9" y1="220.12666666666667" x2="397" y2="220.12666666666667" stroke="#000" stroke-width="0.4"/>
<line x1="395.9" y1="218.48" x2="397" y2="218.48" stroke="#000" stroke-width="0.4"/>
<line x1="395.9" y1="216.83333333333331" x2="397" y2="216.83333333333331" stroke="#000" stroke-width="0.4"/>
<line x1="395.9" y1="215.18666666666667" x2="397" y2="215.18666666666667" stroke="#000" stroke-width="0.4"/>
<line x1="395.9" y1="213.54" x2="397" y2="213.54" stroke="#000" stroke-width="0.4"/>
<line x1="395.9" y1="211.89333333333332" x2="397" y2="211.89333333333332" stroke="#000" stroke-width="0.4"/>
<line x1="395.9" y1="210.24666666666667" x2="397" y2="210.24666666666667" stroke="#000" stroke-width="0.4"/>
<line x1="395.9" y1="208.6" x2="397" y2="208.6" stroke="#000" stroke-width="0.4"/>
<line x1="397.0" y1="258" x2="397.0" y2="259.1" stroke="#000" stroke-width="0.4"/>
<line x1="398.71" y1="258" x2="398.71" y2="259.1" stroke="#000" stroke-width="0.4"/>
<line x1="400.42" y1="258" x2="400.42" y2="259.1" stroke="#000" stroke-width="0.4"/>
<line x1="402.13" y1="258" x2="402.13" y2="259.1" stroke="#000" stroke-width="0.4"/>
<line x1="403.84" y1="258" x2="403.84" y2="259.1" stroke="#000" stroke-width="0.4"/>
<line x1="405.55" y1="258" x2="405.55" y2="259.1" stroke="#000" stroke-width="0.4"/>
<line x1="407.26" y1="258" x2="407.26" y2="259.1" stroke="#000" stroke-width="0.4"/>
<line x1="408.97" y1="258" x2="408.97" y2="259.1" stroke="#000" stroke-width="0.4"/>
<line x1="410.68" y1="258" x2="410.68" y2="259.1" stroke="#000" stroke-width="0.4"/>
<line x1="412.39" y1="258" x2="412.39" y2="259.1" stroke="#000" stroke-width="0.4"/>
<line x1="414.1" y1="258" x2="414.1" y2="259.1" stroke="#000" stroke-width="0.4"/>
<line x1="415.81" y1="258" x2="415.81" y2="259.1" stroke="#000" stroke-width="0.4"/>
<line x1="417.52" y1="258" x2="417.52" y2="259.1" stroke="#000" stroke-width="0.4"/>
<line x1="419.23" y1="258" x2="419.23" y2="259.1" stroke="#000" stroke-width="0.4"/>
<line x1="420.94" y1="258" x2="420.94" y2="259.1" stroke="#000" stroke-width="0.4"/>
<line x1="422.65000000000003" y1="258" x2="422.65000000000003" y2="259.1" stroke="#000" stroke-width="0.4"/>
<line x1="424.36" y1="258" x2="424.36" y2="259.1" stroke="#000" stroke-width="0.4"/>
<line x1="426.07" y1="258" x2="426.07" y2="259.1" stroke="#000" stroke-width="0.4"/>
<line x1="427.78000000000003" y1="258" x2="427.78000000000003" y2="259.1" stroke="#000" stroke-width="0.4"/>
<line x1="429.49" y1="258" x2="429.49" y2="259.1" stroke="#000" stroke-width="0.4"/>
<line x1="431.2" y1="258" x2="431.2" y2="259.1" stroke="#000" stroke-width="0.4"/>
<line x1="432.91" y1="258" x2="432.91" y2="259.1" stroke="#000" stroke-width="0.4"/>
<line x1="434.62" y1="258" x2="434.62" y2="259.1" stroke="#000" stroke-width="0.4"/>
<line x1="436.33000000000004" y1="258" x2="436.33000000000004" y2="259.1" stroke="#000" stroke-width="0.4"/>
<line x1="438.04" y1="258" x2="438.04" y2="259.1" stroke="#000" stroke-width="0.4"/>
<line x1="439.75" y1="258" x2="439.75" y2="259.1" stroke="#000" stroke-width="0.4"/>
<line x1="441.46000000000004" y1="258" x2="441.46000000000004" y2="259.1" stroke="#000" stroke-width="0.4"/>
<line x1="443.17" y1="258" x2="443.17" y2="259.1" stroke="#000" stroke-width="0.4"/>
<line x1="444.88" y1="258" x2="444.88" y2="259.1" stroke="#000" stroke-width="0.4"/>
<line x1="446.59000000000003" y1="258" x2="446.59000000000003" y2="259.1" stroke="#000" stroke-width="0.4"/>
<line x1="448.3" y1="258" x2="448.3" y2="259.1" stroke="#000" stroke-width="0.4"/>
<line x1="397" y1="208.6" x2="397" y2="258" stroke="#000" stroke-width="0.9"/>
<line x1="396.6" y1="258" x2="448.3" y2="258" stroke="#000" stroke-width="0.9"/>
<ellipse cx="431" cy="245" rx="6.6" ry="8.1" transform="rotate(30 431 245)" fill="none" stroke="#000" stroke-width="0.75"/>
<line x1="395.2" y1="210.8625954198473" x2="397" y2="210.8625954198473" stroke="#000" stroke-width="0.7"/>
<text x="394.7" y="210.8625954198473" font-size="2.9" font-family='"Liberation Sans", sans-serif' text-anchor="middle" fill="#222" stroke="#222" stroke-width="0.12" transform="rotate(-90 394.7 210.8625954198473)">250</text>
<line x1="395.2" y1="220.29007633587787" x2="397" y2="220.29007633587787" stroke="#000" stroke-width="0.7"/>
<text x="394.7" y="220.29007633587787" font-size="2.9" font-family='"Liberation Sans", sans-serif' text-anchor="middle" fill="#222" stroke="#222" stroke-width="0.12" transform="rotate(-90 394.7 220.29007633587787)">200</text>
<line x1="395.2" y1="229.7175572519084" x2="397" y2="229.7175572519084" stroke="#000" stroke-width="0.7"/>
<text x="394.7" y="229.7175572519084" font-size="2.9" font-family='"Liberation Sans", sans-serif' text-anchor="middle" fill="#222" stroke="#222" stroke-width="0.12" transform="rotate(-90 394.7 229.7175572519084)">150</text>
<line x1="395.2" y1="239.14503816793894" x2="397" y2="239.14503816793894" stroke="#000" stroke-width="0.7"/>
<text x="394.7" y="239.14503816793894" font-size="2.9" font-family='"Liberation Sans", sans-serif' text-anchor="middle" fill="#222" stroke="#222" stroke-width="0.12" transform="rotate(-90 394.7 239.14503816793894)">100</text>
<line x1="395.2" y1="248.57251908396947" x2="397" y2="248.57251908396947" stroke="#000" stroke-width="0.7"/>
<text x="394.7" y="248.57251908396947" font-size="2.9" font-family='"Liberation Sans", sans-serif' text-anchor="middle" fill="#222" stroke="#222" stroke-width="0.12" transform="rotate(-90 394.7 248.57251908396947)">50</text>
<line x1="405.4954198473282" y1="258" x2="405.4954198473282" y2="259.8" stroke="#000" stroke-width="0.7"/>
<text x="405.4954198473282" y="264.3" font-size="2.9" font-family='"Liberation Sans", sans-serif' text-anchor="middle" fill="#222" stroke="#222" stroke-width="0.15">50</text>
<line x1="415.5908396946565" y1="258" x2="415.5908396946565" y2="259.8" stroke="#000" stroke-width="0.7"/>
<text x="415.5908396946565" y="264.3" font-size="2.9" font-family='"Liberation Sans", sans-serif' text-anchor="middle" fill="#222" stroke="#222" stroke-width="0.15">100</text>
<line x1="425.6862595419847" y1="258" x2="425.6862595419847" y2="259.8" stroke="#000" stroke-width="0.7"/>
<text x="425.6862595419847" y="264.3" font-size="2.9" font-family='"Liberation Sans", sans-serif' text-anchor="middle" fill="#222" stroke="#222" stroke-width="0.15">150</text>
<line x1="435.78167938931296" y1="258" x2="435.78167938931296" y2="259.8" stroke="#000" stroke-width="0.7"/>
<text x="435.78167938931296" y="264.3" font-size="2.9" font-family='"Liberation Sans", sans-serif' text-anchor="middle" fill="#222" stroke="#222" stroke-width="0.15">200</text>
<line x1="445.87709923664124" y1="258" x2="445.87709923664124" y2="259.8" stroke="#000" stroke-width="0.7"/>
<text x="445.87709923664124" y="264.3" font-size="2.9" font-family='"Liberation Sans", sans-serif' text-anchor="middle" fill="#222" stroke="#222" stroke-width="0.15">250</text>
<text x="393.5" y="216" font-size="2.7" font-family='"Liberation Sans", sans-serif' text-anchor="middle" fill="#222" stroke="#222" stroke-width="0.12" transform="rotate(-90 393.5 216)">(x 1,000)</text>
<text x="441" y="267.5" font-size="2.8" font-family='"Liberation Sans", sans-serif' text-anchor="middle" fill="#222" stroke="#222" stroke-width="0.12">(x 1,000)</text>
<text x="420" y="271.6" font-size="6.5" font-family='"Liberation Sans", sans-serif' font-weight="normal" text-anchor="middle" fill="#111" stroke="#111" stroke-width="0.22">FSC</text>
<text x="388.8" y="231.5" font-size="6.2" font-family='"Liberation Sans", sans-serif' font-weight="normal" text-anchor="middle" fill="#111" stroke="#111" stroke-width="0.22" transform="rotate(-90 388.8 231.5)">SSC</text>
<text x="396.5" y="206.0" font-size="6.45" font-family='"Liberation Sans", sans-serif' fill="#111" stroke="#111" stroke-width="0.15">Skin CD3<tspan font-size="3.8" dy="-2.4">+</tspan><tspan dy="2.4"> T cells</tspan></text>
<line x1="438" y1="246.2" x2="467.5" y2="246.2" stroke="#000" stroke-width="0.75"/>
<path d="M466.5 244.79999999999998L469.3 246.2L466.5 247.6z" fill="#000"/>
<path d="M511.3 228.5h1v1h-1zM507.3 230.5h1v1h-1zM488.3 232.5h1v1h-1zM483.3 236.5h1v1h-1zM486.3 236.5h1v1h-1zM492.3 236.5h1v1h-1zM495.3 236.5h1v1h-1zM497.3 236.5h1v1h-1zM476.3 237.5h2v1h-2zM486.3 237.5h1v1h-1zM490.3 237.5h1v1h-1zM494.3 237.5h1v1h-1zM496.3 237.5h1v1h-1zM476.3 238.5h1v1h-1zM482.3 238.5h3v1h-3zM487.3 238.5h1v1h-1zM489.3 238.5h2v1h-2zM492.3 238.5h1v1h-1zM498.3 238.5h1v1h-1zM479.3 239.5h1v1h-1zM482.3 239.5h3v1h-3zM493.3 239.5h1v1h-1zM498.3 240.5h2v1h-2zM472.3 241.5h2v1h-2zM475.3 241.5h1v1h-1zM482.3 241.5h1v1h-1zM495.3 241.5h1v1h-1zM497.3 241.5h1v1h-1zM495.3 242.5h1v1h-1zM471.3 243.5h2v1h-2zM476.3 243.5h1v1h-1zM479.3 243.5h2v1h-2zM493.3 243.5h1v1h-1zM472.3 244.5h1v1h-1zM478.3 244.5h1v1h-1zM480.3 244.5h1v1h-1zM495.3 244.5h2v1h-2zM499.3 244.5h1v1h-1zM504.3 244.5h1v1h-1zM468.3 245.5h5v1h-5zM476.3 245.5h1v1h-1zM478.3 245.5h1v1h-1zM496.3 245.5h1v1h-1zM468.3 246.5h1v1h-1zM470.3 246.5h2v1h-2zM476.3 246.5h2v1h-2zM495.3 246.5h1v1h-1zM499.3 246.5h1v1h-1zM503.3 246.5h2v1h-2zM507.3 246.5h1v1h-1zM468.3 247.5h2v1h-2zM477.3 247.5h1v1h-1zM479.3 247.5h1v1h-1zM494.3 247.5h1v1h-1zM496.3 247.5h1v1h-1zM503.3 247.5h1v1h-1zM470.3 248.5h1v1h-1zM476.3 248.5h1v1h-1zM479.3 248.5h1v1h-1zM491.3 248.5h1v1h-1zM494.3 248.5h1v1h-1zM503.3 248.5h1v1h-1zM508.3 248.5h1v1h-1zM465.3 249.5h1v1h-1zM470.3 249.5h1v1h-1zM475.3 249.5h1v1h-1zM478.3 249.5h1v1h-1zM480.3 249.5h1v1h-1zM492.3 249.5h1v1h-1zM494.3 249.5h2v1h-2zM498.3 249.5h2v1h-2zM473.3 250.5h1v1h-1zM477.3 250.5h1v1h-1zM479.3 250.5h2v1h-2zM490.3 250.5h1v1h-1zM494.3 250.5h1v1h-1zM498.3 250.5h1v1h-1zM503.3 250.5h1v1h-1zM474.3 251.5h1v1h-1zM481.3 251.5h1v1h-1zM490.3 251.5h1v1h-1zM492.3 251.5h1v1h-1zM469.3 252.5h1v1h-1zM483.3 252.5h1v1h-1zM485.3 252.5h1v1h-1zM487.3 252.5h2v1h-2zM492.3 252.5h2v1h-2zM488.3 253.5h1v1h-1zM490.3 253.5h1v1h-1zM481.3 254.5h1v1h-1zM484.3 254.5h1v1h-1zM486.3 254.5h2v1h-2zM490.3 254.5h1v1h-1z" fill="rgb(170,170,170)"/>
<path d="M482.3 236.5h1v1h-1zM485.3 238.5h1v1h-1zM485.3 239.5h2v1h-2zM488.3 239.5h1v1h-1zM491.3 239.5h1v1h-1zM479.3 240.5h1v1h-1zM483.3 240.5h2v1h-2zM486.3 240.5h1v1h-1zM489.3 240.5h2v1h-2zM478.3 241.5h1v1h-1zM491.3 241.5h2v1h-2zM494.3 241.5h1v1h-1zM492.3 242.5h2v1h-2zM495.3 243.5h1v1h-1zM498.3 243.5h1v1h-1zM469.3 244.5h1v1h-1zM479.3 245.5h2v1h-2zM494.3 245.5h1v1h-1zM504.3 245.5h1v1h-1zM472.3 246.5h3v1h-3zM492.3 246.5h1v1h-1zM471.3 247.5h1v1h-1zM474.3 247.5h1v1h-1zM480.3 247.5h1v1h-1zM467.3 248.5h1v1h-1zM471.3 248.5h1v1h-1zM474.3 248.5h2v1h-2zM480.3 248.5h1v1h-1zM493.3 248.5h1v1h-1zM495.3 248.5h1v1h-1zM505.3 248.5h1v1h-1zM481.3 250.5h2v1h-2zM491.3 250.5h1v1h-1zM483.3 251.5h1v1h-1zM488.3 251.5h1v1h-1zM491.3 251.5h1v1h-1zM482.3 252.5h1v1h-1zM483.3 253.5h1v1h-1zM491.3 254.5h1v1h-1z" fill="rgb(85,85,85)"/>
<path d="M485.3 240.5h1v1h-1zM492.3 240.5h1v1h-1zM483.3 241.5h1v1h-1zM486.3 241.5h2v1h-2zM490.3 241.5h1v1h-1zM480.3 242.5h1v1h-1zM482.3 242.5h2v1h-2zM491.3 242.5h1v1h-1zM496.3 242.5h1v1h-1zM483.3 243.5h1v1h-1zM492.3 243.5h1v1h-1zM479.3 244.5h1v1h-1zM481.3 244.5h2v1h-2zM491.3 244.5h1v1h-1zM492.3 245.5h2v1h-2zM479.3 246.5h2v1h-2zM491.3 246.5h1v1h-1zM501.3 246.5h1v1h-1zM478.3 247.5h1v1h-1zM491.3 247.5h1v1h-1zM493.3 247.5h1v1h-1zM495.3 247.5h1v1h-1zM478.3 248.5h1v1h-1zM492.3 248.5h1v1h-1zM479.3 249.5h1v1h-1zM490.3 249.5h2v1h-2zM482.3 251.5h1v1h-1zM484.3 251.5h4v1h-4zM489.3 251.5h1v1h-1zM486.3 252.5h1v1h-1zM489.3 252.5h1v1h-1zM486.3 253.5h1v1h-1zM491.3 253.5h1v1h-1z" fill="rgb(42,42,42)"/>
<path d="M487.3 240.5h1v1h-1zM484.3 241.5h2v1h-2zM488.3 241.5h2v1h-2zM484.3 242.5h7v1h-7zM481.3 243.5h2v1h-2zM484.3 243.5h8v1h-8zM483.3 244.5h8v1h-8zM493.3 244.5h1v1h-1zM481.3 245.5h11v1h-11zM481.3 246.5h10v1h-10zM493.3 246.5h1v1h-1zM481.3 247.5h10v1h-10zM492.3 247.5h1v1h-1zM481.3 248.5h10v1h-10zM481.3 249.5h9v1h-9zM483.3 250.5h7v1h-7z" fill="rgb(0,0,0)"/>
<line x1="464.3" y1="208.5" x2="514" y2="208.5" stroke="#777" stroke-width="0.8"/>
<line x1="514" y1="208.5" x2="514" y2="256.4" stroke="#777" stroke-width="0.8"/>
<line x1="463.2" y1="256.4" x2="464.3" y2="256.4" stroke="#000" stroke-width="0.4"/>
<line x1="463.2" y1="254.8033333333333" x2="464.3" y2="254.8033333333333" stroke="#000" stroke-width="0.4"/>
<line x1="463.2" y1="253.20666666666665" x2="464.3" y2="253.20666666666665" stroke="#000" stroke-width="0.4"/>
<line x1="463.2" y1="251.60999999999999" x2="464.3" y2="251.60999999999999" stroke="#000" stroke-width="0.4"/>
<line x1="463.2" y1="250.01333333333332" x2="464.3" y2="250.01333333333332" stroke="#000" stroke-width="0.4"/>
<line x1="463.2" y1="248.41666666666666" x2="464.3" y2="248.41666666666666" stroke="#000" stroke-width="0.4"/>
<line x1="463.2" y1="246.82" x2="464.3" y2="246.82" stroke="#000" stroke-width="0.4"/>
<line x1="463.2" y1="245.22333333333333" x2="464.3" y2="245.22333333333333" stroke="#000" stroke-width="0.4"/>
<line x1="463.2" y1="243.62666666666664" x2="464.3" y2="243.62666666666664" stroke="#000" stroke-width="0.4"/>
<line x1="463.2" y1="242.02999999999997" x2="464.3" y2="242.02999999999997" stroke="#000" stroke-width="0.4"/>
<line x1="463.2" y1="240.4333333333333" x2="464.3" y2="240.4333333333333" stroke="#000" stroke-width="0.4"/>
<line x1="463.2" y1="238.83666666666664" x2="464.3" y2="238.83666666666664" stroke="#000" stroke-width="0.4"/>
<line x1="463.2" y1="237.23999999999998" x2="464.3" y2="237.23999999999998" stroke="#000" stroke-width="0.4"/>
<line x1="463.2" y1="235.64333333333332" x2="464.3" y2="235.64333333333332" stroke="#000" stroke-width="0.4"/>
<line x1="463.2" y1="234.04666666666665" x2="464.3" y2="234.04666666666665" stroke="#000" stroke-width="0.4"/>
<line x1="463.2" y1="232.45" x2="464.3" y2="232.45" stroke="#000" stroke-width="0.4"/>
<line x1="463.2" y1="230.85333333333332" x2="464.3" y2="230.85333333333332" stroke="#000" stroke-width="0.4"/>
<line x1="463.2" y1="229.25666666666666" x2="464.3" y2="229.25666666666666" stroke="#000" stroke-width="0.4"/>
<line x1="463.2" y1="227.66" x2="464.3" y2="227.66" stroke="#000" stroke-width="0.4"/>
<line x1="463.2" y1="226.06333333333333" x2="464.3" y2="226.06333333333333" stroke="#000" stroke-width="0.4"/>
<line x1="463.2" y1="224.46666666666667" x2="464.3" y2="224.46666666666667" stroke="#000" stroke-width="0.4"/>
<line x1="463.2" y1="222.87" x2="464.3" y2="222.87" stroke="#000" stroke-width="0.4"/>
<line x1="463.2" y1="221.2733333333333" x2="464.3" y2="221.2733333333333" stroke="#000" stroke-width="0.4"/>
<line x1="463.2" y1="219.67666666666668" x2="464.3" y2="219.67666666666668" stroke="#000" stroke-width="0.4"/>
<line x1="463.2" y1="218.07999999999998" x2="464.3" y2="218.07999999999998" stroke="#000" stroke-width="0.4"/>
<line x1="463.2" y1="216.48333333333332" x2="464.3" y2="216.48333333333332" stroke="#000" stroke-width="0.4"/>
<line x1="463.2" y1="214.88666666666666" x2="464.3" y2="214.88666666666666" stroke="#000" stroke-width="0.4"/>
<line x1="463.2" y1="213.29" x2="464.3" y2="213.29" stroke="#000" stroke-width="0.4"/>
<line x1="463.2" y1="211.69333333333333" x2="464.3" y2="211.69333333333333" stroke="#000" stroke-width="0.4"/>
<line x1="463.2" y1="210.09666666666666" x2="464.3" y2="210.09666666666666" stroke="#000" stroke-width="0.4"/>
<line x1="463.2" y1="208.5" x2="464.3" y2="208.5" stroke="#000" stroke-width="0.4"/>
<line x1="464.3" y1="256.4" x2="464.3" y2="257.5" stroke="#000" stroke-width="0.4"/>
<line x1="465.9566666666667" y1="256.4" x2="465.9566666666667" y2="257.5" stroke="#000" stroke-width="0.4"/>
<line x1="467.61333333333334" y1="256.4" x2="467.61333333333334" y2="257.5" stroke="#000" stroke-width="0.4"/>
<line x1="469.27" y1="256.4" x2="469.27" y2="257.5" stroke="#000" stroke-width="0.4"/>
<line x1="470.9266666666667" y1="256.4" x2="470.9266666666667" y2="257.5" stroke="#000" stroke-width="0.4"/>
<line x1="472.58333333333337" y1="256.4" x2="472.58333333333337" y2="257.5" stroke="#000" stroke-width="0.4"/>
<line x1="474.24" y1="256.4" x2="474.24" y2="257.5" stroke="#000" stroke-width="0.4"/>
<line x1="475.89666666666665" y1="256.4" x2="475.89666666666665" y2="257.5" stroke="#000" stroke-width="0.4"/>
<line x1="477.55333333333334" y1="256.4" x2="477.55333333333334" y2="257.5" stroke="#000" stroke-width="0.4"/>
<line x1="479.21000000000004" y1="256.4" x2="479.21000000000004" y2="257.5" stroke="#000" stroke-width="0.4"/>
<line x1="480.8666666666667" y1="256.4" x2="480.8666666666667" y2="257.5" stroke="#000" stroke-width="0.4"/>
<line x1="482.5233333333333" y1="256.4" x2="482.5233333333333" y2="257.5" stroke="#000" stroke-width="0.4"/>
<line x1="484.18" y1="256.4" x2="484.18" y2="257.5" stroke="#000" stroke-width="0.4"/>
<line x1="485.8366666666667" y1="256.4" x2="485.8366666666667" y2="257.5" stroke="#000" stroke-width="0.4"/>
<line x1="487.49333333333334" y1="256.4" x2="487.49333333333334" y2="257.5" stroke="#000" stroke-width="0.4"/>
<line x1="489.15" y1="256.4" x2="489.15" y2="257.5" stroke="#000" stroke-width="0.4"/>
<line x1="490.8066666666667" y1="256.4" x2="490.8066666666667" y2="257.5" stroke="#000" stroke-width="0.4"/>
<line x1="492.46333333333337" y1="256.4" x2="492.46333333333337" y2="257.5" stroke="#000" stroke-width="0.4"/>
<line x1="494.12" y1="256.4" x2="494.12" y2="257.5" stroke="#000" stroke-width="0.4"/>
<line x1="495.77666666666664" y1="256.4" x2="495.77666666666664" y2="257.5" stroke="#000" stroke-width="0.4"/>
<line x1="497.43333333333334" y1="256.4" x2="497.43333333333334" y2="257.5" stroke="#000" stroke-width="0.4"/>
<line x1="499.09000000000003" y1="256.4" x2="499.09000000000003" y2="257.5" stroke="#000" stroke-width="0.4"/>
<line x1="500.74666666666667" y1="256.4" x2="500.74666666666667" y2="257.5" stroke="#000" stroke-width="0.4"/>
<line x1="502.4033333333333" y1="256.4" x2="502.4033333333333" y2="257.5" stroke="#000" stroke-width="0.4"/>
<line x1="504.06" y1="256.4" x2="504.06" y2="257.5" stroke="#000" stroke-width="0.4"/>
<line x1="505.7166666666667" y1="256.4" x2="505.7166666666667" y2="257.5" stroke="#000" stroke-width="0.4"/>
<line x1="507.37333333333333" y1="256.4" x2="507.37333333333333" y2="257.5" stroke="#000" stroke-width="0.4"/>
<line x1="509.03" y1="256.4" x2="509.03" y2="257.5" stroke="#000" stroke-width="0.4"/>
<line x1="510.68666666666667" y1="256.4" x2="510.68666666666667" y2="257.5" stroke="#000" stroke-width="0.4"/>
<line x1="512.3433333333334" y1="256.4" x2="512.3433333333334" y2="257.5" stroke="#000" stroke-width="0.4"/>
<line x1="514.0" y1="256.4" x2="514.0" y2="257.5" stroke="#000" stroke-width="0.4"/>
<line x1="464.3" y1="208.5" x2="464.3" y2="256.4" stroke="#000" stroke-width="0.9"/>
<line x1="463.90000000000003" y1="256.4" x2="514" y2="256.4" stroke="#000" stroke-width="0.9"/>
<line x1="477.7" y1="208.5" x2="477.7" y2="256.4" stroke="#888" stroke-width="0.8"/>
<line x1="462.5" y1="210.693893129771" x2="464.3" y2="210.693893129771" stroke="#000" stroke-width="0.7"/>
<text x="462.0" y="210.693893129771" font-size="2.9" font-family='"Liberation Sans", sans-serif' text-anchor="middle" fill="#222" stroke="#222" stroke-width="0.12" transform="rotate(-90 462.0 210.693893129771)">250</text>
<line x1="462.5" y1="219.83511450381678" x2="464.3" y2="219.83511450381678" stroke="#000" stroke-width="0.7"/>
<text x="462.0" y="219.83511450381678" font-size="2.9" font-family='"Liberation Sans", sans-serif' text-anchor="middle" fill="#222" stroke="#222" stroke-width="0.12" transform="rotate(-90 462.0 219.83511450381678)">200</text>
<line x1="462.5" y1="228.9763358778626" x2="464.3" y2="228.9763358778626" stroke="#000" stroke-width="0.7"/>
<text x="462.0" y="228.9763358778626" font-size="2.9" font-family='"Liberation Sans", sans-serif' text-anchor="middle" fill="#222" stroke="#222" stroke-width="0.12" transform="rotate(-90 462.0 228.9763358778626)">150</text>
<line x1="462.5" y1="238.11755725190838" x2="464.3" y2="238.11755725190838" stroke="#000" stroke-width="0.7"/>
<text x="462.0" y="238.11755725190838" font-size="2.9" font-family='"Liberation Sans", sans-serif' text-anchor="middle" fill="#222" stroke="#222" stroke-width="0.12" transform="rotate(-90 462.0 238.11755725190838)">100</text>
<line x1="462.5" y1="247.25877862595416" x2="464.3" y2="247.25877862595416" stroke="#000" stroke-width="0.7"/>
<text x="462.0" y="247.25877862595416" font-size="2.9" font-family='"Liberation Sans", sans-serif' text-anchor="middle" fill="#222" stroke="#222" stroke-width="0.12" transform="rotate(-90 462.0 247.25877862595416)">50</text>
<text x="460.5" y="215" font-size="2.7" font-family='"Liberation Sans", sans-serif' text-anchor="middle" fill="#222" stroke="#222" stroke-width="0.12" transform="rotate(-90 460.5 215)">(x 1,000)</text>
<line x1="470" y1="256.4" x2="470" y2="258.4" stroke="#000" stroke-width="0.7"/>
<text x="469.2" y="262.4" font-size="3.2" font-family='"Liberation Sans", sans-serif' text-anchor="middle" fill="#222" stroke="#222" stroke-width="0.2" transform="rotate(-18 469.2 262.4)">10<tspan font-size="2.2399999999999998" dy="-1.2">2</tspan></text>
<line x1="481" y1="256.4" x2="481" y2="258.4" stroke="#000" stroke-width="0.7"/>
<text x="480.2" y="262.4" font-size="3.2" font-family='"Liberation Sans", sans-serif' text-anchor="middle" fill="#222" stroke="#222" stroke-width="0.2" transform="rotate(-18 480.2 262.4)">10<tspan font-size="2.2399999999999998" dy="-1.2">3</tspan></text>
<line x1="494" y1="256.4" x2="494" y2="258.4" stroke="#000" stroke-width="0.7"/>
<text x="493.2" y="262.4" font-size="3.2" font-family='"Liberation Sans", sans-serif' text-anchor="middle" fill="#222" stroke="#222" stroke-width="0.2" transform="rotate(-18 493.2 262.4)">10<tspan font-size="2.2399999999999998" dy="-1.2">4</tspan></text>
<line x1="508" y1="256.4" x2="508" y2="258.4" stroke="#000" stroke-width="0.7"/>
<text x="507.2" y="262.4" font-size="3.2" font-family='"Liberation Sans", sans-serif' text-anchor="middle" fill="#222" stroke="#222" stroke-width="0.2" transform="rotate(-18 507.2 262.4)">10<tspan font-size="2.2399999999999998" dy="-1.2">5</tspan></text>
<text x="467" y="214.6" font-size="6.4" font-family='"Liberation Sans", sans-serif' font-weight="normal" text-anchor="start" fill="#111" stroke="#111" stroke-width="0.22">2</text>
<text x="506.5" y="214.6" font-size="6.4" font-family='"Liberation Sans", sans-serif' font-weight="normal" text-anchor="start" fill="#111" stroke="#111" stroke-width="0.22">98</text>
<text x="456.7" y="231.7" font-size="6.2" font-family='"Liberation Sans", sans-serif' font-weight="normal" text-anchor="middle" fill="#111" stroke="#111" stroke-width="0.22" transform="rotate(-90 456.7 231.7)">SSC</text>
<text x="492.9" y="272.3" font-size="6.6" font-family='"Liberation Sans", sans-serif' font-weight="normal" text-anchor="middle" fill="#111" stroke="#111" stroke-width="0.22">TCR Vβ 13.1</text>
</svg></body></html>
